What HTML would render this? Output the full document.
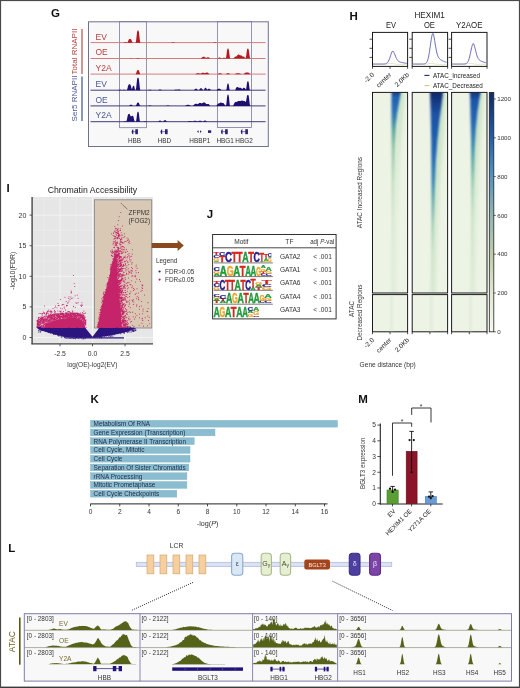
<!DOCTYPE html>
<html><head><meta charset="utf-8"><style>
html,body{margin:0;padding:0;background:#fff;width:520px;height:688px;overflow:hidden}
svg{display:block;will-change:transform}
text{font-family:"Liberation Sans",sans-serif}
</style></head><body>
<svg width="520" height="688" viewBox="0 0 520 688">
<rect width="520" height="688" fill="#fff"/>
<text x="51.00" y="16.80" font-size="11.5" fill="#111" text-anchor="start" font-weight="bold" >G</text>
<rect x="88.50" y="21.80" width="179.80" height="124.70" fill="#f8f8f9" stroke="#70708f" stroke-width="1" />
<rect x="119.60" y="21.50" width="26.80" height="106.20" fill="none" stroke="#7c7c9e" stroke-width="0.8" />
<rect x="217.50" y="21.50" width="34.00" height="106.00" fill="none" stroke="#7c7c9e" stroke-width="0.8" />
<line x1="90.50" y1="42.60" x2="265.60" y2="42.60" stroke="#d47c7c" stroke-width="1" />
<path d="M91.00,42.70 L91.00,42.70 L91.40,42.70 L91.80,42.70 L92.20,42.70 L92.60,42.70 L93.00,42.70 L93.40,42.70 L93.80,42.70 L94.20,42.70 L94.60,42.70 L95.00,42.70 L95.40,42.70 L95.80,42.70 L96.20,42.70 L96.60,42.70 L97.00,42.70 L97.40,42.70 L97.80,42.70 L98.20,42.70 L98.60,42.70 L99.00,42.70 L99.40,42.70 L99.80,42.70 L100.20,42.70 L100.60,42.70 L101.00,42.70 L101.40,42.70 L101.80,42.70 L102.20,42.70 L102.60,42.70 L103.00,42.70 L103.40,42.70 L103.80,42.70 L104.20,42.70 L104.60,42.70 L105.00,42.70 L105.40,42.70 L105.80,42.70 L106.20,42.70 L106.60,42.70 L107.00,42.70 L107.40,42.70 L107.80,42.70 L108.20,42.70 L108.60,42.70 L109.00,42.70 L109.40,42.70 L109.80,42.70 L110.20,42.70 L110.60,42.70 L111.00,42.70 L111.40,42.70 L111.80,42.70 L112.20,42.70 L112.60,42.70 L113.00,42.70 L113.40,42.70 L113.80,42.70 L114.20,42.70 L114.60,42.70 L115.00,42.70 L115.40,42.70 L115.80,42.70 L116.20,42.70 L116.60,42.70 L117.00,42.70 L117.40,42.70 L117.80,42.70 L118.20,42.70 L118.60,42.70 L119.00,42.70 L119.40,42.70 L119.80,42.70 L120.20,42.70 L120.60,42.70 L121.00,42.70 L121.40,42.70 L121.80,42.70 L122.20,42.70 L122.60,42.70 L123.00,42.70 L123.40,42.69 L123.80,42.61 L124.20,42.42 L124.60,42.21 L125.00,42.12 L125.40,42.10 L125.80,42.10 L126.20,42.15 L126.60,42.30 L127.00,42.48 L127.40,42.42 L127.80,41.88 L128.20,40.93 L128.60,39.93 L129.00,39.25 L129.40,38.96 L129.80,38.90 L130.20,38.90 L130.60,38.96 L131.00,39.25 L131.40,39.93 L131.80,40.93 L132.20,41.89 L132.60,42.46 L133.00,42.66 L133.40,42.70 L133.80,42.70 L134.20,42.70 L134.60,42.70 L135.00,42.70 L135.40,42.65 L135.80,42.15 L136.20,40.07 L136.60,36.21 L137.00,32.60 L137.40,30.80 L137.80,30.41 L138.20,30.41 L138.60,30.80 L139.00,32.60 L139.40,36.21 L139.80,40.07 L140.20,42.15 L140.60,42.65 L141.00,42.70 L141.40,42.70 L141.80,42.70 L142.20,42.70 L142.60,42.70 L143.00,42.70 L143.40,42.70 L143.80,42.70 L144.20,42.70 L144.60,42.70 L145.00,42.70 L145.40,42.70 L145.80,42.70 L146.20,42.70 L146.60,42.70 L147.00,42.70 L147.40,42.70 L147.80,42.70 L148.20,42.70 L148.60,42.70 L149.00,42.70 L149.40,42.70 L149.80,42.70 L150.20,42.70 L150.60,42.70 L151.00,42.70 L151.40,42.70 L151.80,42.70 L152.20,42.70 L152.60,42.70 L153.00,42.70 L153.40,42.70 L153.80,42.70 L154.20,42.70 L154.60,42.70 L155.00,42.70 L155.40,42.70 L155.80,42.70 L156.20,42.70 L156.60,42.70 L157.00,42.70 L157.40,42.70 L157.80,42.70 L158.20,42.70 L158.60,42.70 L159.00,42.70 L159.40,42.70 L159.80,42.70 L160.20,42.70 L160.60,42.70 L161.00,42.70 L161.40,42.70 L161.80,42.70 L162.20,42.70 L162.60,42.70 L163.00,42.70 L163.40,42.70 L163.80,42.70 L164.20,42.70 L164.60,42.70 L165.00,42.70 L165.40,42.70 L165.80,42.70 L166.20,42.70 L166.60,42.70 L167.00,42.70 L167.40,42.70 L167.80,42.70 L168.20,42.70 L168.60,42.70 L169.00,42.70 L169.40,42.70 L169.80,42.70 L170.20,42.70 L170.60,42.70 L171.00,42.69 L171.40,42.61 L171.80,42.47 L172.20,42.35 L172.60,42.30 L173.00,42.30 L173.40,42.30 L173.80,42.35 L174.20,42.47 L174.60,42.61 L175.00,42.69 L175.40,42.70 L175.80,42.70 L176.20,42.70 L176.60,42.70 L177.00,42.70 L177.40,42.70 L177.80,42.70 L178.20,42.70 L178.60,42.70 L179.00,42.70 L179.40,42.70 L179.80,42.70 L180.20,42.70 L180.60,42.70 L181.00,42.70 L181.40,42.70 L181.80,42.70 L182.20,42.70 L182.60,42.70 L183.00,42.70 L183.40,42.70 L183.80,42.70 L184.20,42.70 L184.60,42.70 L185.00,42.70 L185.40,42.70 L185.80,42.70 L186.20,42.70 L186.60,42.70 L187.00,42.70 L187.40,42.70 L187.80,42.70 L188.20,42.70 L188.60,42.70 L189.00,42.70 L189.40,42.70 L189.80,42.70 L190.20,42.70 L190.60,42.70 L191.00,42.70 L191.40,42.70 L191.80,42.70 L192.20,42.70 L192.60,42.70 L193.00,42.70 L193.40,42.70 L193.80,42.70 L194.20,42.70 L194.60,42.70 L195.00,42.70 L195.40,42.70 L195.80,42.70 L196.20,42.70 L196.60,42.70 L197.00,42.70 L197.40,42.70 L197.80,42.70 L198.20,42.70 L198.60,42.70 L199.00,42.70 L199.40,42.70 L199.80,42.70 L200.20,42.70 L200.60,42.70 L201.00,42.70 L201.40,42.70 L201.80,42.70 L202.20,42.70 L202.60,42.70 L203.00,42.70 L203.40,42.70 L203.80,42.70 L204.20,42.70 L204.60,42.70 L205.00,42.70 L205.40,42.70 L205.80,42.70 L206.20,42.70 L206.60,42.70 L207.00,42.70 L207.40,42.70 L207.80,42.70 L208.20,42.70 L208.60,42.70 L209.00,42.70 L209.40,42.70 L209.80,42.70 L210.20,42.70 L210.60,42.70 L211.00,42.70 L211.40,42.70 L211.80,42.70 L212.20,42.70 L212.60,42.70 L213.00,42.68 L213.40,42.59 L213.80,42.42 L214.20,42.26 L214.60,42.21 L215.00,42.20 L215.40,42.21 L215.80,42.26 L216.20,42.42 L216.60,42.59 L217.00,42.68 L217.40,42.70 L217.80,42.70 L218.20,42.70 L218.60,42.70 L219.00,42.70 L219.40,42.70 L219.80,42.70 L220.20,42.70 L220.60,42.70 L221.00,42.70 L221.40,42.70 L221.80,42.70 L222.20,42.70 L222.60,42.70 L223.00,42.70 L223.40,42.70 L223.80,42.70 L224.20,42.70 L224.60,42.70 L225.00,42.70 L225.40,42.70 L225.80,42.70 L226.20,42.70 L226.60,42.70 L227.00,42.70 L227.40,42.70 L227.80,42.70 L228.20,42.70 L228.60,42.70 L229.00,42.70 L229.40,42.70 L229.80,42.70 L230.20,42.70 L230.60,42.70 L231.00,42.70 L231.40,42.70 L231.80,42.70 L232.20,42.70 L232.60,42.70 L233.00,42.70 L233.40,42.70 L233.80,42.70 L234.20,42.70 L234.60,42.70 L235.00,42.70 L235.40,42.70 L235.80,42.70 L236.20,42.70 L236.60,42.70 L237.00,42.70 L237.40,42.70 L237.80,42.70 L238.20,42.70 L238.60,42.70 L239.00,42.70 L239.40,42.70 L239.80,42.70 L240.20,42.70 L240.60,42.70 L241.00,42.70 L241.40,42.70 L241.80,42.70 L242.20,42.70 L242.60,42.70 L243.00,42.70 L243.40,42.70 L243.80,42.70 L244.20,42.70 L244.60,42.70 L245.00,42.70 L245.40,42.70 L245.80,42.70 L246.20,42.70 L246.60,42.70 L247.00,42.70 L247.40,42.70 L247.80,42.70 L248.20,42.70 L248.60,42.70 L249.00,42.70 L249.40,42.70 L249.80,42.70 L250.20,42.70 L250.60,42.70 L251.00,42.70 L251.40,42.70 L251.80,42.70 L252.20,42.70 L252.60,42.70 L253.00,42.70 L253.40,42.70 L253.80,42.70 L254.20,42.70 L254.60,42.70 L255.00,42.70 L255.40,42.70 L255.80,42.70 L256.20,42.70 L256.60,42.70 L257.00,42.70 L257.40,42.70 L257.80,42.70 L258.20,42.70 L258.60,42.70 L259.00,42.70 L259.40,42.70 L259.80,42.70 L260.20,42.70 L260.60,42.70 L261.00,42.70 L261.40,42.70 L261.80,42.70 L262.20,42.70 L262.60,42.70 L263.00,42.70 L263.40,42.70 L263.80,42.70 L264.20,42.70 L264.60,42.70 L265.00,42.70 L265.00,42.70Z" fill="#b3191f"/>
<line x1="90.50" y1="58.50" x2="265.60" y2="58.50" stroke="#d47c7c" stroke-width="1" />
<path d="M91.00,58.60 L91.00,58.60 L91.40,58.60 L91.80,58.60 L92.20,58.60 L92.60,58.60 L93.00,58.60 L93.40,58.60 L93.80,58.60 L94.20,58.60 L94.60,58.60 L95.00,58.60 L95.40,58.60 L95.80,58.60 L96.20,58.60 L96.60,58.60 L97.00,58.60 L97.40,58.60 L97.80,58.60 L98.20,58.60 L98.60,58.60 L99.00,58.60 L99.40,58.60 L99.80,58.60 L100.20,58.60 L100.60,58.60 L101.00,58.60 L101.40,58.60 L101.80,58.60 L102.20,58.60 L102.60,58.60 L103.00,58.60 L103.40,58.60 L103.80,58.60 L104.20,58.60 L104.60,58.60 L105.00,58.60 L105.40,58.60 L105.80,58.60 L106.20,58.60 L106.60,58.60 L107.00,58.60 L107.40,58.60 L107.80,58.60 L108.20,58.60 L108.60,58.60 L109.00,58.60 L109.40,58.60 L109.80,58.60 L110.20,58.60 L110.60,58.60 L111.00,58.60 L111.40,58.60 L111.80,58.60 L112.20,58.60 L112.60,58.60 L113.00,58.60 L113.40,58.60 L113.80,58.60 L114.20,58.60 L114.60,58.60 L115.00,58.60 L115.40,58.60 L115.80,58.60 L116.20,58.60 L116.60,58.60 L117.00,58.60 L117.40,58.60 L117.80,58.60 L118.20,58.60 L118.60,58.60 L119.00,58.60 L119.40,58.60 L119.80,58.60 L120.20,58.60 L120.60,58.60 L121.00,58.60 L121.40,58.60 L121.80,58.60 L122.20,58.60 L122.60,58.60 L123.00,58.60 L123.40,58.60 L123.80,58.60 L124.20,58.60 L124.60,58.60 L125.00,58.60 L125.40,58.60 L125.80,58.60 L126.20,58.60 L126.60,58.60 L127.00,58.60 L127.40,58.60 L127.80,58.60 L128.20,58.60 L128.60,58.60 L129.00,58.59 L129.40,58.51 L129.80,58.37 L130.20,58.25 L130.60,58.20 L131.00,58.20 L131.40,58.20 L131.80,58.25 L132.20,58.37 L132.60,58.51 L133.00,58.59 L133.40,58.60 L133.80,58.60 L134.20,58.60 L134.60,58.60 L135.00,58.60 L135.40,58.60 L135.80,58.59 L136.20,58.54 L136.60,58.37 L137.00,58.15 L137.40,58.03 L137.80,58.00 L138.20,58.00 L138.60,58.03 L139.00,58.15 L139.40,58.37 L139.80,58.54 L140.20,58.59 L140.60,58.60 L141.00,58.60 L141.40,58.60 L141.80,58.60 L142.20,58.60 L142.60,58.60 L143.00,58.60 L143.40,58.60 L143.80,58.60 L144.20,58.60 L144.60,58.60 L145.00,58.60 L145.40,58.60 L145.80,58.60 L146.20,58.60 L146.60,58.60 L147.00,58.60 L147.40,58.60 L147.80,58.60 L148.20,58.60 L148.60,58.60 L149.00,58.60 L149.40,58.60 L149.80,58.60 L150.20,58.60 L150.60,58.60 L151.00,58.60 L151.40,58.60 L151.80,58.60 L152.20,58.60 L152.60,58.60 L153.00,58.60 L153.40,58.60 L153.80,58.60 L154.20,58.60 L154.60,58.60 L155.00,58.60 L155.40,58.60 L155.80,58.60 L156.20,58.60 L156.60,58.60 L157.00,58.60 L157.40,58.60 L157.80,58.60 L158.20,58.60 L158.60,58.60 L159.00,58.60 L159.40,58.60 L159.80,58.60 L160.20,58.60 L160.60,58.60 L161.00,58.60 L161.40,58.60 L161.80,58.60 L162.20,58.60 L162.60,58.60 L163.00,58.60 L163.40,58.60 L163.80,58.60 L164.20,58.60 L164.60,58.60 L165.00,58.60 L165.40,58.60 L165.80,58.60 L166.20,58.60 L166.60,58.60 L167.00,58.60 L167.40,58.60 L167.80,58.60 L168.20,58.60 L168.60,58.60 L169.00,58.60 L169.40,58.60 L169.80,58.60 L170.20,58.60 L170.60,58.60 L171.00,58.60 L171.40,58.60 L171.80,58.60 L172.20,58.60 L172.60,58.60 L173.00,58.60 L173.40,58.60 L173.80,58.60 L174.20,58.60 L174.60,58.60 L175.00,58.60 L175.40,58.60 L175.80,58.60 L176.20,58.60 L176.60,58.60 L177.00,58.60 L177.40,58.60 L177.80,58.60 L178.20,58.60 L178.60,58.60 L179.00,58.60 L179.40,58.60 L179.80,58.60 L180.20,58.60 L180.60,58.60 L181.00,58.60 L181.40,58.60 L181.80,58.60 L182.20,58.60 L182.60,58.60 L183.00,58.60 L183.40,58.60 L183.80,58.60 L184.20,58.60 L184.60,58.60 L185.00,58.60 L185.40,58.60 L185.80,58.60 L186.20,58.60 L186.60,58.60 L187.00,58.60 L187.40,58.60 L187.80,58.60 L188.20,58.60 L188.60,58.60 L189.00,58.60 L189.40,58.60 L189.80,58.60 L190.20,58.60 L190.60,58.60 L191.00,58.60 L191.40,58.60 L191.80,58.60 L192.20,58.60 L192.60,58.60 L193.00,58.60 L193.40,58.60 L193.80,58.60 L194.20,58.60 L194.60,58.60 L195.00,58.60 L195.40,58.60 L195.80,58.60 L196.20,58.60 L196.60,58.60 L197.00,58.60 L197.40,58.60 L197.80,58.60 L198.20,58.60 L198.60,58.60 L199.00,58.60 L199.40,58.60 L199.80,58.60 L200.20,58.59 L200.60,58.54 L201.00,58.37 L201.40,58.02 L201.80,57.57 L202.20,57.17 L202.60,56.92 L203.00,56.82 L203.40,56.80 L203.80,56.80 L204.20,56.82 L204.60,56.92 L205.00,57.17 L205.40,57.55 L205.80,57.87 L206.20,57.92 L206.60,57.70 L207.00,57.46 L207.40,57.33 L207.80,57.30 L208.20,57.30 L208.60,57.33 L209.00,57.47 L209.40,57.76 L209.80,58.15 L210.20,58.45 L210.60,58.57 L211.00,58.60 L211.40,58.60 L211.80,58.60 L212.20,58.60 L212.60,58.60 L213.00,58.60 L213.40,58.60 L213.80,58.60 L214.20,58.60 L214.60,58.60 L215.00,58.60 L215.40,58.60 L215.80,58.60 L216.20,58.60 L216.60,58.60 L217.00,58.57 L217.40,58.44 L217.80,58.18 L218.20,57.89 L218.60,57.69 L219.00,57.61 L219.40,57.60 L219.80,57.60 L220.20,57.64 L220.60,57.77 L221.00,58.03 L221.40,58.31 L221.80,58.43 L222.20,58.31 L222.60,58.09 L223.00,57.90 L223.40,57.82 L223.80,57.80 L224.20,57.80 L224.60,57.82 L225.00,57.90 L225.40,58.07 L225.80,58.10 L226.20,56.98 L226.60,54.00 L227.00,50.74 L227.40,48.99 L227.80,48.61 L228.20,48.61 L228.60,48.99 L229.00,50.74 L229.40,54.02 L229.80,57.08 L230.20,58.38 L230.60,58.59 L231.00,58.60 L231.40,58.60 L231.80,58.60 L232.20,58.59 L232.60,58.56 L233.00,58.46 L233.40,58.24 L233.80,57.91 L234.20,57.51 L234.60,57.14 L235.00,56.85 L235.40,56.69 L235.80,56.60 L236.20,56.51 L236.60,56.29 L237.00,55.82 L237.40,55.20 L237.80,54.64 L238.20,54.36 L238.60,54.43 L239.00,54.73 L239.40,55.09 L239.80,55.34 L240.20,55.42 L240.60,55.37 L241.00,55.31 L241.40,55.43 L241.80,55.75 L242.20,56.15 L242.60,56.43 L243.00,56.56 L243.40,56.60 L243.80,56.66 L244.20,56.85 L244.60,57.22 L245.00,57.71 L245.40,58.09 L245.80,57.75 L246.20,55.74 L246.60,52.49 L247.00,49.87 L247.40,48.77 L247.80,48.60 L248.20,48.63 L248.60,49.15 L249.00,51.00 L249.40,54.17 L249.80,57.05 L250.20,58.34 L250.60,58.58 L251.00,58.60 L251.40,58.60 L251.80,58.60 L252.20,58.60 L252.60,58.60 L253.00,58.60 L253.40,58.60 L253.80,58.60 L254.20,58.60 L254.60,58.60 L255.00,58.60 L255.40,58.60 L255.80,58.60 L256.20,58.60 L256.60,58.60 L257.00,58.60 L257.40,58.60 L257.80,58.60 L258.20,58.60 L258.60,58.60 L259.00,58.60 L259.40,58.60 L259.80,58.60 L260.20,58.60 L260.60,58.60 L261.00,58.60 L261.40,58.60 L261.80,58.60 L262.20,58.60 L262.60,58.60 L263.00,58.60 L263.40,58.60 L263.80,58.60 L264.20,58.60 L264.60,58.60 L265.00,58.60 L265.00,58.60Z" fill="#b3191f"/>
<line x1="90.50" y1="74.10" x2="265.60" y2="74.10" stroke="#d47c7c" stroke-width="1" />
<path d="M91.00,74.20 L91.00,74.20 L91.40,74.20 L91.80,74.20 L92.20,74.20 L92.60,74.20 L93.00,74.20 L93.40,74.20 L93.80,74.20 L94.20,74.20 L94.60,74.20 L95.00,74.20 L95.40,74.20 L95.80,74.20 L96.20,74.20 L96.60,74.20 L97.00,74.20 L97.40,74.20 L97.80,74.20 L98.20,74.20 L98.60,74.20 L99.00,74.20 L99.40,74.20 L99.80,74.20 L100.20,74.20 L100.60,74.20 L101.00,74.20 L101.40,74.20 L101.80,74.20 L102.20,74.20 L102.60,74.20 L103.00,74.20 L103.40,74.20 L103.80,74.20 L104.20,74.20 L104.60,74.20 L105.00,74.20 L105.40,74.20 L105.80,74.20 L106.20,74.20 L106.60,74.20 L107.00,74.20 L107.40,74.20 L107.80,74.20 L108.20,74.20 L108.60,74.20 L109.00,74.20 L109.40,74.20 L109.80,74.20 L110.20,74.20 L110.60,74.20 L111.00,74.20 L111.40,74.20 L111.80,74.20 L112.20,74.20 L112.60,74.20 L113.00,74.20 L113.40,74.20 L113.80,74.20 L114.20,74.20 L114.60,74.20 L115.00,74.20 L115.40,74.20 L115.80,74.20 L116.20,74.20 L116.60,74.20 L117.00,74.20 L117.40,74.20 L117.80,74.20 L118.20,74.20 L118.60,74.20 L119.00,74.20 L119.40,74.20 L119.80,74.20 L120.20,74.20 L120.60,74.20 L121.00,74.20 L121.40,74.20 L121.80,74.20 L122.20,74.20 L122.60,74.20 L123.00,74.20 L123.40,74.20 L123.80,74.20 L124.20,74.20 L124.60,74.20 L125.00,74.20 L125.40,74.20 L125.80,74.20 L126.20,74.20 L126.60,74.20 L127.00,74.20 L127.40,74.20 L127.80,74.20 L128.20,74.20 L128.60,74.20 L129.00,74.20 L129.40,74.20 L129.80,74.20 L130.20,74.20 L130.60,74.20 L131.00,74.20 L131.40,74.20 L131.80,74.20 L132.20,74.20 L132.60,74.20 L133.00,74.20 L133.40,74.20 L133.80,74.20 L134.20,74.20 L134.60,74.20 L135.00,74.20 L135.40,74.18 L135.80,74.01 L136.20,73.30 L136.60,71.98 L137.00,70.75 L137.40,70.14 L137.80,70.00 L138.20,70.00 L138.60,70.14 L139.00,70.75 L139.40,71.98 L139.80,73.30 L140.20,74.01 L140.60,74.18 L141.00,74.20 L141.40,74.20 L141.80,74.20 L142.20,74.20 L142.60,74.20 L143.00,74.20 L143.40,74.20 L143.80,74.20 L144.20,74.20 L144.60,74.20 L145.00,74.20 L145.40,74.20 L145.80,74.20 L146.20,74.20 L146.60,74.20 L147.00,74.20 L147.40,74.20 L147.80,74.20 L148.20,74.20 L148.60,74.20 L149.00,74.20 L149.40,74.20 L149.80,74.20 L150.20,74.20 L150.60,74.20 L151.00,74.20 L151.40,74.20 L151.80,74.20 L152.20,74.20 L152.60,74.20 L153.00,74.20 L153.40,74.20 L153.80,74.20 L154.20,74.20 L154.60,74.20 L155.00,74.20 L155.40,74.20 L155.80,74.20 L156.20,74.20 L156.60,74.20 L157.00,74.20 L157.40,74.20 L157.80,74.20 L158.20,74.20 L158.60,74.20 L159.00,74.20 L159.40,74.20 L159.80,74.20 L160.20,74.20 L160.60,74.20 L161.00,74.20 L161.40,74.20 L161.80,74.20 L162.20,74.20 L162.60,74.20 L163.00,74.20 L163.40,74.20 L163.80,74.20 L164.20,74.20 L164.60,74.20 L165.00,74.20 L165.40,74.20 L165.80,74.20 L166.20,74.20 L166.60,74.20 L167.00,74.20 L167.40,74.20 L167.80,74.20 L168.20,74.20 L168.60,74.20 L169.00,74.20 L169.40,74.20 L169.80,74.20 L170.20,74.20 L170.60,74.20 L171.00,74.20 L171.40,74.20 L171.80,74.20 L172.20,74.20 L172.60,74.20 L173.00,74.20 L173.40,74.20 L173.80,74.20 L174.20,74.20 L174.60,74.20 L175.00,74.20 L175.40,74.20 L175.80,74.20 L176.20,74.20 L176.60,74.20 L177.00,74.20 L177.40,74.20 L177.80,74.20 L178.20,74.20 L178.60,74.20 L179.00,74.20 L179.40,74.20 L179.80,74.20 L180.20,74.20 L180.60,74.20 L181.00,74.20 L181.40,74.20 L181.80,74.20 L182.20,74.20 L182.60,74.20 L183.00,74.20 L183.40,74.20 L183.80,74.20 L184.20,74.20 L184.60,74.20 L185.00,74.20 L185.40,74.20 L185.80,74.20 L186.20,74.20 L186.60,74.20 L187.00,74.20 L187.40,74.20 L187.80,74.20 L188.20,74.20 L188.60,74.20 L189.00,74.20 L189.40,74.20 L189.80,74.20 L190.20,74.20 L190.60,74.20 L191.00,74.20 L191.40,74.20 L191.80,74.20 L192.20,74.20 L192.60,74.20 L193.00,74.20 L193.40,74.20 L193.80,74.20 L194.20,74.20 L194.60,74.20 L195.00,74.17 L195.40,74.08 L195.80,73.91 L196.20,73.69 L196.60,73.49 L197.00,73.36 L197.40,73.31 L197.80,73.30 L198.20,73.30 L198.60,73.31 L199.00,73.36 L199.40,73.49 L199.80,73.67 L200.20,73.81 L200.60,73.78 L201.00,73.55 L201.40,73.23 L201.80,72.98 L202.20,72.85 L202.60,72.80 L203.00,72.80 L203.40,72.80 L203.80,72.84 L204.20,72.97 L204.60,73.15 L205.00,73.24 L205.40,73.11 L205.80,72.86 L206.20,72.68 L206.60,72.61 L207.00,72.60 L207.40,72.61 L207.80,72.70 L208.20,72.96 L208.60,73.41 L209.00,73.86 L209.40,74.11 L209.80,74.19 L210.20,74.20 L210.60,74.20 L211.00,74.20 L211.40,74.20 L211.80,74.20 L212.20,74.20 L212.60,74.20 L213.00,74.20 L213.40,74.20 L213.80,74.20 L214.20,74.20 L214.60,74.20 L215.00,74.20 L215.40,74.20 L215.80,74.20 L216.20,74.20 L216.60,74.20 L217.00,74.20 L217.40,74.18 L217.80,74.10 L218.20,73.89 L218.60,73.62 L219.00,73.41 L219.40,73.32 L219.80,73.30 L220.20,73.30 L220.60,73.32 L221.00,73.41 L221.40,73.62 L221.80,73.89 L222.20,74.10 L222.60,74.18 L223.00,74.20 L223.40,74.20 L223.80,74.20 L224.20,74.20 L224.60,74.20 L225.00,74.20 L225.40,74.18 L225.80,74.10 L226.20,73.89 L226.60,73.62 L227.00,73.41 L227.40,73.32 L227.80,73.30 L228.20,73.30 L228.60,73.32 L229.00,73.41 L229.40,73.62 L229.80,73.89 L230.20,74.10 L230.60,74.18 L231.00,74.20 L231.40,74.20 L231.80,74.20 L232.20,74.20 L232.60,74.20 L233.00,74.20 L233.40,74.20 L233.80,74.19 L234.20,74.17 L234.60,74.12 L235.00,74.01 L235.40,73.85 L235.80,73.67 L236.20,73.50 L236.60,73.39 L237.00,73.33 L237.40,73.30 L237.80,73.30 L238.20,73.30 L238.60,73.30 L239.00,73.33 L239.40,73.39 L239.80,73.50 L240.20,73.67 L240.60,73.85 L241.00,74.01 L241.40,74.12 L241.80,74.17 L242.20,74.19 L242.60,74.19 L243.00,74.17 L243.40,74.10 L243.80,73.94 L244.20,73.66 L244.60,73.31 L245.00,72.96 L245.40,72.68 L245.80,72.51 L246.20,72.43 L246.60,72.40 L247.00,72.40 L247.40,72.40 L247.80,72.43 L248.20,72.51 L248.60,72.68 L249.00,72.96 L249.40,73.31 L249.80,73.66 L250.20,73.94 L250.60,74.10 L251.00,74.17 L251.40,74.20 L251.80,74.20 L252.20,74.20 L252.60,74.20 L253.00,74.20 L253.40,74.20 L253.80,74.20 L254.20,74.20 L254.60,74.20 L255.00,74.20 L255.40,74.20 L255.80,74.20 L256.20,74.20 L256.60,74.20 L257.00,74.20 L257.40,74.20 L257.80,74.20 L258.20,74.20 L258.60,74.20 L259.00,74.20 L259.40,74.20 L259.80,74.20 L260.20,74.20 L260.60,74.20 L261.00,74.20 L261.40,74.20 L261.80,74.20 L262.20,74.20 L262.60,74.20 L263.00,74.20 L263.40,74.20 L263.80,74.20 L264.20,74.20 L264.60,74.20 L265.00,74.20 L265.00,74.20Z" fill="#b3191f"/>
<line x1="90.50" y1="90.20" x2="265.60" y2="90.20" stroke="#3d3d7a" stroke-width="1" />
<path d="M91.00,90.30 L91.00,90.30 L91.40,90.30 L91.80,90.30 L92.20,90.30 L92.60,90.30 L93.00,90.30 L93.40,90.30 L93.80,90.30 L94.20,90.30 L94.60,90.30 L95.00,90.30 L95.40,90.30 L95.80,90.30 L96.20,90.30 L96.60,90.30 L97.00,90.30 L97.40,90.30 L97.80,90.30 L98.20,90.30 L98.60,90.30 L99.00,90.30 L99.40,90.30 L99.80,90.30 L100.20,90.30 L100.60,90.30 L101.00,90.30 L101.40,90.30 L101.80,90.30 L102.20,90.30 L102.60,90.30 L103.00,90.30 L103.40,90.30 L103.80,90.30 L104.20,90.30 L104.60,90.30 L105.00,90.30 L105.40,90.30 L105.80,90.30 L106.20,90.30 L106.60,90.30 L107.00,90.30 L107.40,90.30 L107.80,90.30 L108.20,90.30 L108.60,90.30 L109.00,90.30 L109.40,90.30 L109.80,90.30 L110.20,90.30 L110.60,90.30 L111.00,90.30 L111.40,90.30 L111.80,90.30 L112.20,90.30 L112.60,90.30 L113.00,90.30 L113.40,90.30 L113.80,90.30 L114.20,90.30 L114.60,90.30 L115.00,90.30 L115.40,90.30 L115.80,90.30 L116.20,90.30 L116.60,90.30 L117.00,90.30 L117.40,90.30 L117.80,90.29 L118.20,90.24 L118.60,90.07 L119.00,89.85 L119.40,89.73 L119.80,89.70 L120.20,89.70 L120.60,89.73 L121.00,89.85 L121.40,90.07 L121.80,90.24 L122.20,90.25 L122.60,90.11 L123.00,89.93 L123.40,89.82 L123.80,89.80 L124.20,89.80 L124.60,89.82 L125.00,89.93 L125.40,90.11 L125.80,90.25 L126.20,90.29 L126.60,90.20 L127.00,89.76 L127.40,88.68 L127.80,87.09 L128.20,85.60 L128.60,84.69 L129.00,84.35 L129.40,84.30 L129.80,84.31 L130.20,84.47 L130.60,85.06 L131.00,86.29 L131.40,87.91 L131.80,89.09 L132.20,88.67 L132.60,87.02 L133.00,85.98 L133.40,85.80 L133.80,85.83 L134.20,86.37 L134.60,87.98 L135.00,89.67 L135.40,90.20 L135.80,89.74 L136.20,87.60 L136.60,83.65 L137.00,79.95 L137.40,78.11 L137.80,77.71 L138.20,77.71 L138.60,78.11 L139.00,79.95 L139.40,83.65 L139.80,87.60 L140.20,89.74 L140.60,90.25 L141.00,90.30 L141.40,90.30 L141.80,90.30 L142.20,90.30 L142.60,90.30 L143.00,90.30 L143.40,90.30 L143.80,90.30 L144.20,90.30 L144.60,90.30 L145.00,90.30 L145.40,90.30 L145.80,90.30 L146.20,90.30 L146.60,90.30 L147.00,90.30 L147.40,90.30 L147.80,90.29 L148.20,90.24 L148.60,90.07 L149.00,89.85 L149.40,89.73 L149.80,89.70 L150.20,89.70 L150.60,89.73 L151.00,89.85 L151.40,90.07 L151.80,90.24 L152.20,90.29 L152.60,90.30 L153.00,90.30 L153.40,90.30 L153.80,90.30 L154.20,90.30 L154.60,90.30 L155.00,90.30 L155.40,90.30 L155.80,90.30 L156.20,90.30 L156.60,90.30 L157.00,90.30 L157.40,90.30 L157.80,90.29 L158.20,90.22 L158.60,90.00 L159.00,89.71 L159.40,89.54 L159.80,89.50 L160.20,89.50 L160.60,89.54 L161.00,89.71 L161.40,90.00 L161.80,90.22 L162.20,90.29 L162.60,90.30 L163.00,90.30 L163.40,90.30 L163.80,90.30 L164.20,90.30 L164.60,90.30 L165.00,90.30 L165.40,90.30 L165.80,90.30 L166.20,90.30 L166.60,90.30 L167.00,90.30 L167.40,90.30 L167.80,90.30 L168.20,90.30 L168.60,90.30 L169.00,90.30 L169.40,90.30 L169.80,90.30 L170.20,90.30 L170.60,90.30 L171.00,90.30 L171.40,90.30 L171.80,90.30 L172.20,90.30 L172.60,90.30 L173.00,90.30 L173.40,90.30 L173.80,90.29 L174.20,90.23 L174.60,90.03 L175.00,89.78 L175.40,89.63 L175.80,89.60 L176.20,89.60 L176.60,89.63 L177.00,89.75 L177.40,89.84 L177.80,89.72 L178.20,89.51 L178.60,89.41 L179.00,89.40 L179.40,89.41 L179.80,89.51 L180.20,89.79 L180.60,90.11 L181.00,90.27 L181.40,90.30 L181.80,90.30 L182.20,90.30 L182.60,90.30 L183.00,90.30 L183.40,90.30 L183.80,90.30 L184.20,90.30 L184.60,90.30 L185.00,90.30 L185.40,90.30 L185.80,90.30 L186.20,90.30 L186.60,90.30 L187.00,90.30 L187.40,90.30 L187.80,90.30 L188.20,90.30 L188.60,90.30 L189.00,90.30 L189.40,90.30 L189.80,90.30 L190.20,90.30 L190.60,90.30 L191.00,90.30 L191.40,90.30 L191.80,90.30 L192.20,90.30 L192.60,90.30 L193.00,90.30 L193.40,90.29 L193.80,90.23 L194.20,89.98 L194.60,89.51 L195.00,89.07 L195.40,88.85 L195.80,88.80 L196.20,88.80 L196.60,88.85 L197.00,89.07 L197.40,89.51 L197.80,89.98 L198.20,90.23 L198.60,90.26 L199.00,90.08 L199.40,89.58 L199.80,88.92 L200.20,88.47 L200.60,88.32 L201.00,88.30 L201.40,88.32 L201.80,88.47 L202.20,88.92 L202.60,89.58 L203.00,90.08 L203.40,90.27 L203.80,90.18 L204.20,89.54 L204.60,88.50 L205.00,87.90 L205.40,87.80 L205.80,87.82 L206.20,88.12 L206.60,88.99 L207.00,89.79 L207.40,89.73 L207.80,89.27 L208.20,88.93 L208.60,88.81 L209.00,88.80 L209.40,88.81 L209.80,88.93 L210.20,89.27 L210.60,89.76 L211.00,90.14 L211.40,90.28 L211.80,90.30 L212.20,90.30 L212.60,90.30 L213.00,90.30 L213.40,90.30 L213.80,90.30 L214.20,90.30 L214.60,90.30 L215.00,90.30 L215.40,90.30 L215.80,90.28 L216.20,90.19 L216.60,89.98 L217.00,89.64 L217.40,89.27 L217.80,88.99 L218.20,88.85 L218.60,88.80 L219.00,88.80 L219.40,88.80 L219.80,88.85 L220.20,88.99 L220.60,89.27 L221.00,89.64 L221.40,89.98 L221.80,90.19 L222.20,90.28 L222.60,90.30 L223.00,90.30 L223.40,90.30 L223.80,90.30 L224.20,90.30 L224.60,90.30 L225.00,90.30 L225.40,90.30 L225.80,90.30 L226.20,90.13 L226.60,88.84 L227.00,86.07 L227.40,84.02 L227.80,83.51 L228.20,83.51 L228.60,84.02 L229.00,86.07 L229.40,88.84 L229.80,90.13 L230.20,90.30 L230.60,90.30 L231.00,90.30 L231.40,90.30 L231.80,90.30 L232.20,90.30 L232.60,90.30 L233.00,90.30 L233.40,90.30 L233.80,90.30 L234.20,90.30 L234.60,90.29 L235.00,90.20 L235.40,89.66 L235.80,88.59 L236.20,87.68 L236.60,87.32 L237.00,87.21 L237.40,87.01 L237.80,86.88 L238.20,87.17 L238.60,87.68 L239.00,87.87 L239.40,87.82 L239.80,87.80 L240.20,87.80 L240.60,87.83 L241.00,87.97 L241.40,88.31 L241.80,88.76 L242.20,88.96 L242.60,88.66 L243.00,88.16 L243.40,87.87 L243.80,87.80 L244.20,87.80 L244.60,87.88 L245.00,88.25 L245.40,88.98 L245.80,89.60 L246.20,88.85 L246.60,86.02 L247.00,82.97 L247.40,81.53 L247.80,81.30 L248.20,81.34 L248.60,82.04 L249.00,84.36 L249.40,87.67 L249.80,89.76 L250.20,90.26 L250.60,90.30 L251.00,90.30 L251.40,90.30 L251.80,90.30 L252.20,90.30 L252.60,90.30 L253.00,90.30 L253.40,90.30 L253.80,90.30 L254.20,90.30 L254.60,90.30 L255.00,90.30 L255.40,90.30 L255.80,90.30 L256.20,90.30 L256.60,90.30 L257.00,90.30 L257.40,90.30 L257.80,90.30 L258.20,90.30 L258.60,90.30 L259.00,90.30 L259.40,90.30 L259.80,90.30 L260.20,90.30 L260.60,90.30 L261.00,90.30 L261.40,90.30 L261.80,90.30 L262.20,90.30 L262.60,90.30 L263.00,90.30 L263.40,90.30 L263.80,90.30 L264.20,90.30 L264.60,90.30 L265.00,90.30 L265.00,90.30Z" fill="#1c1070"/>
<line x1="90.50" y1="105.90" x2="265.60" y2="105.90" stroke="#3d3d7a" stroke-width="1" />
<path d="M91.00,106.00 L91.00,106.00 L91.40,106.00 L91.80,106.00 L92.20,106.00 L92.60,106.00 L93.00,106.00 L93.40,106.00 L93.80,106.00 L94.20,106.00 L94.60,106.00 L95.00,106.00 L95.40,106.00 L95.80,106.00 L96.20,106.00 L96.60,106.00 L97.00,106.00 L97.40,106.00 L97.80,106.00 L98.20,106.00 L98.60,106.00 L99.00,106.00 L99.40,106.00 L99.80,106.00 L100.20,106.00 L100.60,106.00 L101.00,106.00 L101.40,106.00 L101.80,106.00 L102.20,106.00 L102.60,106.00 L103.00,106.00 L103.40,106.00 L103.80,106.00 L104.20,106.00 L104.60,106.00 L105.00,106.00 L105.40,106.00 L105.80,106.00 L106.20,106.00 L106.60,106.00 L107.00,106.00 L107.40,106.00 L107.80,106.00 L108.20,106.00 L108.60,106.00 L109.00,106.00 L109.40,106.00 L109.80,106.00 L110.20,106.00 L110.60,106.00 L111.00,106.00 L111.40,106.00 L111.80,106.00 L112.20,106.00 L112.60,106.00 L113.00,106.00 L113.40,106.00 L113.80,106.00 L114.20,106.00 L114.60,106.00 L115.00,106.00 L115.40,106.00 L115.80,106.00 L116.20,106.00 L116.60,106.00 L117.00,106.00 L117.40,106.00 L117.80,106.00 L118.20,106.00 L118.60,106.00 L119.00,106.00 L119.40,106.00 L119.80,106.00 L120.20,106.00 L120.60,106.00 L121.00,106.00 L121.40,106.00 L121.80,106.00 L122.20,106.00 L122.60,106.00 L123.00,106.00 L123.40,106.00 L123.80,106.00 L124.20,106.00 L124.60,106.00 L125.00,106.00 L125.40,106.00 L125.80,106.00 L126.20,106.00 L126.60,106.00 L127.00,106.00 L127.40,106.00 L127.80,106.00 L128.20,106.00 L128.60,106.00 L129.00,105.96 L129.40,105.72 L129.80,105.26 L130.20,104.87 L130.60,104.72 L131.00,104.70 L131.40,104.72 L131.80,104.87 L132.20,105.26 L132.60,105.72 L133.00,105.96 L133.40,106.00 L133.80,106.00 L134.20,106.00 L134.60,106.00 L135.00,106.00 L135.40,105.99 L135.80,105.85 L136.20,105.27 L136.60,104.21 L137.00,103.21 L137.40,102.71 L137.80,102.60 L138.20,102.60 L138.60,102.71 L139.00,103.21 L139.40,104.21 L139.80,105.27 L140.20,105.85 L140.60,105.99 L141.00,106.00 L141.40,106.00 L141.80,106.00 L142.20,106.00 L142.60,106.00 L143.00,106.00 L143.40,106.00 L143.80,106.00 L144.20,106.00 L144.60,106.00 L145.00,106.00 L145.40,106.00 L145.80,106.00 L146.20,106.00 L146.60,106.00 L147.00,106.00 L147.40,106.00 L147.80,106.00 L148.20,105.95 L148.60,105.81 L149.00,105.63 L149.40,105.52 L149.80,105.50 L150.20,105.50 L150.60,105.52 L151.00,105.63 L151.40,105.81 L151.80,105.95 L152.20,106.00 L152.60,106.00 L153.00,106.00 L153.40,106.00 L153.80,106.00 L154.20,106.00 L154.60,106.00 L155.00,106.00 L155.40,106.00 L155.80,106.00 L156.20,106.00 L156.60,106.00 L157.00,106.00 L157.40,106.00 L157.80,106.00 L158.20,106.00 L158.60,106.00 L159.00,106.00 L159.40,106.00 L159.80,106.00 L160.20,106.00 L160.60,106.00 L161.00,106.00 L161.40,106.00 L161.80,106.00 L162.20,106.00 L162.60,106.00 L163.00,106.00 L163.40,106.00 L163.80,106.00 L164.20,106.00 L164.60,106.00 L165.00,106.00 L165.40,106.00 L165.80,106.00 L166.20,105.95 L166.60,105.81 L167.00,105.63 L167.40,105.52 L167.80,105.50 L168.20,105.50 L168.60,105.52 L169.00,105.63 L169.40,105.81 L169.80,105.95 L170.20,106.00 L170.60,106.00 L171.00,106.00 L171.40,106.00 L171.80,106.00 L172.20,106.00 L172.60,106.00 L173.00,106.00 L173.40,106.00 L173.80,106.00 L174.20,106.00 L174.60,106.00 L175.00,106.00 L175.40,106.00 L175.80,106.00 L176.20,106.00 L176.60,106.00 L177.00,106.00 L177.40,106.00 L177.80,106.00 L178.20,106.00 L178.60,106.00 L179.00,106.00 L179.40,106.00 L179.80,106.00 L180.20,106.00 L180.60,106.00 L181.00,106.00 L181.40,106.00 L181.80,106.00 L182.20,106.00 L182.60,106.00 L183.00,106.00 L183.40,106.00 L183.80,106.00 L184.20,106.00 L184.60,105.99 L185.00,105.96 L185.40,105.84 L185.80,105.61 L186.20,105.32 L186.60,105.05 L187.00,104.88 L187.40,104.81 L187.80,104.80 L188.20,104.80 L188.60,104.81 L189.00,104.88 L189.40,105.05 L189.80,105.32 L190.20,105.61 L190.60,105.84 L191.00,105.96 L191.40,105.99 L191.80,106.00 L192.20,105.99 L192.60,105.96 L193.00,105.83 L193.40,105.53 L193.80,105.07 L194.20,104.56 L194.60,104.16 L195.00,103.92 L195.40,103.82 L195.80,103.80 L196.20,103.80 L196.60,103.82 L197.00,103.91 L197.40,104.09 L197.80,104.21 L198.20,104.03 L198.60,103.60 L199.00,103.21 L199.40,103.02 L199.80,102.99 L200.20,102.99 L200.60,103.00 L201.00,103.11 L201.40,103.32 L201.80,103.48 L202.20,103.36 L202.60,103.00 L203.00,102.68 L203.40,102.53 L203.80,102.50 L204.20,102.50 L204.60,102.53 L205.00,102.69 L205.40,103.06 L205.80,103.62 L206.20,104.09 L206.60,104.20 L207.00,104.08 L207.40,104.00 L207.80,103.99 L208.20,104.00 L208.60,104.06 L209.00,104.36 L209.40,104.94 L209.80,105.57 L210.20,105.91 L210.60,105.99 L211.00,106.00 L211.40,106.00 L211.80,106.00 L212.20,106.00 L212.60,106.00 L213.00,106.00 L213.40,106.00 L213.80,106.00 L214.20,106.00 L214.60,106.00 L215.00,106.00 L215.40,106.00 L215.80,105.96 L216.20,105.82 L216.60,105.46 L217.00,104.89 L217.40,104.28 L217.80,103.82 L218.20,103.58 L218.60,103.50 L219.00,103.46 L219.40,103.33 L219.80,103.06 L220.20,102.72 L220.60,102.48 L221.00,102.50 L221.40,102.68 L221.80,102.87 L222.20,102.97 L222.60,103.00 L223.00,103.01 L223.40,103.11 L223.80,103.38 L224.20,103.88 L224.60,104.55 L225.00,105.22 L225.40,105.68 L225.80,105.81 L226.20,104.87 L226.60,101.66 L227.00,97.53 L227.40,95.15 L227.80,94.61 L228.20,94.61 L228.60,95.15 L229.00,97.53 L229.40,101.66 L229.80,104.89 L230.20,105.90 L230.60,106.00 L231.00,106.00 L231.40,106.00 L231.80,106.00 L232.20,105.99 L232.60,105.92 L233.00,105.69 L233.40,105.14 L233.80,104.31 L234.20,103.39 L234.60,102.65 L235.00,102.21 L235.40,102.04 L235.80,102.00 L236.20,101.99 L236.60,101.94 L237.00,101.82 L237.40,101.58 L237.80,101.27 L238.20,101.04 L238.60,100.95 L239.00,100.95 L239.40,100.97 L239.80,100.99 L240.20,100.99 L240.60,100.95 L241.00,100.87 L241.40,100.74 L241.80,100.61 L242.20,100.61 L242.60,100.74 L243.00,100.87 L243.40,100.95 L243.80,100.99 L244.20,101.00 L244.60,101.05 L245.00,101.26 L245.40,101.72 L245.80,101.95 L246.20,100.77 L246.60,98.21 L247.00,96.01 L247.40,95.09 L247.80,94.99 L248.20,95.03 L248.60,95.60 L249.00,97.64 L249.40,101.13 L249.80,104.29 L250.20,105.71 L250.60,105.98 L251.00,106.00 L251.40,106.00 L251.80,106.00 L252.20,106.00 L252.60,106.00 L253.00,106.00 L253.40,106.00 L253.80,106.00 L254.20,106.00 L254.60,106.00 L255.00,106.00 L255.40,106.00 L255.80,106.00 L256.20,106.00 L256.60,106.00 L257.00,106.00 L257.40,106.00 L257.80,106.00 L258.20,106.00 L258.60,106.00 L259.00,106.00 L259.40,106.00 L259.80,106.00 L260.20,106.00 L260.60,106.00 L261.00,106.00 L261.40,106.00 L261.80,106.00 L262.20,106.00 L262.60,106.00 L263.00,106.00 L263.40,106.00 L263.80,106.00 L264.20,106.00 L264.60,106.00 L265.00,106.00 L265.00,106.00Z" fill="#1c1070"/>
<line x1="90.50" y1="121.70" x2="265.60" y2="121.70" stroke="#3d3d7a" stroke-width="1" />
<path d="M91.00,121.80 L91.00,121.80 L91.40,121.80 L91.80,121.80 L92.20,121.80 L92.60,121.80 L93.00,121.80 L93.40,121.80 L93.80,121.80 L94.20,121.80 L94.60,121.80 L95.00,121.80 L95.40,121.80 L95.80,121.80 L96.20,121.80 L96.60,121.80 L97.00,121.80 L97.40,121.80 L97.80,121.80 L98.20,121.80 L98.60,121.80 L99.00,121.80 L99.40,121.80 L99.80,121.80 L100.20,121.80 L100.60,121.80 L101.00,121.80 L101.40,121.80 L101.80,121.80 L102.20,121.80 L102.60,121.80 L103.00,121.80 L103.40,121.80 L103.80,121.80 L104.20,121.80 L104.60,121.80 L105.00,121.80 L105.40,121.80 L105.80,121.80 L106.20,121.80 L106.60,121.80 L107.00,121.80 L107.40,121.80 L107.80,121.80 L108.20,121.80 L108.60,121.80 L109.00,121.80 L109.40,121.80 L109.80,121.80 L110.20,121.80 L110.60,121.80 L111.00,121.80 L111.40,121.80 L111.80,121.80 L112.20,121.80 L112.60,121.80 L113.00,121.80 L113.40,121.80 L113.80,121.80 L114.20,121.80 L114.60,121.80 L115.00,121.80 L115.40,121.80 L115.80,121.80 L116.20,121.80 L116.60,121.80 L117.00,121.80 L117.40,121.80 L117.80,121.80 L118.20,121.80 L118.60,121.80 L119.00,121.80 L119.40,121.80 L119.80,121.80 L120.20,121.80 L120.60,121.80 L121.00,121.80 L121.40,121.80 L121.80,121.80 L122.20,121.80 L122.60,121.80 L123.00,121.78 L123.40,121.67 L123.80,121.46 L124.20,121.28 L124.60,121.21 L125.00,121.20 L125.40,121.21 L125.80,121.25 L126.20,121.24 L126.60,120.71 L127.00,119.19 L127.40,117.09 L127.80,115.32 L128.20,114.34 L128.60,114.03 L129.00,114.00 L129.40,114.03 L129.80,114.33 L130.20,115.16 L130.60,116.16 L131.00,116.56 L131.40,116.28 L131.80,115.91 L132.20,115.79 L132.60,115.80 L133.00,115.90 L133.40,116.56 L133.80,118.14 L134.20,120.10 L134.60,121.37 L135.00,121.75 L135.40,121.80 L135.80,121.71 L136.20,120.82 L136.60,117.99 L137.00,114.37 L137.40,112.29 L137.80,111.81 L138.20,111.81 L138.60,112.29 L139.00,114.37 L139.40,117.99 L139.80,120.82 L140.20,121.71 L140.60,121.80 L141.00,121.80 L141.40,121.80 L141.80,121.80 L142.20,121.80 L142.60,121.80 L143.00,121.78 L143.40,121.69 L143.80,121.52 L144.20,121.36 L144.60,121.31 L145.00,121.30 L145.40,121.31 L145.80,121.36 L146.20,121.52 L146.60,121.69 L147.00,121.78 L147.40,121.80 L147.80,121.80 L148.20,121.80 L148.60,121.80 L149.00,121.80 L149.40,121.80 L149.80,121.80 L150.20,121.80 L150.60,121.80 L151.00,121.80 L151.40,121.80 L151.80,121.80 L152.20,121.80 L152.60,121.80 L153.00,121.80 L153.40,121.80 L153.80,121.80 L154.20,121.80 L154.60,121.80 L155.00,121.80 L155.40,121.80 L155.80,121.80 L156.20,121.80 L156.60,121.80 L157.00,121.80 L157.40,121.80 L157.80,121.75 L158.20,121.54 L158.60,121.17 L159.00,120.81 L159.40,120.64 L159.80,120.60 L160.20,120.60 L160.60,120.64 L161.00,120.81 L161.40,121.17 L161.80,121.54 L162.20,121.75 L162.60,121.77 L163.00,121.63 L163.40,121.22 L163.80,120.70 L164.20,120.34 L164.60,120.21 L165.00,120.20 L165.40,120.21 L165.80,120.34 L166.20,120.70 L166.60,121.22 L167.00,121.63 L167.40,121.78 L167.80,121.80 L168.20,121.80 L168.60,121.80 L169.00,121.80 L169.40,121.80 L169.80,121.80 L170.20,121.80 L170.60,121.80 L171.00,121.80 L171.40,121.80 L171.80,121.80 L172.20,121.80 L172.60,121.80 L173.00,121.80 L173.40,121.80 L173.80,121.80 L174.20,121.80 L174.60,121.80 L175.00,121.80 L175.40,121.80 L175.80,121.80 L176.20,121.80 L176.60,121.80 L177.00,121.80 L177.40,121.80 L177.80,121.80 L178.20,121.80 L178.60,121.80 L179.00,121.80 L179.40,121.80 L179.80,121.80 L180.20,121.80 L180.60,121.80 L181.00,121.80 L181.40,121.80 L181.80,121.80 L182.20,121.80 L182.60,121.80 L183.00,121.80 L183.40,121.80 L183.80,121.80 L184.20,121.80 L184.60,121.80 L185.00,121.80 L185.40,121.80 L185.80,121.80 L186.20,121.80 L186.60,121.80 L187.00,121.77 L187.40,121.70 L187.80,121.54 L188.20,121.34 L188.60,121.17 L189.00,121.06 L189.40,121.01 L189.80,121.00 L190.20,121.00 L190.60,121.01 L191.00,121.06 L191.40,121.16 L191.80,121.33 L192.20,121.47 L192.60,121.48 L193.00,121.33 L193.40,121.11 L193.80,120.93 L194.20,120.83 L194.60,120.80 L195.00,120.80 L195.40,120.80 L195.80,120.83 L196.20,120.93 L196.60,121.11 L197.00,121.32 L197.40,121.46 L197.80,121.41 L198.20,121.22 L198.60,121.01 L199.00,120.87 L199.40,120.81 L199.80,120.80 L200.20,120.80 L200.60,120.81 L201.00,120.87 L201.40,121.01 L201.80,121.23 L202.20,121.48 L202.60,121.65 L203.00,121.64 L203.40,121.36 L203.80,120.97 L204.20,120.70 L204.60,120.61 L205.00,120.60 L205.40,120.61 L205.80,120.70 L206.20,120.97 L206.60,121.37 L207.00,121.67 L207.40,121.78 L207.80,121.80 L208.20,121.80 L208.60,121.80 L209.00,121.80 L209.40,121.80 L209.80,121.80 L210.20,121.80 L210.60,121.80 L211.00,121.80 L211.40,121.80 L211.80,121.80 L212.20,121.80 L212.60,121.80 L213.00,121.80 L213.40,121.80 L213.80,121.80 L214.20,121.80 L214.60,121.80 L215.00,121.80 L215.40,121.80 L215.80,121.80 L216.20,121.80 L216.60,121.80 L217.00,121.80 L217.40,121.80 L217.80,121.80 L218.20,121.80 L218.60,121.80 L219.00,121.80 L219.40,121.80 L219.80,121.80 L220.20,121.80 L220.60,121.80 L221.00,121.80 L221.40,121.80 L221.80,121.80 L222.20,121.80 L222.60,121.80 L223.00,121.80 L223.40,121.80 L223.80,121.80 L224.20,121.80 L224.60,121.80 L225.00,121.80 L225.40,121.80 L225.80,121.80 L226.20,121.80 L226.60,121.80 L227.00,121.80 L227.40,121.80 L227.80,121.80 L228.20,121.80 L228.60,121.80 L229.00,121.80 L229.40,121.80 L229.80,121.80 L230.20,121.80 L230.60,121.80 L231.00,121.80 L231.40,121.80 L231.80,121.80 L232.20,121.80 L232.60,121.80 L233.00,121.80 L233.40,121.80 L233.80,121.80 L234.20,121.80 L234.60,121.80 L235.00,121.80 L235.40,121.80 L235.80,121.80 L236.20,121.80 L236.60,121.80 L237.00,121.80 L237.40,121.80 L237.80,121.80 L238.20,121.80 L238.60,121.80 L239.00,121.80 L239.40,121.80 L239.80,121.80 L240.20,121.80 L240.60,121.80 L241.00,121.80 L241.40,121.80 L241.80,121.80 L242.20,121.80 L242.60,121.80 L243.00,121.80 L243.40,121.80 L243.80,121.80 L244.20,121.80 L244.60,121.80 L245.00,121.80 L245.40,121.80 L245.80,121.80 L246.20,121.80 L246.60,121.80 L247.00,121.80 L247.40,121.80 L247.80,121.80 L248.20,121.80 L248.60,121.80 L249.00,121.80 L249.40,121.80 L249.80,121.80 L250.20,121.80 L250.60,121.80 L251.00,121.80 L251.40,121.80 L251.80,121.80 L252.20,121.80 L252.60,121.80 L253.00,121.80 L253.40,121.80 L253.80,121.80 L254.20,121.80 L254.60,121.80 L255.00,121.80 L255.40,121.80 L255.80,121.80 L256.20,121.80 L256.60,121.80 L257.00,121.80 L257.40,121.80 L257.80,121.80 L258.20,121.80 L258.60,121.80 L259.00,121.80 L259.40,121.80 L259.80,121.80 L260.20,121.80 L260.60,121.80 L261.00,121.80 L261.40,121.80 L261.80,121.80 L262.20,121.80 L262.60,121.80 L263.00,121.80 L263.40,121.80 L263.80,121.80 L264.20,121.80 L264.60,121.80 L265.00,121.80 L265.00,121.80Z" fill="#1c1070"/>
<text x="95.50" y="39.50" font-size="8.5" fill="#b5403c" text-anchor="start" font-weight="normal" >EV</text>
<text x="95.50" y="55.20" font-size="8.5" fill="#b5403c" text-anchor="start" font-weight="normal" >OE</text>
<text x="95.50" y="70.80" font-size="8.5" fill="#b5403c" text-anchor="start" font-weight="normal" >Y2A</text>
<text x="95.50" y="87.20" font-size="8.5" fill="#4a5794" text-anchor="start" font-weight="normal" >EV</text>
<text x="95.50" y="102.60" font-size="8.5" fill="#4a5794" text-anchor="start" font-weight="normal" >OE</text>
<text x="95.50" y="118.20" font-size="8.5" fill="#4a5794" text-anchor="start" font-weight="normal" >Y2A</text>
<rect x="81.3" y="29" width="1.4" height="45" fill="#c06a6a"/>
<rect x="81.3" y="76.5" width="1.4" height="44.5" fill="#5a6aa4"/>
<text x="0.00" y="0.00" font-size="8" fill="#b5403c" text-anchor="middle" font-weight="normal" transform="translate(77,51.5) rotate(-90)">Total RNAPII</text>
<text x="0.00" y="0.00" font-size="8" fill="#4a5794" text-anchor="middle" font-weight="normal" transform="translate(77,98.5) rotate(-90)">Ser5 RNAPII</text>
<line x1="131.70" y1="131.70" x2="137.90" y2="131.70" stroke="#2a2270" stroke-width="0.6" />
<path d="M133.30,129.20 a1.6,2.5 0 0 0 0,5z" fill="#2a2270"/>
<rect x="135.30" y="129.20" width="2.60" height="5.00" fill="#2a2270" stroke="none" stroke-width="1" />
<line x1="160.60" y1="131.70" x2="167.60" y2="131.70" stroke="#2a2270" stroke-width="0.6" />
<path d="M162.20,129.20 a1.6,2.5 0 0 0 0,5z" fill="#2a2270"/>
<rect x="165.00" y="129.20" width="2.60" height="5.00" fill="#2a2270" stroke="none" stroke-width="1" />
<line x1="221.00" y1="131.70" x2="227.70" y2="131.70" stroke="#2a2270" stroke-width="0.6" />
<path d="M222.60,129.20 a1.6,2.5 0 0 0 0,5z" fill="#2a2270"/>
<rect x="225.10" y="129.20" width="2.60" height="5.00" fill="#2a2270" stroke="none" stroke-width="1" />
<line x1="240.80" y1="131.70" x2="247.90" y2="131.70" stroke="#2a2270" stroke-width="0.6" />
<path d="M242.40,129.20 a1.6,2.5 0 0 0 0,5z" fill="#2a2270"/>
<rect x="245.30" y="129.20" width="2.60" height="5.00" fill="#2a2270" stroke="none" stroke-width="1" />
<path d="M197,131.6 l1.6,-1.4 v2.8z M201.6,131.6 l-1.6,-1.4 v2.8z" fill="#2a2270"/>
<rect x="208.00" y="130.30" width="3.20" height="2.60" fill="#2a2270" stroke="none" stroke-width="1" />
<text x="134.50" y="142.90" font-size="6.4" fill="#333" text-anchor="middle" font-weight="normal" >HBB</text>
<text x="164.40" y="142.90" font-size="6.4" fill="#333" text-anchor="middle" font-weight="normal" >HBD</text>
<text x="199.80" y="142.90" font-size="6.4" fill="#333" text-anchor="middle" font-weight="normal" >HBBP1</text>
<text x="225.20" y="142.90" font-size="6.4" fill="#333" text-anchor="middle" font-weight="normal" >HBG1</text>
<text x="244.00" y="142.90" font-size="6.4" fill="#333" text-anchor="middle" font-weight="normal" >HBG2</text>
<text x="349.50" y="20.30" font-size="11.5" fill="#111" text-anchor="start" font-weight="bold" >H</text>
<text x="429.60" y="18.20" font-size="9.2" fill="#222" text-anchor="middle" font-weight="normal"  textLength="30.4" lengthAdjust="spacingAndGlyphs">HEXIM1</text>
<text x="390.90" y="28.40" font-size="9.2" fill="#222" text-anchor="middle" font-weight="normal"  textLength="10.0" lengthAdjust="spacingAndGlyphs">EV</text>
<text x="429.40" y="28.40" font-size="9.2" fill="#222" text-anchor="middle" font-weight="normal"  textLength="11.0" lengthAdjust="spacingAndGlyphs">OE</text>
<text x="469.30" y="28.40" font-size="9.2" fill="#222" text-anchor="middle" font-weight="normal"  textLength="26.4" lengthAdjust="spacingAndGlyphs">Y2AOE</text>
<rect x="372.50" y="32.40" width="35.10" height="34.00" fill="#fff" stroke="#1a1a1a" stroke-width="1" />
<line x1="369.50" y1="39.20" x2="372.50" y2="39.20" stroke="#222" stroke-width="0.8" />
<line x1="369.50" y1="48.30" x2="372.50" y2="48.30" stroke="#222" stroke-width="0.8" />
<line x1="369.50" y1="57.40" x2="372.50" y2="57.40" stroke="#222" stroke-width="0.8" />
<line x1="372.50" y1="66.40" x2="372.50" y2="68.80" stroke="#222" stroke-width="0.8" />
<line x1="390.05" y1="66.40" x2="390.05" y2="68.80" stroke="#222" stroke-width="0.8" />
<line x1="407.60" y1="66.40" x2="407.60" y2="68.80" stroke="#222" stroke-width="0.8" />
<polyline points="373.00,64.40 373.50,64.40 374.00,64.40 374.50,64.40 375.00,64.40 375.50,64.40 376.00,64.40 376.50,64.40 377.00,64.40 377.50,64.40 378.00,64.40 378.50,64.40 379.00,64.40 379.50,64.40 380.00,64.40 380.50,64.40 381.00,64.40 381.50,64.39 382.00,64.39 382.50,64.38 383.00,64.37 383.50,64.36 384.00,64.34 384.50,64.31 385.00,64.27 385.50,64.22 386.00,64.16 386.50,64.08 387.00,64.00 387.50,63.90 388.00,63.80 388.50,63.70 389.00,63.61 389.50,63.52 390.00,63.46 390.50,63.42 391.00,63.40 391.50,63.41 392.00,63.45 392.50,63.51 393.00,63.59 393.50,63.68 394.00,63.78 394.50,63.88 395.00,63.98 395.50,64.07 396.00,64.14 396.50,64.21 397.00,64.26 397.50,64.30 398.00,64.33 398.50,64.35 399.00,64.37 399.50,64.38 400.00,64.39 400.50,64.39 401.00,64.40 401.50,64.40 402.00,64.40 402.50,64.40 403.00,64.40 403.50,64.40 404.00,64.40 404.50,64.40 405.00,64.40 405.50,64.40 406.00,64.40 406.50,64.40 407.00,64.40" fill="none" stroke="#dedcaa" stroke-width="0.8"/>
<polyline points="373.00,64.00 373.50,64.00 374.00,64.00 374.50,64.00 375.00,64.00 375.50,64.00 376.00,64.00 376.50,64.00 377.00,64.00 377.50,64.00 378.00,64.00 378.50,64.00 379.00,64.00 379.50,64.00 380.00,64.00 380.50,64.00 381.00,64.00 381.50,64.00 382.00,64.00 382.50,64.00 383.00,63.99 383.50,63.98 384.00,63.97 384.50,63.94 385.00,63.89 385.50,63.80 386.00,63.65 386.50,63.43 387.00,63.09 387.50,62.61 388.00,61.95 388.50,61.09 389.00,60.02 389.50,58.75 390.00,57.32 390.50,55.81 391.00,54.33 391.50,52.99 392.00,51.93 392.50,51.24 393.00,51.00 393.50,51.62 394.00,52.54 394.50,53.69 395.00,54.97 395.50,56.27 396.00,57.49 396.50,58.57 397.00,59.47 397.50,60.19 398.00,60.75 398.50,61.18 399.00,61.50 399.50,61.76 400.00,61.96 400.50,62.13 401.00,62.28 401.50,62.41 402.00,62.53 402.50,62.64 403.00,62.74 403.50,62.84 404.00,62.92 404.50,63.00 405.00,63.08 405.50,63.14 406.00,63.21 406.50,63.27 407.00,63.32" fill="none" stroke="#5a5fae" stroke-width="0.9"/>
<rect x="412.20" y="32.40" width="35.40" height="34.00" fill="#fff" stroke="#1a1a1a" stroke-width="1" />
<line x1="409.20" y1="39.20" x2="412.20" y2="39.20" stroke="#222" stroke-width="0.8" />
<line x1="409.20" y1="48.30" x2="412.20" y2="48.30" stroke="#222" stroke-width="0.8" />
<line x1="409.20" y1="57.40" x2="412.20" y2="57.40" stroke="#222" stroke-width="0.8" />
<line x1="412.20" y1="66.40" x2="412.20" y2="68.80" stroke="#222" stroke-width="0.8" />
<line x1="429.90" y1="66.40" x2="429.90" y2="68.80" stroke="#222" stroke-width="0.8" />
<line x1="447.60" y1="66.40" x2="447.60" y2="68.80" stroke="#222" stroke-width="0.8" />
<polyline points="412.70,64.40 413.20,64.40 413.70,64.40 414.20,64.40 414.70,64.40 415.20,64.40 415.70,64.40 416.20,64.40 416.70,64.40 417.20,64.40 417.70,64.40 418.20,64.40 418.70,64.40 419.20,64.40 419.70,64.40 420.20,64.40 420.70,64.40 421.20,64.39 421.70,64.39 422.20,64.39 422.70,64.38 423.20,64.36 423.70,64.34 424.20,64.32 424.70,64.28 425.20,64.24 425.70,64.18 426.20,64.11 426.70,64.02 427.20,63.93 427.70,63.83 428.20,63.73 428.70,63.64 429.20,63.55 429.70,63.48 430.20,63.43 430.70,63.40 431.20,63.40 431.70,63.43 432.20,63.49 432.70,63.56 433.20,63.65 433.70,63.75 434.20,63.85 434.70,63.95 435.20,64.04 435.70,64.12 436.20,64.19 436.70,64.25 437.20,64.29 437.70,64.32 438.20,64.35 438.70,64.37 439.20,64.38 439.70,64.39 440.20,64.39 440.70,64.40 441.20,64.40 441.70,64.40 442.20,64.40 442.70,64.40 443.20,64.40 443.70,64.40 444.20,64.40 444.70,64.40 445.20,64.40 445.70,64.40 446.20,64.40 446.70,64.40" fill="none" stroke="#dedcaa" stroke-width="0.8"/>
<polyline points="412.70,64.00 413.20,64.00 413.70,64.00 414.20,64.00 414.70,64.00 415.20,64.00 415.70,64.00 416.20,64.00 416.70,64.00 417.20,64.00 417.70,64.00 418.20,64.00 418.70,64.00 419.20,64.00 419.70,64.00 420.20,64.00 420.70,64.00 421.20,64.00 421.70,64.00 422.20,63.99 422.70,63.99 423.20,63.97 423.70,63.95 424.20,63.90 424.70,63.81 425.20,63.66 425.70,63.40 426.20,62.99 426.70,62.36 427.20,61.44 427.70,60.14 428.20,58.40 428.70,56.15 429.20,53.41 429.70,50.24 430.20,46.75 430.70,43.17 431.20,39.76 431.70,36.82 432.20,34.62 432.70,33.40 433.20,33.69 433.70,35.45 434.20,37.88 434.70,40.76 435.20,43.85 435.70,46.87 436.20,49.65 436.70,52.04 437.20,54.00 437.70,55.55 438.20,56.74 438.70,57.64 439.20,58.34 439.70,58.89 440.20,59.34 440.70,59.72 441.20,60.06 441.70,60.36 442.20,60.63 442.70,60.88 443.20,61.11 443.70,61.33 444.20,61.53 444.70,61.71 445.20,61.88 445.70,62.04 446.20,62.18 446.70,62.32" fill="none" stroke="#5a5fae" stroke-width="0.9"/>
<rect x="451.60" y="32.40" width="35.40" height="34.00" fill="#fff" stroke="#1a1a1a" stroke-width="1" />
<line x1="448.60" y1="39.20" x2="451.60" y2="39.20" stroke="#222" stroke-width="0.8" />
<line x1="448.60" y1="48.30" x2="451.60" y2="48.30" stroke="#222" stroke-width="0.8" />
<line x1="448.60" y1="57.40" x2="451.60" y2="57.40" stroke="#222" stroke-width="0.8" />
<line x1="451.60" y1="66.40" x2="451.60" y2="68.80" stroke="#222" stroke-width="0.8" />
<line x1="469.30" y1="66.40" x2="469.30" y2="68.80" stroke="#222" stroke-width="0.8" />
<line x1="487.00" y1="66.40" x2="487.00" y2="68.80" stroke="#222" stroke-width="0.8" />
<polyline points="452.10,64.40 452.60,64.40 453.10,64.40 453.60,64.40 454.10,64.40 454.60,64.40 455.10,64.40 455.60,64.40 456.10,64.40 456.60,64.40 457.10,64.40 457.60,64.40 458.10,64.40 458.60,64.40 459.10,64.40 459.60,64.40 460.10,64.40 460.60,64.39 461.10,64.39 461.60,64.39 462.10,64.38 462.60,64.36 463.10,64.34 463.60,64.32 464.10,64.28 464.60,64.24 465.10,64.18 465.60,64.11 466.10,64.02 466.60,63.93 467.10,63.83 467.60,63.73 468.10,63.64 468.60,63.55 469.10,63.48 469.60,63.43 470.10,63.40 470.60,63.40 471.10,63.43 471.60,63.49 472.10,63.56 472.60,63.65 473.10,63.75 473.60,63.85 474.10,63.95 474.60,64.04 475.10,64.12 475.60,64.19 476.10,64.25 476.60,64.29 477.10,64.32 477.60,64.35 478.10,64.37 478.60,64.38 479.10,64.39 479.60,64.39 480.10,64.40 480.60,64.40 481.10,64.40 481.60,64.40 482.10,64.40 482.60,64.40 483.10,64.40 483.60,64.40 484.10,64.40 484.60,64.40 485.10,64.40 485.60,64.40 486.10,64.40" fill="none" stroke="#dedcaa" stroke-width="0.8"/>
<polyline points="452.10,64.00 452.60,64.00 453.10,64.00 453.60,64.00 454.10,64.00 454.60,64.00 455.10,64.00 455.60,64.00 456.10,64.00 456.60,64.00 457.10,64.00 457.60,64.00 458.10,64.00 458.60,64.00 459.10,64.00 459.60,64.00 460.10,64.00 460.60,64.00 461.10,64.00 461.60,64.00 462.10,64.00 462.60,64.00 463.10,63.99 463.60,63.98 464.10,63.97 464.60,63.93 465.10,63.87 465.60,63.77 466.10,63.60 466.60,63.33 467.10,62.91 467.60,62.29 468.10,61.42 468.60,60.25 469.10,58.75 469.60,56.92 470.10,54.79 470.60,52.46 471.10,50.07 471.60,47.79 472.10,45.82 472.60,44.35 473.10,43.54 473.60,43.73 474.10,44.91 474.60,46.53 475.10,48.46 475.60,50.52 476.10,52.55 476.60,54.40 477.10,56.00 477.60,57.31 478.10,58.35 478.60,59.14 479.10,59.75 479.60,60.22 480.10,60.58 480.60,60.88 481.10,61.14 481.60,61.36 482.10,61.56 482.60,61.75 483.10,61.91 483.60,62.07 484.10,62.21 484.60,62.35 485.10,62.47 485.60,62.58 486.10,62.69" fill="none" stroke="#5a5fae" stroke-width="0.9"/>
<text x="0.00" y="0.00" font-size="6.6" fill="#222" text-anchor="end" font-weight="normal" transform="translate(374.50,75.10) rotate(-45)">-2.0</text>
<text x="0.00" y="0.00" font-size="6.6" fill="#222" text-anchor="end" font-weight="normal" transform="translate(391.70,75.10) rotate(-45)">center</text>
<text x="0.00" y="0.00" font-size="6.6" fill="#222" text-anchor="end" font-weight="normal" transform="translate(409.50,75.10) rotate(-45)">2.0Kb</text>
<line x1="424.40" y1="75.40" x2="429.40" y2="75.40" stroke="#1e2a6a" stroke-width="1.1" />
<text x="433.00" y="77.80" font-size="6.3" fill="#222" text-anchor="start" font-weight="normal" >ATAC_Increased</text>
<line x1="424.40" y1="85.60" x2="429.40" y2="85.60" stroke="#c8cc88" stroke-width="1.1" />
<text x="433.00" y="88.00" font-size="6.3" fill="#222" text-anchor="start" font-weight="normal" >ATAC_Decreased</text>
<defs><filter id="hblur" x="-50%" y="-5%" width="200%" height="110%"><feGaussianBlur stdDeviation="0.9 0.6"/></filter><filter id="hblur2" x="-50%" y="-5%" width="200%" height="110%"><feGaussianBlur stdDeviation="2.2 1"/></filter><linearGradient id="gEV" x1="0" y1="92" x2="0" y2="293" gradientUnits="userSpaceOnUse"><stop offset="0" stop-color="#183c88"/><stop offset="0.025" stop-color="#2060b0"/><stop offset="0.09" stop-color="#2a6fb8"/><stop offset="0.14" stop-color="#3a88ac"/><stop offset="0.19" stop-color="#5ea69e"/><stop offset="0.28" stop-color="#92c6a8"/><stop offset="0.45" stop-color="#bcdcbc"/><stop offset="0.7" stop-color="#d6e9d0"/><stop offset="1" stop-color="#e0edda"/></linearGradient><linearGradient id="gOE" x1="0" y1="92" x2="0" y2="293" gradientUnits="userSpaceOnUse"><stop offset="0" stop-color="#0d296c"/><stop offset="0.05" stop-color="#143a84"/><stop offset="0.11" stop-color="#1b52a4"/><stop offset="0.3" stop-color="#2366b4"/><stop offset="0.43" stop-color="#3384b2"/><stop offset="0.53" stop-color="#5aa4aa"/><stop offset="0.66" stop-color="#98cab2"/><stop offset="0.8" stop-color="#c4dfc2"/><stop offset="1" stop-color="#d8e9d3"/></linearGradient><linearGradient id="gY2" x1="0" y1="92" x2="0" y2="293" gradientUnits="userSpaceOnUse"><stop offset="0" stop-color="#143884"/><stop offset="0.04" stop-color="#1c54a8"/><stop offset="0.15" stop-color="#2468b4"/><stop offset="0.25" stop-color="#3a8ab0"/><stop offset="0.33" stop-color="#5aa6a6"/><stop offset="0.45" stop-color="#92c8b0"/><stop offset="0.62" stop-color="#c2dfc2"/><stop offset="1" stop-color="#dbeAd5"/></linearGradient><linearGradient id="gCB" x1="0" y1="92.4" x2="0" y2="331.8" gradientUnits="userSpaceOnUse"><stop offset="0" stop-color="#0c2a6a"/><stop offset="0.17" stop-color="#1d5aa6"/><stop offset="0.33" stop-color="#4a8fc2"/><stop offset="0.5" stop-color="#8db2b4"/><stop offset="0.67" stop-color="#bccbaa"/><stop offset="0.83" stop-color="#dfe7cf"/><stop offset="1" stop-color="#f6f8ee"/></linearGradient></defs>
<svg x="372.5" y="92.4" width="35.10000000000002" height="200.6" viewBox="372.5 92.4 35.10000000000002 200.6" overflow="hidden">
<rect x="372.50" y="92.40" width="35.10" height="200.60" fill="#edf3e5" stroke="none" stroke-width="1" />
<polygon points="398.00,92.40 404.50,92.40 402.00,120.00 398.50,160.00 396.00,220.00 394.50,293.00 393.00,293.00" fill="#c7e2c2" filter="url(#hblur2)"/>
<polygon points="391.60,92.40 400.80,92.40 399.50,100.00 397.50,112.00 396.00,125.00 395.00,145.00 394.20,180.00 393.60,230.00 393.20,293.00 392.00,293.00 391.80,200.00 391.60,140.00 391.40,100.00" fill="url(#gEV)" filter="url(#hblur)"/>
</svg>
<rect x="372.50" y="92.40" width="35.10" height="200.60" fill="none" stroke="#1a1a1a" stroke-width="1" />
<rect x="372.50" y="294.60" width="35.10" height="37.20" fill="#edf3e5" stroke="#1a1a1a" stroke-width="1" />
<rect x="390.25" y="295.10" width="2.20" height="36.20" fill="#e0ebd9" stroke="none" stroke-width="1" filter="url(#hblur)"/>
<line x1="372.50" y1="331.80" x2="372.50" y2="334.20" stroke="#222" stroke-width="0.8" />
<line x1="390.05" y1="331.80" x2="390.05" y2="334.20" stroke="#222" stroke-width="0.8" />
<line x1="407.60" y1="331.80" x2="407.60" y2="334.20" stroke="#222" stroke-width="0.8" />
<svg x="412.2" y="92.4" width="35.400000000000034" height="200.6" viewBox="412.2 92.4 35.400000000000034 200.6" overflow="hidden">
<rect x="412.20" y="92.40" width="35.40" height="200.60" fill="#edf3e5" stroke="none" stroke-width="1" />
<polygon points="438.00,92.40 445.50,92.40 443.50,130.00 439.50,180.00 436.50,230.00 434.50,293.00 432.00,293.00" fill="#c7e2c2" filter="url(#hblur2)"/>
<polygon points="430.00,92.40 443.00,92.40 441.50,105.00 439.50,120.00 437.50,140.00 436.00,160.00 434.80,190.00 433.80,230.00 433.20,293.00 431.60,293.00 431.60,200.00 431.20,140.00 430.60,110.00" fill="url(#gOE)" filter="url(#hblur)"/>
</svg>
<rect x="412.20" y="92.40" width="35.40" height="200.60" fill="none" stroke="#1a1a1a" stroke-width="1" />
<rect x="412.20" y="294.60" width="35.40" height="37.20" fill="#edf3e5" stroke="#1a1a1a" stroke-width="1" />
<rect x="430.10" y="295.10" width="2.20" height="36.20" fill="#e0ebd9" stroke="none" stroke-width="1" filter="url(#hblur)"/>
<line x1="412.20" y1="331.80" x2="412.20" y2="334.20" stroke="#222" stroke-width="0.8" />
<line x1="429.90" y1="331.80" x2="429.90" y2="334.20" stroke="#222" stroke-width="0.8" />
<line x1="447.60" y1="331.80" x2="447.60" y2="334.20" stroke="#222" stroke-width="0.8" />
<svg x="451.6" y="92.4" width="35.39999999999998" height="200.6" viewBox="451.6 92.4 35.39999999999998 200.6" overflow="hidden">
<rect x="451.60" y="92.40" width="35.40" height="200.60" fill="#edf3e5" stroke="none" stroke-width="1" />
<polygon points="476.00,92.40 483.50,92.40 481.00,125.00 477.50,170.00 475.00,230.00 473.80,293.00 472.00,293.00" fill="#c7e2c2" filter="url(#hblur2)"/>
<polygon points="469.80,92.40 480.60,92.40 479.20,100.00 477.50,112.00 476.00,128.00 474.80,150.00 473.80,190.00 473.20,240.00 472.80,293.00 471.60,293.00 471.40,200.00 471.00,140.00 470.20,100.00" fill="url(#gY2)" filter="url(#hblur)"/>
</svg>
<rect x="451.60" y="92.40" width="35.40" height="200.60" fill="none" stroke="#1a1a1a" stroke-width="1" />
<rect x="451.60" y="294.60" width="35.40" height="37.20" fill="#edf3e5" stroke="#1a1a1a" stroke-width="1" />
<rect x="469.50" y="295.10" width="2.20" height="36.20" fill="#e0ebd9" stroke="none" stroke-width="1" filter="url(#hblur)"/>
<line x1="451.60" y1="331.80" x2="451.60" y2="334.20" stroke="#222" stroke-width="0.8" />
<line x1="469.30" y1="331.80" x2="469.30" y2="334.20" stroke="#222" stroke-width="0.8" />
<line x1="487.00" y1="331.80" x2="487.00" y2="334.20" stroke="#222" stroke-width="0.8" />
<rect x="489.30" y="92.40" width="4.50" height="239.40" fill="url(#gCB)" stroke="#222" stroke-width="0.8" />
<line x1="493.80" y1="331.80" x2="495.80" y2="331.80" stroke="#222" stroke-width="0.7" />
<text x="497.20" y="334.00" font-size="6.2" fill="#333" text-anchor="start" font-weight="normal" >0</text>
<line x1="493.80" y1="293.00" x2="495.80" y2="293.00" stroke="#222" stroke-width="0.7" />
<text x="497.20" y="295.20" font-size="6.2" fill="#333" text-anchor="start" font-weight="normal" >200</text>
<line x1="493.80" y1="254.20" x2="495.80" y2="254.20" stroke="#222" stroke-width="0.7" />
<text x="497.20" y="256.40" font-size="6.2" fill="#333" text-anchor="start" font-weight="normal" >400</text>
<line x1="493.80" y1="215.40" x2="495.80" y2="215.40" stroke="#222" stroke-width="0.7" />
<text x="497.20" y="217.60" font-size="6.2" fill="#333" text-anchor="start" font-weight="normal" >600</text>
<line x1="493.80" y1="176.60" x2="495.80" y2="176.60" stroke="#222" stroke-width="0.7" />
<text x="497.20" y="178.80" font-size="6.2" fill="#333" text-anchor="start" font-weight="normal" >800</text>
<line x1="493.80" y1="137.80" x2="495.80" y2="137.80" stroke="#222" stroke-width="0.7" />
<text x="497.20" y="140.00" font-size="6.2" fill="#333" text-anchor="start" font-weight="normal" >1000</text>
<line x1="493.80" y1="99.00" x2="495.80" y2="99.00" stroke="#222" stroke-width="0.7" />
<text x="497.20" y="101.20" font-size="6.2" fill="#333" text-anchor="start" font-weight="normal" >1200</text>
<text x="0.00" y="0.00" font-size="6.6" fill="#222" text-anchor="end" font-weight="normal" transform="translate(374.60,340.40) rotate(-45)">-2.0</text>
<text x="0.00" y="0.00" font-size="6.6" fill="#222" text-anchor="end" font-weight="normal" transform="translate(391.80,340.40) rotate(-45)">center</text>
<text x="0.00" y="0.00" font-size="6.6" fill="#222" text-anchor="end" font-weight="normal" transform="translate(409.60,340.40) rotate(-45)">2.0Kb</text>
<text x="387.70" y="366.60" font-size="7.8" fill="#333" text-anchor="middle" font-weight="normal"  textLength="56.2" lengthAdjust="spacingAndGlyphs">Gene distance (bp)</text>
<text x="0.00" y="0.00" font-size="6.4" fill="#333" text-anchor="middle" font-weight="normal" transform="translate(362,192.6) rotate(-90)">ATAC Increased Regions</text>
<text x="0.00" y="0.00" font-size="6.4" fill="#333" text-anchor="middle" font-weight="normal" transform="translate(354,309) rotate(-90)">ATAC</text>
<text x="0.00" y="0.00" font-size="6.4" fill="#333" text-anchor="middle" font-weight="normal" transform="translate(362,312.5) rotate(-90)">Decreased Regions</text>
<text x="6.50" y="192.20" font-size="11.5" fill="#111" text-anchor="start" font-weight="bold" >I</text>
<text x="92.40" y="192.80" font-size="9.2" fill="#222" text-anchor="middle" font-weight="normal"  textLength="89.4" lengthAdjust="spacingAndGlyphs">Chromatin Accessibility</text>
<rect x="32.50" y="197.00" width="120.50" height="146.50" fill="#e6e6e6" stroke="none" stroke-width="1" />
<line x1="43.75" y1="197.00" x2="43.75" y2="343.50" stroke="#efefef" stroke-width="0.5" />
<line x1="76.25" y1="197.00" x2="76.25" y2="343.50" stroke="#efefef" stroke-width="0.5" />
<line x1="108.75" y1="197.00" x2="108.75" y2="343.50" stroke="#efefef" stroke-width="0.5" />
<line x1="141.25" y1="197.00" x2="141.25" y2="343.50" stroke="#efefef" stroke-width="0.5" />
<line x1="32.00" y1="322.20" x2="153.00" y2="322.20" stroke="#efefef" stroke-width="0.5" />
<line x1="32.00" y1="291.60" x2="153.00" y2="291.60" stroke="#efefef" stroke-width="0.5" />
<line x1="32.00" y1="261.00" x2="153.00" y2="261.00" stroke="#efefef" stroke-width="0.5" />
<line x1="32.00" y1="230.40" x2="153.00" y2="230.40" stroke="#efefef" stroke-width="0.5" />
<line x1="32.00" y1="199.80" x2="153.00" y2="199.80" stroke="#efefef" stroke-width="0.5" />
<line x1="60.00" y1="197.00" x2="60.00" y2="343.50" stroke="#f6f6f6" stroke-width="0.8" />
<line x1="92.50" y1="197.00" x2="92.50" y2="343.50" stroke="#f6f6f6" stroke-width="0.8" />
<line x1="125.00" y1="197.00" x2="125.00" y2="343.50" stroke="#f6f6f6" stroke-width="0.8" />
<line x1="32.00" y1="337.50" x2="153.00" y2="337.50" stroke="#f6f6f6" stroke-width="0.8" />
<line x1="32.00" y1="306.90" x2="153.00" y2="306.90" stroke="#f6f6f6" stroke-width="0.8" />
<line x1="32.00" y1="276.30" x2="153.00" y2="276.30" stroke="#f6f6f6" stroke-width="0.8" />
<line x1="32.00" y1="245.70" x2="153.00" y2="245.70" stroke="#f6f6f6" stroke-width="0.8" />
<line x1="32.00" y1="215.10" x2="153.00" y2="215.10" stroke="#f6f6f6" stroke-width="0.8" />
<rect x="94.40" y="199.80" width="57.30" height="128.20" fill="#d9c8b4" stroke="#8a8a8a" stroke-width="0.9" />
<polygon points="37.0,326.0 42.0,327.6 85.0,327.6 92.5,336.8 99.6,327.6 131.0,327.6 136.0,328.4 128.0,331.5 118.0,334.0 106.0,336.3 95.0,337.8 80.0,337.8 65.0,337.0 55.0,334.5 46.0,332.0 40.0,330.0 36.5,327.5" fill="#2d1580" />
<line x1="65.00" y1="337.90" x2="124.00" y2="337.90" stroke="#2d1580" stroke-width="1.2" />
<polygon points="97.4,328.0 98.0,324.0 100.2,314.0 102.5,303.0 105.5,292.0 108.8,280.0 111.3,266.5 113.2,259.0 115.0,255.0 116.6,257.0 117.2,266.0 117.4,280.0 118.6,292.0 119.8,303.0 120.8,314.0 121.6,324.0 122.2,328.0" fill="#c5246a" />
<polygon points="45.5,328.0 44.2,326.0 47.0,323.2 52.0,321.2 58.0,319.6 65.0,318.3 72.0,317.8 78.0,318.3 82.0,320.2 84.6,324.0 85.3,328.0" fill="#c5246a" />
<path d="M50.5 333.0h0M58.6 330.6h0M55.1 334.5h0M49.0 330.1h0M59.6 330.0h0M135.5 330.3h0M110.2 331.0h0M133.8 331.5h0M100.3 330.2h0M42.8 330.3h0M85.7 337.6h0M135.8 330.6h0M61.7 337.2h0M41.7 328.8h0M131.9 331.1h0M110.6 333.6h0M40.3 332.0h0M67.2 335.9h0M85.8 333.8h0M128.0 331.9h0M76.7 337.3h0M55.2 330.6h0M69.4 328.3h0M77.3 327.8h0M132.9 331.1h0M85.0 328.5h0M63.8 335.6h0M66.8 328.8h0M79.9 334.4h0M50.4 330.0h0M111.0 331.4h0M135.1 328.7h0M111.5 328.5h0M127.7 330.5h0M55.0 334.2h0M124.6 328.5h0M124.5 333.3h0M72.9 336.4h0M108.6 333.0h0M76.0 331.3h0M118.0 333.6h0M130.6 328.1h0M107.2 329.9h0M40.1 331.8h0M114.5 333.6h0M70.6 332.5h0M117.6 328.5h0M108.8 334.3h0M83.4 338.7h0M99.9 337.2h0M57.0 331.2h0M66.6 333.0h0M111.9 336.3h0M127.2 332.1h0M133.6 330.6h0M110.2 328.6h0M77.9 333.3h0M48.3 332.3h0M74.5 330.5h0M46.0 330.4h0M71.0 338.0h0M100.2 332.4h0M53.4 328.2h0M105.4 333.8h0M78.2 338.0h0M43.4 328.9h0M115.8 330.3h0M70.5 332.5h0M67.0 335.8h0M47.4 330.5h0M108.0 331.0h0M109.5 331.0h0M99.0 328.9h0M69.1 333.8h0M83.5 328.2h0M122.8 329.5h0M58.4 333.2h0M60.7 328.8h0M45.3 330.8h0M124.4 332.3h0M123.7 332.9h0M64.3 331.7h0M133.4 331.5h0M100.8 334.4h0M71.6 328.8h0M70.3 330.3h0M99.9 334.8h0M99.7 337.5h0M38.1 328.7h0M47.8 329.6h0M127.5 330.1h0M116.3 329.2h0M72.7 336.5h0M66.7 335.5h0M102.2 328.1h0M73.3 338.6h0M74.8 330.9h0M135.9 329.8h0M106.2 332.5h0M99.1 332.0h0M64.9 330.8h0M60.3 334.2h0M46.6 328.4h0M135.0 330.6h0M103.5 335.3h0M58.2 332.2h0M39.7 330.1h0M41.2 328.3h0M49.8 329.8h0M84.6 330.3h0M45.6 328.4h0M131.1 332.1h0M127.5 328.5h0M57.8 335.4h0M39.5 328.5h0M101.6 337.8h0M128.7 331.8h0M69.1 335.6h0M129.8 331.9h0M133.1 330.8h0M115.1 333.4h0M79.4 334.3h0M129.1 330.5h0M40.5 329.8h0M123.4 332.1h0M85.3 338.4h0M112.1 329.7h0M106.7 336.1h0M38.7 332.0h0M80.3 337.5h0M39.2 329.2h0M67.8 330.1h0M102.5 336.0h0M101.7 337.2h0M49.2 329.3h0M77.3 336.7h0M110.3 336.6h0M123.5 331.0h0M110.5 335.0h0M104.6 336.3h0M119.5 328.9h0M40.9 331.0h0M117.9 329.2h0M121.4 332.8h0M54.1 329.0h0M102.5 334.2h0M53.7 334.5h0M59.1 335.2h0M130.7 328.3h0M106.7 333.1h0M127.7 330.0h0M78.4 330.4h0M121.0 329.9h0M127.3 328.0h0M125.1 327.9h0M108.9 336.5h0M69.5 334.1h0M78.6 328.5h0M120.2 331.2h0M116.6 328.1h0M54.0 329.5h0M118.0 328.0h0M40.2 329.5h0M75.9 337.2h0M122.2 329.3h0M110.7 330.9h0M113.1 333.3h0M44.9 330.0h0M79.5 333.0h0M105.7 331.7h0M119.1 332.7h0M56.9 329.0h0M64.6 337.6h0M75.9 337.6h0M132.5 330.6h0M74.2 336.0h0M131.3 329.9h0M100.4 335.0h0M99.7 329.7h0M80.0 335.6h0M113.9 329.5h0M74.2 330.6h0M132.2 329.8h0M82.1 338.8h0M114.7 334.7h0M50.4 330.0h0M46.2 329.7h0M82.2 333.3h0M133.9 329.8h0M54.3 329.2h0M104.6 332.9h0M78.1 333.4h0M78.2 335.4h0M42.8 330.1h0M62.5 333.5h0M83.4 336.5h0M132.5 330.8h0M49.1 331.7h0M57.3 331.0h0M63.9 336.6h0M133.3 327.9h0M83.5 331.5h0M101.5 333.9h0M130.1 329.8h0M74.3 336.1h0M64.3 337.2h0M60.1 328.5h0M127.2 332.2h0M118.0 332.3h0M66.5 329.5h0M81.4 337.3h0M134.2 330.8h0M78.9 338.1h0M119.6 329.0h0M126.4 331.4h0M73.3 336.0h0M79.3 335.7h0M99.8 337.6h0M125.3 330.5h0M75.9 335.8h0M103.4 328.8h0M65.4 334.6h0M54.4 330.1h0M62.7 330.6h0M122.6 331.8h0M101.4 335.7h0M76.3 332.6h0M101.8 329.9h0M111.8 335.7h0M124.3 328.2h0M127.7 328.9h0M50.8 331.6h0M72.0 329.7h0M114.2 333.7h0M107.2 335.6h0M84.1 335.1h0M49.1 328.2h0M82.4 335.6h0M61.0 336.8h0M66.4 333.0h0M83.9 338.9h0M53.1 329.6h0M100.1 331.6h0M71.6 329.2h0M127.9 330.0h0M62.0 336.8h0M48.4 331.3h0M44.4 330.3h0M69.9 338.0h0M81.0 337.4h0M40.9 328.9h0M134.7 329.1h0M41.8 329.0h0M73.5 333.6h0M75.4 331.2h0M84.5 333.1h0M55.9 332.0h0M110.5 331.8h0M58.9 336.2h0M49.5 329.5h0M78.9 332.5h0M58.7 335.4h0M67.7 333.6h0M50.8 330.4h0M51.0 331.2h0M109.6 335.5h0M130.1 328.3h0M83.0 335.4h0M74.7 338.2h0M123.2 328.2h0M76.1 335.6h0M120.1 331.2h0M122.1 332.6h0M78.5 335.8h0M49.0 332.6h0M120.7 333.8h0M61.0 335.1h0M41.8 330.1h0M67.6 333.1h0M75.5 333.9h0M80.5 336.5h0M102.5 330.6h0M57.4 329.8h0M70.0 332.4h0M113.0 336.0h0M63.6 330.8h0M38.7 330.6h0M41.7 330.5h0M75.5 338.8h0M68.6 328.0h0M48.5 329.0h0M110.3 334.4h0M72.7 337.4h0M54.0 329.5h0M115.5 330.2h0M126.4 331.2h0M105.6 333.4h0M58.7 332.8h0M130.4 327.9h0M70.4 331.1h0M63.0 335.4h0M101.5 329.2h0" stroke="#2d1580" stroke-width="1.0" stroke-linecap="round" fill="none"/>
<path d="M125.3 285.2h0M120.0 286.2h0M119.1 289.5h0M118.3 289.8h0M118.4 299.0h0M117.6 273.6h0M117.5 257.1h0M122.5 253.3h0M119.3 300.9h0M118.1 297.9h0M117.6 291.1h0M117.6 254.6h0M116.4 252.3h0M125.4 315.5h0M117.5 288.9h0M121.4 301.5h0M121.4 327.6h0M124.0 327.5h0M121.4 274.5h0M116.1 267.9h0M120.5 309.6h0M118.4 281.2h0M123.6 324.5h0M122.3 315.9h0M119.9 320.8h0M120.8 286.6h0M112.7 255.7h0M121.1 271.0h0M121.6 256.8h0M121.2 309.0h0M117.3 257.9h0M114.2 254.7h0M119.8 293.5h0M119.5 306.9h0M116.6 260.2h0M117.8 282.7h0M117.1 266.6h0M130.3 312.5h0M118.0 273.7h0M117.9 280.7h0M120.7 316.5h0M121.9 327.0h0M116.1 266.6h0M123.1 275.6h0M117.4 273.1h0M118.3 295.3h0M119.0 268.9h0M118.8 285.3h0M125.6 324.6h0M120.1 317.4h0M120.8 264.2h0M126.8 313.6h0M118.3 269.4h0M126.4 323.2h0M123.9 265.3h0M120.3 297.0h0M117.1 282.8h0M120.9 324.9h0M116.6 268.5h0M122.4 314.1h0M118.3 296.4h0M121.1 306.0h0M119.1 255.4h0M122.1 316.3h0M122.1 321.4h0M119.0 265.9h0M116.7 284.7h0M118.0 254.7h0M120.1 294.5h0M122.7 319.3h0M123.9 326.3h0M122.8 295.5h0M116.1 260.9h0M120.0 320.8h0M119.3 304.5h0M118.1 299.5h0M117.1 287.5h0M124.2 327.8h0M114.6 255.9h0M120.3 320.0h0M125.6 311.7h0M123.7 321.2h0M124.9 320.1h0M126.0 317.8h0M123.2 317.2h0M120.3 294.6h0M120.4 295.3h0M122.9 297.4h0M123.4 327.3h0M120.2 318.4h0M122.8 307.2h0M124.9 295.2h0M115.8 256.5h0M118.7 296.8h0M117.4 287.4h0M123.2 288.7h0M120.6 297.8h0M114.6 250.9h0M121.7 265.8h0M120.6 263.2h0M119.8 284.4h0M122.6 319.4h0M121.2 265.4h0M119.5 283.5h0M128.4 318.5h0M119.1 279.9h0M117.2 260.6h0M121.0 288.6h0M125.5 305.3h0M120.5 323.9h0M118.9 285.1h0M116.7 271.4h0M122.1 298.7h0M119.9 288.4h0M127.7 326.4h0M117.4 285.2h0M120.1 317.9h0M112.5 253.2h0M116.0 274.0h0M116.1 260.6h0M124.2 285.4h0M117.0 268.5h0M121.0 261.0h0M118.1 284.7h0M122.1 299.0h0M126.5 324.6h0M119.8 303.3h0M120.1 263.9h0M116.5 250.8h0M116.1 263.9h0M122.2 304.3h0M122.3 290.5h0M120.6 280.6h0M120.6 311.6h0M121.0 322.6h0M121.8 306.2h0M121.2 298.7h0M123.7 320.8h0M123.5 318.4h0M123.5 312.0h0M119.7 300.7h0M117.1 265.9h0M125.6 299.9h0M120.6 305.8h0M129.1 326.3h0M127.6 326.0h0M117.5 274.9h0M122.2 320.8h0M112.7 256.4h0M120.8 309.8h0M124.2 287.9h0M116.3 255.0h0M118.3 276.1h0M120.6 311.3h0M118.8 290.2h0M122.0 306.3h0M125.5 323.6h0M118.4 288.3h0M116.3 267.2h0M118.7 291.0h0M124.5 299.7h0M120.0 290.7h0M120.3 274.3h0M121.0 279.7h0M123.2 266.2h0M124.5 316.2h0M118.4 294.6h0M120.5 265.6h0M118.8 297.1h0M115.2 252.2h0M117.7 281.2h0M121.8 288.2h0M123.2 303.8h0M118.2 282.2h0M123.1 324.4h0M118.1 286.8h0M122.4 259.9h0M122.9 320.1h0M117.7 287.1h0M120.3 298.1h0M125.0 322.0h0M116.4 251.8h0M121.2 303.5h0M119.4 275.1h0M119.8 258.2h0M122.3 306.9h0M119.2 269.5h0M120.1 265.4h0M116.7 279.2h0M118.6 282.2h0M116.1 265.9h0M121.2 299.1h0M123.4 316.2h0M119.6 297.6h0M121.1 307.6h0M122.2 313.1h0M117.9 274.5h0M122.9 321.8h0M134.4 319.1h0M115.8 260.4h0M122.5 270.2h0M117.3 257.5h0M122.9 311.5h0M120.5 259.8h0M117.0 251.4h0M125.9 320.9h0M124.0 325.3h0M122.2 309.0h0M117.9 289.1h0M116.4 255.5h0M117.9 292.9h0M119.1 290.1h0M116.6 264.4h0M122.6 265.9h0M130.7 322.1h0M124.7 257.4h0M120.4 285.9h0M121.1 309.5h0M121.1 290.1h0M116.8 283.5h0M118.8 304.5h0M121.4 315.7h0M122.9 307.5h0M116.9 281.5h0M119.3 289.9h0M112.9 251.2h0M122.3 304.8h0M120.6 281.5h0M129.6 296.6h0M119.5 312.6h0M121.6 270.1h0M122.7 310.5h0M126.7 313.4h0M124.7 318.5h0M119.2 304.1h0M123.2 281.6h0M122.1 306.2h0M118.2 286.5h0M118.7 250.8h0M118.9 298.5h0M128.2 301.8h0M118.8 276.3h0M121.6 291.5h0M122.0 280.3h0M118.4 304.6h0M119.8 309.3h0M117.9 297.9h0M118.9 307.5h0M116.6 253.9h0M119.0 257.7h0M120.2 269.5h0M119.8 289.5h0M132.7 325.2h0M123.6 299.6h0M124.2 313.0h0M121.5 309.1h0M115.1 253.5h0M119.0 286.7h0M122.0 297.5h0M114.9 254.6h0M120.3 291.0h0M118.1 272.2h0M121.3 301.0h0M119.8 305.8h0M118.9 273.0h0M118.2 253.3h0M121.8 280.3h0M119.8 319.8h0M121.8 326.9h0M128.2 323.5h0M120.3 283.4h0M119.7 287.2h0M117.5 290.7h0M120.8 322.9h0M125.0 326.2h0M120.9 313.5h0M119.1 298.6h0M116.8 285.5h0M118.3 291.1h0M121.1 259.7h0M118.6 285.4h0M119.6 270.4h0M121.1 310.5h0M127.4 291.3h0M118.8 307.1h0M122.4 268.5h0M124.9 311.0h0M119.9 298.6h0M120.9 303.3h0M122.3 293.9h0M122.0 308.6h0M115.7 264.8h0M131.6 321.2h0M121.1 318.4h0M116.1 271.1h0M117.6 283.1h0M118.5 292.1h0M117.8 255.6h0M119.9 292.8h0M119.6 287.2h0M119.6 266.4h0M125.2 315.2h0M119.0 255.8h0M118.2 298.5h0M119.1 283.0h0M117.2 270.1h0M121.8 300.9h0M122.8 327.0h0M123.5 308.0h0M123.5 321.6h0M116.9 257.5h0M121.2 318.1h0M118.1 293.9h0M118.1 287.7h0M122.2 310.3h0M119.5 255.9h0M119.7 256.4h0M118.9 304.0h0M118.2 277.8h0M120.0 306.5h0M120.1 305.2h0M126.0 294.3h0M124.7 321.1h0M117.5 284.1h0M119.2 274.7h0M124.2 281.1h0M119.3 269.3h0M118.5 278.1h0M119.0 280.8h0M117.7 280.2h0M124.2 312.0h0M119.9 292.1h0M120.2 263.7h0M121.4 309.0h0M112.6 251.7h0M117.9 294.1h0M124.6 325.2h0M111.4 255.0h0M119.5 256.5h0M123.1 319.9h0M114.7 256.6h0M120.6 308.0h0M118.3 267.2h0M126.0 309.5h0M116.9 280.7h0M122.0 276.3h0M118.0 288.4h0M118.3 291.8h0M126.4 321.2h0M119.0 281.9h0M125.0 316.4h0M123.6 312.7h0M127.8 324.5h0M124.5 299.8h0M120.1 312.4h0M118.3 282.8h0M119.9 307.7h0M122.2 327.1h0M117.5 265.9h0M119.1 283.1h0M115.3 254.6h0M120.0 300.4h0M119.6 310.4h0M117.8 285.7h0M118.4 295.4h0M115.8 258.5h0M116.2 264.4h0M121.6 305.8h0M118.0 296.3h0M118.4 271.9h0M115.7 263.4h0M120.8 292.7h0M122.5 313.6h0M120.1 319.0h0M122.8 321.1h0M124.6 324.5h0M116.9 287.5h0M121.4 323.7h0M123.0 312.4h0M120.3 290.1h0M121.9 271.4h0M116.1 268.5h0M116.2 250.8h0M120.4 312.0h0M121.0 262.2h0M116.9 262.2h0M122.5 317.6h0M125.6 290.2h0M125.8 270.7h0M121.3 291.6h0M118.0 250.1h0M126.6 314.0h0M119.9 256.4h0M119.8 257.6h0M120.7 324.3h0M119.7 295.6h0M121.9 311.4h0M117.7 282.4h0M120.2 314.3h0M120.6 266.2h0M116.8 262.3h0M120.7 314.7h0M114.8 255.9h0M123.0 305.6h0M116.6 278.0h0M117.8 280.7h0M124.2 285.9h0M119.7 300.9h0M118.7 251.0h0M120.0 268.5h0M120.5 250.8h0M116.1 266.1h0M118.8 297.9h0M121.0 292.0h0M118.0 273.2h0M121.8 301.9h0M117.9 270.0h0M122.3 275.6h0M126.3 323.5h0M118.4 275.8h0M121.3 314.3h0M116.4 257.3h0M119.0 302.7h0M118.6 281.3h0M120.9 315.1h0M116.7 267.6h0M118.5 262.2h0M118.2 255.7h0M119.0 289.8h0M118.8 300.4h0M123.7 280.0h0M116.5 275.8h0M116.4 281.2h0M125.8 304.5h0M119.0 301.4h0M121.4 297.3h0M116.3 276.6h0M121.3 300.6h0M119.4 289.6h0M121.7 311.3h0M120.6 262.3h0M123.2 309.6h0M118.9 277.4h0M121.0 288.9h0M125.6 326.8h0M118.6 290.1h0M123.4 265.3h0M122.0 323.5h0M115.9 256.5h0M123.9 304.2h0M119.4 275.6h0M118.2 286.0h0M117.5 259.6h0M120.2 320.3h0M122.1 292.3h0M117.8 270.6h0M127.6 320.7h0M118.0 296.8h0M116.8 259.5h0M122.9 319.8h0M122.8 268.7h0M119.1 264.4h0M118.1 292.6h0M116.1 264.0h0M126.1 326.8h0M118.1 273.9h0M118.5 302.2h0M121.6 296.0h0M122.0 312.5h0M116.8 286.4h0M119.5 261.1h0M119.1 263.5h0M117.4 290.4h0M121.3 275.8h0M124.1 299.9h0M116.9 261.3h0M124.0 324.6h0M118.9 282.0h0M120.4 298.5h0M125.4 308.5h0M124.7 287.8h0M119.8 316.5h0M121.0 281.8h0M122.0 320.4h0M121.4 290.9h0M120.5 320.4h0M122.2 274.9h0M122.1 320.0h0M124.4 307.0h0M119.8 273.7h0M119.5 296.2h0M117.3 284.8h0M117.9 289.1h0M119.2 304.1h0M117.2 290.9h0M119.6 280.8h0M124.1 268.4h0M124.1 325.2h0M121.1 301.8h0M122.4 312.6h0M115.8 267.3h0M125.2 320.3h0M115.7 257.7h0M119.2 291.8h0M123.2 324.0h0M115.8 273.3h0M124.1 275.3h0M122.7 313.4h0M119.4 280.9h0M121.3 253.6h0M117.6 274.0h0M127.4 288.8h0M121.2 286.8h0M118.4 266.1h0M128.9 319.8h0M117.7 265.2h0M119.9 286.8h0M125.6 263.4h0M125.1 265.7h0M121.0 299.2h0M119.1 253.9h0M120.0 274.4h0M124.3 320.0h0M120.2 260.5h0M122.6 304.1h0M116.2 256.1h0M122.1 305.3h0M116.9 265.3h0M121.0 301.7h0M123.4 311.5h0M124.1 318.8h0M118.0 295.9h0M123.5 322.1h0M119.2 301.9h0M121.0 257.0h0M125.2 326.5h0M118.9 291.3h0M114.6 253.5h0M116.3 269.5h0M117.5 272.2h0M118.9 308.8h0M120.6 292.6h0M125.5 264.5h0M111.6 252.6h0M117.6 279.9h0M122.6 322.3h0M117.2 293.3h0M121.9 300.2h0M123.8 310.9h0M125.0 290.2h0M118.6 303.2h0M119.4 290.5h0M119.8 310.7h0M117.9 262.9h0M118.3 284.3h0M120.6 310.1h0M123.0 268.4h0M117.7 288.1h0M122.2 288.8h0M113.4 252.7h0M119.2 294.6h0M117.3 261.8h0M115.9 251.4h0M116.9 284.4h0M118.6 255.6h0M120.1 292.3h0M119.3 311.6h0M118.2 274.2h0M119.1 253.3h0M117.5 290.9h0M116.5 256.9h0M118.1 269.8h0M118.3 262.4h0M126.4 311.2h0M117.1 254.8h0M116.9 266.8h0M116.9 288.1h0M121.2 309.2h0M116.6 285.4h0M121.8 308.0h0M120.5 319.2h0M118.1 261.0h0M118.4 283.0h0M117.7 256.0h0M119.2 309.4h0M118.8 269.7h0M117.4 292.9h0M124.7 322.5h0M122.0 278.3h0M127.8 297.5h0M118.0 253.1h0M119.1 254.6h0M126.9 317.3h0M121.2 286.0h0M118.2 280.6h0M122.4 310.8h0M117.2 266.8h0M119.4 292.8h0M116.3 262.7h0M119.3 286.4h0M128.4 274.0h0M122.6 302.8h0M120.7 317.1h0M114.9 255.7h0M119.5 271.4h0M117.6 251.4h0M121.9 280.6h0M118.8 270.9h0M121.5 278.1h0M124.0 278.0h0M120.4 309.6h0M114.7 251.6h0M117.5 256.5h0M121.4 310.0h0M120.9 290.4h0M117.2 268.5h0M118.6 253.2h0M118.3 252.5h0M121.5 292.3h0M120.7 270.3h0M119.8 306.4h0M117.7 265.9h0M116.8 271.8h0M120.1 280.1h0M120.1 317.4h0M119.3 276.8h0M116.6 266.8h0M118.1 299.0h0M121.5 294.0h0M126.5 273.2h0M120.8 302.2h0M119.8 303.6h0M126.3 301.9h0M118.1 268.3h0M121.6 299.2h0M118.3 280.5h0M117.4 254.7h0M117.2 288.7h0M118.5 281.3h0M119.7 287.0h0M121.1 268.7h0M117.5 257.2h0M119.1 261.7h0M119.1 295.3h0M123.5 304.5h0M117.4 251.8h0M116.3 254.9h0M120.8 288.6h0M118.3 275.3h0M119.6 269.7h0M120.3 319.4h0M117.8 294.0h0M121.8 264.5h0M124.4 286.5h0M122.8 278.2h0M124.2 294.8h0M120.4 298.8h0M121.5 298.3h0M118.1 271.5h0M122.3 314.5h0M122.7 320.8h0M118.1 253.0h0M123.2 274.0h0M124.3 261.7h0M116.5 265.0h0M122.0 268.2h0M115.1 250.1h0M121.8 268.6h0M117.4 292.6h0M125.2 298.6h0M123.2 325.4h0M120.8 275.9h0M123.0 274.4h0M120.7 305.7h0M126.2 325.0h0M122.5 314.1h0M121.7 288.2h0M119.7 293.9h0M121.3 308.3h0M117.3 291.5h0M119.0 275.3h0M117.7 263.8h0M116.9 254.9h0M119.3 304.8h0M122.1 258.8h0M118.8 287.4h0M121.1 262.6h0M115.7 254.2h0M124.1 312.0h0M116.6 280.5h0M121.7 305.7h0M119.4 275.4h0M125.6 315.6h0M123.3 314.5h0M120.3 305.0h0M121.5 298.5h0M121.9 259.7h0M117.4 279.3h0M118.3 264.4h0M112.6 251.1h0M124.5 325.5h0M120.9 282.6h0M125.7 299.1h0M126.3 326.9h0M114.5 253.8h0M119.9 253.3h0M123.2 327.3h0M112.9 252.1h0M117.2 279.1h0M118.3 274.1h0M123.4 272.1h0M121.2 280.5h0M125.2 326.3h0M117.7 280.3h0M124.1 312.3h0M116.3 261.4h0M121.8 322.6h0M117.9 269.6h0M116.0 275.2h0M115.2 251.5h0M118.3 298.6h0M119.6 287.5h0M116.0 278.5h0M117.5 255.0h0M117.0 256.1h0M124.9 327.6h0M118.9 265.7h0M119.7 282.3h0M120.3 312.8h0M118.1 292.8h0M120.5 301.1h0M122.4 323.0h0M124.1 317.3h0M119.5 314.9h0M119.0 306.4h0M116.4 263.1h0M118.8 259.2h0M120.6 308.6h0M116.4 274.1h0M115.8 266.3h0M125.3 324.6h0M119.6 313.0h0M119.5 311.6h0M123.4 312.5h0M120.7 314.4h0M127.3 257.8h0M125.5 323.9h0M119.5 269.5h0M125.3 320.8h0M116.5 267.7h0M120.1 280.2h0M123.7 313.1h0M118.4 278.4h0M118.8 271.7h0M120.6 320.4h0M117.5 276.0h0M120.4 307.7h0M123.9 292.5h0M119.2 302.9h0M117.2 261.1h0M116.4 277.3h0M117.1 289.1h0M118.3 281.4h0M124.8 324.1h0M118.4 265.9h0M121.3 308.7h0M119.6 258.4h0M120.5 324.9h0M121.2 267.1h0M119.1 263.8h0M120.3 271.3h0M125.0 275.1h0M123.5 264.3h0M125.3 261.5h0M122.3 299.4h0M119.9 266.5h0M124.0 297.9h0M123.2 298.9h0M118.7 289.3h0M120.2 315.2h0M124.3 303.7h0M118.0 282.6h0M116.6 279.9h0M123.0 294.6h0M122.7 290.1h0M117.6 284.8h0M125.6 296.2h0M120.9 261.8h0M123.4 286.5h0M116.1 274.3h0M122.9 307.3h0M119.9 317.5h0M120.2 259.9h0M116.0 268.2h0M125.3 315.4h0M127.3 314.5h0M132.5 312.1h0M118.6 255.0h0M120.6 269.5h0M124.2 312.8h0M121.0 317.3h0M116.8 265.2h0M111.5 255.7h0M119.2 288.2h0M118.3 268.8h0M126.8 310.0h0M123.4 292.7h0M119.6 261.8h0M116.8 278.5h0M116.5 276.9h0M120.6 317.3h0M117.4 264.1h0M119.3 280.2h0M124.5 320.2h0M115.7 255.6h0M122.7 299.0h0M120.4 265.3h0M118.9 302.0h0M116.2 276.4h0M118.1 274.5h0M120.1 296.9h0M119.3 304.1h0M120.4 304.0h0M118.0 286.3h0M121.5 323.2h0M119.4 297.5h0M122.6 327.4h0M118.7 303.8h0M119.8 274.1h0M119.7 281.8h0M120.9 283.0h0M123.2 313.8h0M119.4 289.4h0M123.8 323.3h0M121.1 268.3h0M119.3 295.1h0M124.1 272.3h0M121.6 316.5h0M124.1 322.6h0M116.2 280.2h0M122.1 284.9h0M116.8 255.0h0M119.7 284.3h0M119.4 304.1h0M118.4 302.3h0M119.6 260.3h0M119.8 319.7h0M120.2 276.6h0M122.6 313.8h0M121.7 292.5h0M116.6 257.7h0M117.0 278.3h0M116.9 279.1h0M122.0 276.8h0M120.6 319.9h0M118.2 299.2h0M119.6 286.5h0M119.4 274.6h0M127.0 302.2h0M127.2 326.0h0M126.7 327.2h0M122.9 300.6h0M120.0 304.5h0M116.5 286.0h0M117.7 281.2h0M122.9 327.0h0M117.3 266.3h0M117.7 280.7h0M120.9 307.7h0M119.3 300.5h0M118.0 298.5h0M122.4 313.1h0M119.0 306.9h0M118.6 286.5h0M111.0 251.2h0M123.6 319.7h0M117.7 291.7h0M122.7 291.5h0M120.6 273.5h0M120.7 289.5h0M119.1 260.1h0M115.6 256.9h0M119.1 310.5h0M116.4 254.2h0M121.8 293.4h0M117.6 285.7h0M121.1 316.1h0M120.5 262.0h0M117.0 281.6h0M124.8 297.6h0M124.3 282.2h0M119.8 250.8h0M119.2 307.1h0M119.4 291.3h0M117.2 252.2h0M125.3 325.2h0M114.9 253.6h0M116.6 270.3h0M118.5 258.7h0M118.5 288.0h0M103.6 303.7h0M102.9 297.6h0M105.8 293.0h0M108.6 278.9h0M101.1 309.6h0M107.3 288.0h0M105.2 291.3h0M106.8 289.5h0M113.0 261.5h0M104.5 294.8h0M103.9 296.2h0M112.1 264.9h0M107.4 284.0h0M110.6 274.1h0M100.9 310.3h0M107.1 286.4h0M98.8 325.4h0M97.9 325.1h0M107.3 283.5h0M108.6 279.0h0M102.7 300.5h0M105.0 292.7h0M105.0 294.0h0M111.7 264.5h0M109.5 275.6h0M107.9 287.7h0M98.8 318.0h0M102.3 305.5h0M113.4 264.0h0M108.4 280.9h0M109.3 280.2h0M101.4 302.8h0M112.8 262.0h0M102.7 301.6h0M105.2 296.5h0M113.1 259.6h0M98.2 323.2h0M113.0 258.4h0M100.2 309.4h0M98.2 326.7h0M99.5 322.0h0M106.9 288.7h0M100.4 310.5h0M107.0 288.5h0M110.9 266.2h0M113.5 263.0h0M112.0 266.1h0M103.4 296.3h0M111.9 265.9h0M98.3 324.6h0M104.5 297.1h0M106.7 287.0h0M104.8 295.4h0M98.8 319.0h0M106.5 291.0h0M107.7 284.4h0M102.8 305.1h0M101.5 306.1h0M107.5 285.1h0M100.8 309.8h0M110.3 269.6h0M108.0 282.2h0M110.2 269.4h0M105.6 294.3h0M106.2 285.1h0M107.4 283.0h0M101.7 298.8h0M108.8 280.9h0M101.8 306.7h0M101.8 309.0h0M103.8 298.1h0M100.1 315.6h0M107.4 284.4h0M102.3 301.1h0M105.6 297.1h0M105.9 289.8h0M105.6 292.0h0M112.9 265.1h0M109.0 279.4h0M101.6 306.8h0M103.4 297.7h0M110.7 268.6h0M98.1 324.4h0M110.6 264.8h0M100.6 312.7h0M105.0 295.3h0M104.0 300.6h0M104.5 298.7h0M99.7 320.8h0M107.4 283.4h0M97.8 324.4h0M98.8 317.9h0M101.3 308.7h0M114.1 259.4h0M104.5 295.5h0M110.2 275.7h0M110.6 267.2h0M109.2 277.9h0M107.9 277.4h0M110.7 269.2h0M99.9 318.0h0M103.7 296.0h0M100.2 309.2h0M98.2 322.2h0M100.6 312.1h0M98.4 323.4h0M108.0 283.3h0M105.7 289.6h0M107.5 283.9h0M103.5 293.3h0M103.7 297.5h0M98.4 324.3h0M112.5 265.7h0M112.0 263.0h0M99.4 320.9h0M111.9 266.4h0M97.1 327.0h0M114.0 262.3h0M102.3 304.5h0M104.0 297.9h0M97.2 326.6h0M99.2 312.8h0M105.6 294.4h0M110.9 270.9h0M104.2 294.8h0M111.0 271.8h0M100.9 307.2h0M112.7 263.5h0M103.7 292.0h0M103.4 297.2h0M110.9 267.4h0M102.3 307.0h0M99.8 323.5h0M98.1 322.6h0M99.5 317.9h0M105.4 292.2h0M103.1 299.2h0M102.2 300.8h0M98.9 323.1h0M98.3 325.0h0M114.4 260.2h0M98.8 324.8h0M114.8 259.7h0M102.1 306.1h0M103.8 294.3h0M99.5 314.4h0M115.2 258.0h0M98.3 326.1h0M99.2 316.2h0M108.5 282.2h0M118.2 228.4h0M115.1 245.6h0M115.2 243.8h0M120.7 241.6h0M118.8 235.0h0M116.7 232.5h0M113.1 235.6h0M118.1 238.0h0M116.5 235.1h0M115.6 243.7h0M118.8 235.6h0M116.5 235.0h0M115.5 237.0h0M120.7 248.2h0M115.8 251.7h0M116.6 250.9h0M118.2 235.3h0M119.2 257.7h0M113.9 239.1h0M121.0 257.7h0M120.4 239.6h0M120.3 251.5h0M118.1 238.1h0M115.1 236.6h0M117.0 245.8h0M113.8 252.6h0M115.4 228.4h0M117.9 230.0h0M117.7 255.4h0M118.1 254.3h0M118.7 256.8h0M115.6 255.9h0M116.4 232.3h0M111.6 233.8h0M115.5 232.1h0M112.1 249.8h0M114.2 256.5h0M118.5 231.6h0M118.5 236.2h0M117.3 233.5h0M119.6 238.4h0M118.4 233.5h0M114.6 231.7h0M116.6 245.0h0M110.6 250.9h0M116.8 230.4h0M119.6 234.7h0M117.9 250.8h0M115.1 255.7h0M117.5 237.9h0M115.9 245.1h0M121.0 257.2h0M113.3 241.8h0M114.3 242.0h0M124.5 233.7h0M115.5 228.7h0M116.2 250.9h0M118.3 232.9h0M117.6 233.2h0M116.2 228.6h0M118.6 234.6h0M114.1 247.6h0M117.5 242.0h0M118.0 237.1h0M117.7 229.2h0M121.0 239.1h0M115.7 242.2h0M115.9 238.7h0M114.3 254.5h0M115.9 244.2h0M114.5 241.8h0M122.7 235.0h0M119.8 256.1h0M113.5 232.9h0M119.4 243.3h0M117.5 233.1h0M117.2 249.7h0M121.2 232.7h0M116.3 256.4h0M118.1 248.6h0M114.6 238.4h0M115.5 255.7h0M117.1 243.4h0M117.4 242.9h0M114.3 236.1h0M115.7 241.9h0M114.9 230.7h0M117.1 247.2h0M116.0 257.1h0M120.6 230.5h0M117.3 252.0h0M121.7 251.9h0M120.1 235.6h0M115.6 240.8h0M120.0 244.7h0M116.3 242.5h0M119.2 236.7h0M114.9 238.3h0M118.8 233.9h0M121.6 252.1h0M120.0 257.4h0M114.8 251.9h0M118.6 249.3h0M113.4 233.3h0M116.1 252.4h0M118.5 255.6h0M115.6 228.7h0M116.6 251.8h0M122.2 246.3h0M113.8 247.3h0M117.3 229.9h0M115.4 257.5h0M116.1 254.1h0M118.5 248.8h0M120.5 250.7h0M117.5 231.8h0M121.8 249.8h0M118.7 251.1h0M119.2 251.6h0M114.2 256.3h0M114.5 247.2h0M117.6 238.6h0M120.4 228.7h0M121.6 234.9h0M117.7 247.6h0M113.3 243.5h0M117.3 237.5h0M118.7 247.4h0M119.1 248.6h0M115.8 255.8h0M115.0 255.3h0M123.3 246.6h0M116.9 256.9h0M115.3 236.4h0M116.5 243.7h0M116.8 253.9h0M113.0 244.1h0M118.3 235.5h0M116.0 234.0h0M116.6 237.8h0M120.8 242.4h0M128.3 268.7h0M142.0 323.3h0M126.8 274.1h0M125.8 257.7h0M127.5 324.2h0M132.5 275.8h0M136.6 306.1h0M144.6 295.0h0M130.0 319.0h0M142.8 285.8h0M124.2 284.6h0M124.8 306.5h0M126.3 249.8h0M130.2 261.1h0M129.6 302.9h0M139.5 306.6h0M132.7 300.9h0M122.3 275.8h0M139.5 279.7h0M125.8 317.7h0M122.6 242.5h0M132.0 299.9h0M124.5 247.8h0M137.0 288.7h0M131.3 273.1h0M136.4 298.7h0M127.5 240.3h0M120.9 247.8h0M121.5 279.6h0M123.9 242.7h0M122.4 279.1h0M149.6 323.7h0M131.3 280.8h0M136.2 265.0h0M123.1 247.0h0M131.7 256.3h0M128.0 282.8h0M136.2 272.7h0M131.1 259.7h0M132.5 301.1h0M126.9 269.7h0M125.5 277.7h0M130.0 293.4h0M131.8 263.9h0M128.5 277.9h0M135.4 316.9h0M135.9 270.6h0M147.6 325.8h0M131.7 272.9h0M129.3 304.2h0M147.9 302.6h0M137.2 296.3h0M131.9 276.0h0M130.2 256.8h0M142.2 285.6h0M131.5 267.4h0M123.9 237.5h0M128.8 306.5h0M125.8 292.4h0M138.5 272.6h0M132.2 254.1h0M126.0 241.5h0M146.9 311.6h0M130.0 272.0h0M141.5 301.5h0M136.9 304.7h0M129.5 259.1h0M131.9 287.6h0M128.2 326.8h0M130.6 307.8h0M148.0 302.8h0M127.7 261.2h0M130.1 284.6h0M127.4 251.4h0M142.1 318.2h0M132.1 262.6h0M122.8 274.6h0M130.8 291.7h0M142.2 284.7h0M142.5 288.4h0M132.6 268.4h0M122.9 242.9h0M138.8 299.7h0M132.7 312.2h0M124.6 261.2h0M122.1 285.4h0M131.0 270.5h0M123.3 249.7h0M122.2 259.0h0M121.1 246.8h0M143.1 309.1h0M126.4 260.3h0M123.7 300.0h0M147.7 311.3h0M129.0 255.4h0M129.6 300.3h0M129.0 316.8h0M125.7 279.6h0M135.4 276.7h0M133.6 288.4h0M130.2 326.8h0M127.8 256.5h0M132.3 249.8h0M126.7 267.4h0M135.6 275.7h0M142.8 320.2h0M123.9 251.8h0M127.0 301.0h0M149.2 317.2h0M124.2 256.8h0M129.4 257.0h0M127.3 240.3h0M129.4 241.8h0M132.4 286.0h0M120.8 244.8h0M137.2 268.5h0M141.0 291.2h0M121.2 241.8h0M127.1 237.9h0M122.9 252.2h0M138.3 297.4h0M126.9 265.7h0M127.9 262.6h0M125.6 268.7h0M123.5 258.9h0M120.9 260.0h0M128.8 264.6h0M121.7 260.7h0M135.4 313.8h0M126.1 283.1h0M145.1 317.6h0M136.1 293.3h0M133.6 299.7h0M126.5 274.0h0M129.1 282.4h0M130.9 284.7h0M148.1 308.5h0M120.7 256.6h0M121.2 263.7h0M139.3 309.3h0M122.7 262.3h0M147.7 315.9h0M138.6 298.9h0M133.4 304.5h0M129.3 272.6h0M148.4 320.4h0M122.4 242.8h0M139.2 325.3h0M126.1 283.4h0M137.0 315.3h0M127.0 327.1h0M126.1 327.4h0M124.2 249.6h0M124.2 294.8h0M141.9 287.7h0M134.2 276.1h0M133.4 290.5h0M125.3 251.9h0M142.5 318.8h0M125.3 255.9h0M127.1 286.0h0M134.3 289.2h0M122.0 237.6h0M126.3 296.4h0M128.4 242.7h0M136.1 266.7h0M123.2 287.4h0M127.0 294.6h0M143.0 310.9h0M124.7 305.8h0M128.4 239.1h0M122.1 248.9h0M121.6 238.8h0M139.6 279.6h0M123.8 265.6h0M127.8 312.2h0M135.3 294.4h0M125.9 322.0h0M128.3 287.8h0M129.3 311.8h0M126.5 301.8h0M140.5 281.5h0M123.3 258.1h0M142.8 320.4h0M121.8 242.1h0M123.4 257.8h0M142.7 313.7h0M143.5 326.1h0M129.4 293.8h0M133.9 302.0h0M124.9 241.4h0M128.8 271.3h0M120.7 240.5h0M134.1 326.4h0M122.5 266.4h0M142.2 290.5h0M125.8 252.6h0M135.6 282.0h0M125.5 288.0h0M129.1 253.4h0M129.9 243.2h0M121.8 239.1h0M136.7 279.0h0M138.4 293.0h0M141.6 306.0h0M129.0 240.7h0M121.8 249.6h0M120.7 239.5h0M133.2 316.7h0M120.8 244.0h0M139.5 313.9h0M125.7 320.3h0M122.9 246.4h0M121.4 253.6h0M127.9 254.5h0M121.8 251.5h0M127.7 285.3h0M126.5 249.8h0M127.5 282.7h0M121.7 279.6h0M125.4 292.6h0M121.2 266.9h0M139.5 317.7h0M129.1 272.1h0M127.6 322.5h0M132.1 271.3h0M131.9 270.2h0M119.2 216.8h0M118.4 220.6h0M121.3 203.4h0M117.8 224.7h0M120.8 212.5h0M122.5 226.0h0M119.9 230.2h0M113.6 233.0h0M124.8 236.5h0M114.8 226.5h0M81.5 319.7h0M50.9 319.2h0M73.8 313.8h0M71.3 312.9h0M46.1 321.2h0M78.8 314.5h0M42.5 317.2h0M73.3 313.3h0M54.7 316.2h0M84.0 317.5h0M65.3 313.3h0M86.0 321.1h0M69.1 312.7h0M44.0 322.8h0M64.6 317.5h0M75.3 317.6h0M67.8 316.4h0M52.8 316.6h0M46.4 320.3h0M79.0 313.6h0M49.9 319.0h0M71.0 316.7h0M78.6 317.4h0M64.3 316.3h0M37.1 327.1h0M37.1 324.6h0M50.5 314.5h0M68.2 317.6h0M72.1 316.4h0M60.6 314.5h0M79.0 313.8h0M57.6 317.4h0M56.5 317.7h0M73.3 315.3h0M70.6 316.9h0M75.4 313.0h0M46.9 318.2h0M44.9 327.4h0M57.3 318.4h0M72.8 314.7h0M70.1 312.7h0M39.9 326.3h0M38.8 323.1h0M77.4 314.5h0M63.8 313.6h0M55.2 319.4h0M68.4 317.9h0M48.2 322.4h0M44.9 327.0h0M63.0 317.7h0M66.6 313.6h0M53.9 319.7h0M69.9 313.9h0M80.3 316.3h0M65.5 313.4h0M70.2 312.6h0M51.1 315.8h0M68.0 315.3h0M37.5 323.4h0M49.9 317.3h0M62.0 315.6h0M39.9 325.9h0M66.7 314.3h0M85.5 320.7h0M51.2 318.0h0M61.8 314.0h0M56.3 314.0h0M60.7 316.4h0M60.5 316.7h0M86.0 327.4h0M56.6 319.3h0M70.2 316.9h0M44.3 322.6h0M66.5 313.9h0M58.8 317.4h0M55.0 314.4h0M47.4 322.9h0M80.4 316.7h0M43.5 326.0h0M80.6 315.5h0M40.2 320.8h0M47.5 319.3h0M66.6 317.8h0M82.8 319.2h0M44.1 318.7h0M42.3 327.2h0M68.9 315.2h0M81.1 315.6h0M47.1 322.7h0M66.6 315.4h0M51.8 314.8h0M47.2 317.9h0M40.6 318.4h0M83.5 318.4h0M52.7 315.8h0M81.3 315.6h0M39.0 322.7h0M43.9 321.2h0M83.6 317.1h0M49.2 317.9h0M52.6 319.7h0M73.4 313.9h0M53.5 317.7h0M71.1 313.9h0M59.7 318.4h0M41.7 325.5h0M77.5 315.4h0M68.6 315.8h0M55.1 319.0h0M84.8 320.4h0M43.3 319.7h0M66.3 314.7h0M74.7 314.7h0M79.9 314.1h0M56.9 315.5h0M55.3 317.3h0M54.9 315.9h0M54.3 318.0h0M78.5 314.2h0M70.1 313.3h0M55.9 315.8h0M49.3 319.6h0M41.9 319.1h0M82.1 318.6h0M55.5 319.3h0M44.0 320.2h0M80.7 319.0h0M49.5 316.3h0M48.1 315.9h0M54.3 317.2h0M46.9 320.8h0M57.8 317.7h0M72.7 317.6h0M68.3 313.6h0M53.0 319.4h0M42.9 326.7h0M75.8 314.8h0M37.7 323.5h0M66.3 316.2h0M38.7 323.5h0M54.3 314.0h0M54.6 314.3h0M79.5 315.8h0M43.2 318.7h0M41.4 321.6h0M41.8 326.4h0M57.1 318.6h0M85.6 322.3h0M81.0 314.7h0M74.1 314.5h0M60.2 314.2h0M69.8 316.9h0M63.0 316.0h0M62.3 314.4h0M70.8 314.7h0M75.7 313.7h0M41.5 325.8h0M39.3 325.7h0M84.0 321.0h0M58.5 316.3h0M64.7 316.6h0M75.2 316.1h0M78.4 314.2h0M37.1 323.1h0M41.6 318.5h0M40.4 324.5h0M74.7 314.8h0M69.7 315.5h0M62.5 317.4h0M59.7 317.5h0M70.1 317.2h0M43.7 325.2h0M63.1 315.1h0M37.1 320.2h0M77.9 316.1h0M44.8 318.0h0M84.9 323.4h0M74.0 313.6h0M82.9 320.1h0M42.9 325.6h0M48.3 315.7h0M81.6 317.3h0M43.2 323.5h0M48.8 317.3h0M72.3 313.7h0M58.4 316.4h0M59.9 316.7h0M59.3 314.9h0M71.9 315.9h0M64.8 317.4h0M39.2 323.6h0M54.6 320.2h0M40.9 323.0h0M83.2 316.7h0M38.5 324.4h0M55.1 318.1h0M43.7 320.8h0M78.1 316.1h0M45.6 325.1h0M37.7 321.3h0M48.3 316.9h0M75.7 317.6h0M46.3 321.7h0M74.7 314.0h0M51.8 317.8h0M54.4 317.1h0M75.9 316.6h0M76.7 313.3h0M66.4 312.9h0M83.0 320.4h0M85.6 325.1h0M76.4 317.4h0M51.8 317.9h0M78.1 314.6h0M47.0 316.1h0M79.4 316.1h0M39.5 324.5h0M51.3 318.2h0M83.2 318.1h0M77.2 317.7h0M49.0 316.7h0M53.7 319.0h0M40.1 326.8h0M57.2 316.1h0M56.6 316.1h0M51.3 321.3h0M70.0 315.9h0M61.1 316.5h0M50.2 321.4h0M51.5 319.0h0M42.6 327.3h0M60.6 318.9h0M80.1 317.2h0M58.7 315.9h0M38.2 326.2h0M75.5 315.0h0M61.2 316.7h0M73.8 315.1h0M75.8 313.6h0M80.8 315.7h0M70.0 315.2h0M63.1 315.1h0M62.7 313.8h0M79.0 318.4h0M73.8 314.6h0M66.3 313.1h0M39.4 322.8h0M55.4 314.0h0M45.1 320.8h0M44.1 319.0h0M61.0 314.4h0M52.0 314.9h0M37.3 325.3h0M72.9 313.3h0M75.1 316.4h0M41.0 320.3h0M72.8 317.5h0M82.8 318.0h0M38.6 323.0h0M53.6 319.9h0M80.4 314.5h0M43.1 322.5h0M50.4 316.7h0M42.4 323.7h0M57.1 316.6h0M58.3 315.6h0M83.1 316.0h0M81.5 315.5h0M48.2 320.6h0M59.5 315.1h0M66.7 316.0h0M85.6 324.2h0M38.0 326.3h0M47.3 317.2h0M78.2 318.1h0M48.6 320.4h0M75.5 313.3h0M49.9 321.1h0M84.4 317.7h0M72.1 315.2h0M73.6 313.8h0M62.0 317.0h0M62.7 314.7h0M52.9 316.4h0M44.2 316.6h0M47.4 321.0h0M84.1 317.4h0M82.3 316.0h0M78.6 314.1h0M64.8 317.8h0M72.9 313.5h0M78.1 318.0h0M40.0 320.3h0M60.9 313.5h0M85.5 323.1h0M70.1 314.2h0M71.0 315.7h0M68.3 317.6h0M81.1 315.9h0M76.3 315.5h0M47.1 319.4h0M70.3 314.8h0M42.3 327.6h0M56.5 318.2h0M48.1 320.8h0M57.4 315.2h0M81.7 316.4h0M38.0 320.4h0M66.8 314.0h0M67.1 316.0h0M53.6 320.1h0M69.5 317.6h0M70.4 313.0h0M69.7 314.5h0M76.6 313.1h0M76.8 313.0h0M59.5 319.2h0M67.1 314.5h0M79.3 315.5h0M54.8 320.4h0M77.7 314.8h0M85.3 321.6h0M78.8 314.5h0M85.6 323.0h0M81.0 317.4h0M37.6 324.5h0M54.2 313.9h0M56.3 318.0h0M70.8 317.2h0M52.0 318.2h0M43.1 320.8h0M57.7 314.5h0M53.6 314.1h0M46.6 319.3h0M48.1 322.6h0M51.8 314.9h0M51.3 317.7h0M62.7 317.0h0M63.2 318.1h0M54.1 318.5h0M77.0 314.0h0M71.3 314.5h0M79.5 315.0h0M39.7 325.9h0M73.6 313.5h0M85.5 320.7h0M44.7 320.8h0M67.6 314.6h0M43.6 316.9h0M62.0 317.0h0M85.1 322.5h0M40.4 320.8h0M49.7 320.2h0M51.8 316.8h0M52.7 316.2h0M81.4 314.7h0M80.6 314.7h0M49.4 315.9h0M41.4 321.4h0M40.7 326.3h0M83.5 321.4h0M72.1 314.9h0M37.1 321.5h0M40.0 319.0h0M77.1 315.4h0M58.9 319.2h0M71.3 317.6h0M62.8 313.3h0M70.2 317.1h0M72.3 314.1h0M53.1 315.5h0M65.4 315.8h0M62.8 316.9h0M51.1 315.1h0M54.1 315.3h0M55.0 318.9h0M37.1 320.4h0M73.8 312.8h0M65.9 317.8h0M45.0 327.2h0M67.0 314.6h0M83.8 320.8h0M48.4 320.7h0M44.2 327.4h0M61.2 316.2h0M55.0 314.0h0M52.4 315.2h0M63.1 317.9h0M38.5 322.1h0M79.8 318.8h0M71.4 316.4h0M70.7 313.4h0M72.6 316.4h0M44.6 316.5h0M81.9 315.3h0M63.5 318.2h0M55.1 314.3h0M40.3 324.3h0M39.1 319.6h0M54.3 319.9h0M54.5 318.9h0M58.2 315.5h0M69.2 317.3h0M63.2 318.2h0M58.6 314.3h0M49.9 315.8h0M49.0 319.1h0M75.8 318.1h0M64.1 315.2h0M72.0 312.9h0M71.0 316.5h0M46.8 319.5h0M50.8 317.4h0M41.4 320.3h0M57.4 319.3h0M42.9 317.5h0M78.6 313.9h0M56.1 313.7h0M45.3 318.7h0M83.2 320.4h0M37.2 326.0h0M41.1 319.3h0M66.7 315.3h0M42.6 320.5h0M43.7 326.0h0M66.1 314.5h0M76.2 313.7h0M43.7 324.0h0M44.1 321.8h0M38.4 320.2h0M70.4 313.5h0M60.9 313.4h0M77.9 313.8h0M76.5 316.8h0M53.9 320.2h0M74.5 315.3h0M85.3 323.8h0M58.1 314.0h0M84.5 319.1h0M80.2 314.5h0M50.3 317.1h0M40.1 320.8h0M83.7 319.3h0M44.1 320.9h0M40.2 322.7h0M40.9 323.0h0M77.1 314.2h0M78.8 316.1h0M58.6 319.0h0M75.7 314.9h0M57.0 318.7h0M59.5 318.8h0M42.9 326.6h0M57.8 318.6h0M77.5 314.9h0M79.5 315.9h0M44.8 324.2h0M78.1 315.1h0M68.7 314.4h0M39.4 325.3h0M58.1 314.2h0M83.2 318.2h0M49.7 321.6h0M64.4 315.9h0M82.6 319.7h0M47.0 323.0h0M38.4 320.6h0M79.7 318.1h0M37.8 322.6h0M49.1 317.5h0M81.7 316.0h0M50.7 317.0h0M51.2 315.9h0M49.6 315.5h0M70.2 313.0h0M53.9 314.2h0M65.5 316.6h0M68.7 316.1h0M42.6 327.1h0M66.9 316.6h0M41.9 319.4h0M44.0 319.0h0M50.4 318.9h0M82.7 316.3h0M77.9 313.1h0M66.6 313.0h0M67.5 314.7h0M52.9 318.1h0M64.9 316.7h0M68.5 313.3h0M72.3 316.5h0M38.4 324.0h0M58.3 314.1h0M63.8 315.4h0M66.7 314.9h0M70.2 314.7h0M64.1 316.9h0M43.1 322.5h0M80.4 314.5h0M51.4 317.1h0M62.4 315.9h0M45.7 317.8h0M41.2 324.9h0M50.7 320.0h0M46.5 323.5h0M62.7 317.5h0M68.5 314.6h0M67.6 315.3h0M67.0 316.3h0M59.7 314.8h0M47.6 317.1h0M65.7 312.8h0M67.2 314.9h0M74.6 316.3h0M55.3 317.2h0M73.0 314.0h0M46.1 316.1h0M85.1 321.9h0M85.8 322.4h0M55.8 319.4h0M37.9 322.5h0M72.2 314.5h0M75.4 315.6h0M73.4 314.6h0M68.1 314.9h0M69.7 314.7h0M41.4 320.5h0M71.5 315.4h0M84.5 320.7h0M45.2 321.2h0M54.5 319.2h0M80.5 318.4h0M71.9 316.8h0M62.3 312.9h0M41.3 318.8h0M37.3 320.2h0M81.5 317.4h0M68.2 315.3h0M45.0 323.2h0M58.6 313.9h0M42.6 321.6h0M60.1 315.6h0M75.8 314.8h0M52.8 314.4h0M66.3 316.5h0M63.8 313.5h0M39.3 321.4h0M60.9 317.1h0M44.8 324.8h0M58.4 316.6h0M66.5 316.5h0M67.4 315.3h0M76.0 313.8h0M48.6 315.1h0M63.8 316.4h0M49.5 316.6h0M58.4 315.1h0M49.5 315.6h0M50.0 315.4h0M58.5 316.7h0M65.3 315.2h0M63.8 315.1h0M83.5 317.8h0M41.5 317.5h0M37.8 326.7h0M77.1 316.6h0M38.4 325.6h0M61.3 313.8h0M38.0 325.7h0M37.6 326.6h0M52.4 317.4h0M84.5 319.7h0M78.9 315.4h0M81.6 316.4h0M48.8 319.4h0M60.5 318.3h0M82.3 317.8h0M46.8 319.3h0M76.5 316.5h0M65.8 317.6h0M48.8 320.8h0M61.8 314.6h0M48.1 317.2h0M65.7 314.0h0M85.8 324.5h0M85.8 323.7h0M62.0 317.6h0M41.2 320.8h0M42.0 327.2h0M41.1 321.8h0M46.6 321.6h0M74.6 315.5h0M44.2 319.7h0M85.7 322.3h0M58.8 315.9h0M71.4 313.4h0M75.5 316.6h0M75.2 317.4h0M43.3 321.8h0M46.0 319.7h0M50.9 314.7h0M58.2 314.3h0M83.3 319.1h0M74.7 315.3h0M56.6 319.0h0M69.3 312.9h0M70.7 316.0h0M62.7 316.4h0M56.2 314.9h0M37.3 323.4h0M62.1 317.8h0M72.9 316.4h0M56.8 318.1h0M66.3 315.6h0M70.5 315.4h0M75.4 315.0h0M42.1 322.1h0M49.4 319.7h0M83.5 319.2h0M73.2 316.9h0M67.8 317.3h0M47.9 321.6h0M38.2 320.0h0M84.3 321.0h0M37.6 321.6h0M69.5 317.6h0M74.6 317.6h0M48.4 316.5h0M74.6 316.6h0M61.9 314.0h0M66.6 315.1h0M46.1 324.6h0M46.2 319.8h0M66.2 315.5h0M68.2 314.8h0M68.6 315.6h0M78.3 315.4h0M80.1 314.1h0M77.6 314.1h0M70.8 314.8h0M49.1 321.4h0M69.4 316.4h0M67.0 314.9h0M66.8 315.6h0M48.7 319.9h0M71.1 313.1h0M52.6 318.6h0M58.9 316.5h0M68.0 313.8h0M74.6 313.7h0M72.5 312.8h0M59.0 316.4h0M68.9 316.1h0M77.6 315.9h0M64.3 315.3h0M54.8 320.3h0M50.6 318.0h0M83.6 321.5h0M81.2 314.7h0M75.8 316.4h0M37.9 320.4h0M40.4 324.2h0M83.0 317.3h0M77.4 313.8h0M45.7 320.6h0M41.6 323.3h0M61.3 313.9h0M51.2 316.5h0M43.9 324.5h0M39.9 321.7h0M65.7 314.2h0M57.6 313.7h0M72.4 314.7h0M79.8 318.0h0M51.3 317.3h0M66.4 312.9h0M70.3 317.6h0M83.3 319.0h0M47.1 317.1h0M67.8 313.3h0M64.0 316.8h0M60.1 316.1h0M54.2 316.5h0M44.3 324.5h0M42.8 327.3h0M62.7 314.3h0M56.7 314.1h0M66.8 314.4h0M51.0 315.0h0M54.0 314.8h0M49.0 315.1h0M70.5 316.8h0M72.8 316.9h0M55.9 317.4h0M53.4 318.1h0M44.9 322.8h0M41.6 319.3h0M54.3 315.6h0M58.0 313.4h0M80.1 315.5h0M78.2 313.5h0M82.6 318.5h0M66.1 317.7h0M54.9 318.0h0M67.5 318.1h0M74.0 317.5h0M57.7 316.4h0M78.3 314.9h0M44.2 319.9h0M48.5 317.6h0M57.3 313.7h0M59.0 317.5h0M52.2 314.4h0M54.1 318.8h0M63.2 314.6h0M83.1 321.2h0M53.1 315.8h0M61.3 314.6h0M70.0 317.3h0M39.5 325.5h0M51.9 319.7h0M51.1 320.5h0M38.3 322.8h0M74.1 317.0h0M41.6 319.9h0M40.9 325.9h0M61.0 317.0h0M75.5 315.2h0M62.6 316.3h0M38.4 320.5h0M56.1 314.6h0M42.2 322.7h0M63.4 317.5h0M40.6 318.3h0M83.0 315.5h0M63.7 314.2h0M66.5 315.4h0M45.4 319.5h0M58.7 315.0h0M39.1 324.5h0M42.5 319.3h0M60.5 317.1h0M75.3 315.2h0M51.2 318.4h0M37.1 326.6h0M38.8 319.2h0M80.0 316.2h0M83.1 318.3h0M70.4 317.2h0M58.4 315.5h0M57.0 315.5h0M53.8 316.1h0M47.2 319.0h0M58.0 316.1h0M39.7 324.8h0M72.1 316.8h0M60.3 313.0h0M66.9 314.0h0M74.8 312.9h0M56.0 317.3h0M74.0 317.8h0M60.0 317.3h0M64.3 314.2h0M79.2 316.0h0M70.9 317.3h0M69.3 312.9h0M67.2 315.2h0M62.0 316.2h0M45.8 323.7h0M75.9 315.2h0M38.9 321.8h0M77.7 314.7h0M45.8 316.2h0M45.9 320.3h0M59.5 318.1h0M50.1 320.3h0M45.2 326.8h0M68.6 314.2h0M49.3 315.0h0M57.7 316.5h0M82.4 317.0h0M59.8 314.5h0M73.3 316.1h0M40.4 320.2h0M73.6 314.6h0M42.7 319.4h0M45.6 317.8h0M67.5 314.5h0M40.7 323.6h0M72.9 317.2h0M38.9 323.5h0M78.8 315.2h0M48.3 321.9h0M78.0 313.8h0M71.4 316.6h0M73.8 317.9h0M45.4 323.0h0M83.9 322.7h0M44.9 318.9h0M74.4 316.4h0M40.7 319.0h0M84.5 318.3h0M64.7 317.7h0M73.3 314.4h0M77.7 314.1h0M61.6 313.0h0M59.6 316.3h0M68.2 313.6h0M65.8 313.0h0M50.3 315.1h0M80.0 317.2h0M38.4 322.2h0M67.4 312.8h0M64.4 314.2h0M74.2 316.9h0M69.7 315.4h0M47.6 320.5h0M54.8 315.4h0M64.1 316.4h0M39.7 320.0h0M73.9 313.5h0M75.5 317.7h0M50.8 318.0h0M51.6 315.4h0M47.0 323.0h0M59.1 319.0h0M38.4 322.1h0M66.6 315.0h0M40.4 321.7h0M62.6 316.7h0M47.9 321.4h0M60.7 316.6h0M65.7 314.4h0M50.5 317.1h0M49.7 316.4h0M47.0 318.3h0M73.1 313.6h0M63.0 313.3h0M85.3 320.3h0M54.6 318.5h0M67.7 317.2h0M45.7 325.1h0M68.9 315.7h0M82.2 316.0h0M63.0 316.5h0M52.7 320.5h0M42.4 318.3h0M51.6 321.3h0M85.0 322.4h0M75.0 315.5h0M84.5 323.2h0M60.2 315.0h0M38.2 319.9h0M53.6 316.0h0M40.9 326.5h0M41.2 319.4h0M83.2 316.2h0M63.0 318.0h0M75.1 315.2h0M75.3 314.6h0M64.7 317.2h0M44.0 326.7h0M58.2 317.5h0M83.8 322.4h0M74.2 317.2h0M42.1 317.9h0M47.8 318.1h0M65.7 315.8h0M54.1 319.5h0M71.1 315.7h0M66.4 313.6h0M40.7 323.0h0M54.3 314.3h0M67.4 316.9h0M59.5 319.2h0M62.2 318.3h0M43.8 321.7h0M63.4 317.2h0M65.6 316.3h0M71.4 317.5h0M78.2 315.8h0M45.5 323.2h0M67.8 317.4h0M81.7 318.7h0M57.1 319.2h0M59.4 313.3h0M46.2 323.2h0M63.8 314.7h0M44.0 325.0h0M66.6 316.7h0M38.4 321.5h0M79.6 314.7h0M78.9 317.4h0M52.2 316.7h0M67.2 314.5h0M64.1 316.9h0M48.7 321.7h0M39.8 321.7h0M41.2 318.6h0M84.0 322.0h0M84.4 313.2h0M38.3 318.0h0M55.3 311.5h0M41.2 316.7h0M38.8 317.2h0M61.1 311.1h0M82.4 305.1h0M62.0 305.0h0M55.0 307.4h0M75.3 307.3h0M73.5 306.6h0M46.3 313.0h0M43.5 312.0h0M50.1 311.2h0M76.8 303.3h0M81.6 306.5h0M71.2 298.4h0M71.1 292.9h0M66.5 305.3h0M64.4 308.1h0M83.2 313.6h0M47.1 312.1h0M53.0 308.4h0M68.5 311.6h0M48.0 310.9h0M57.0 307.7h0M60.5 311.7h0M71.1 291.1h0M42.4 313.6h0M67.4 305.5h0M62.3 308.7h0M85.5 313.1h0M58.9 305.6h0M70.0 299.3h0M85.9 319.7h0M48.2 313.4h0M77.3 295.0h0M48.9 311.7h0M80.7 305.3h0M66.2 301.5h0M82.3 314.0h0M84.4 315.9h0M67.5 302.9h0M52.1 312.1h0M81.5 305.1h0M84.9 317.8h0M68.1 302.7h0M83.9 311.0h0M51.4 313.1h0M46.3 313.9h0M65.4 310.1h0M45.1 314.9h0M70.9 296.9h0M43.9 313.4h0M85.1 316.9h0M63.7 304.5h0M39.1 313.5h0M75.2 295.7h0M54.5 310.3h0M83.1 314.7h0M41.9 313.7h0M83.7 315.5h0M47.0 312.5h0M75.9 302.7h0M69.7 311.4h0M47.6 311.3h0M72.8 311.2h0M42.3 315.7h0M57.9 310.9h0M46.2 314.6h0M69.0 296.7h0M68.4 298.2h0M44.1 312.5h0M55.5 306.0h0M66.7 306.0h0M81.9 302.7h0M44.6 313.5h0M42.1 314.3h0M48.8 309.9h0M55.1 312.7h0M80.6 312.9h0M50.9 310.8h0M40.7 313.4h0M72.4 311.0h0M67.8 311.2h0M63.5 311.6h0M51.5 311.2h0M64.1 306.7h0M82.5 312.5h0M54.8 312.2h0M73.4 306.3h0M48.2 313.6h0M58.2 305.5h0M59.0 305.6h0M60.6 308.1h0M50.3 311.8h0M72.8 311.3h0M59.8 311.1h0M52.0 311.9h0M47.5 311.4h0M39.9 317.5h0M50.7 313.0h0M78.1 302.6h0M80.6 312.9h0M47.0 313.4h0M62.4 304.5h0M78.1 298.2h0M38.8 318.9h0M54.2 310.9h0M38.3 318.2h0M73.5 275.5h0M74.2 283.5h0M74.8 286.5h0M71.6 292.3h0M72.9 298.0h0M60.3 299.5h0M65.0 297.3h0M69.0 301.0h0M44.5 306.0h0M58.0 303.5h0" stroke="#c5246a" stroke-width="1.05" stroke-linecap="round" fill="none"/>
<line x1="32.10" y1="197.00" x2="32.10" y2="344.20" stroke="#444" stroke-width="1.4" />
<line x1="31.50" y1="343.80" x2="153.00" y2="343.80" stroke="#444" stroke-width="1.3" />
<line x1="29.50" y1="337.50" x2="32.00" y2="337.50" stroke="#333" stroke-width="0.8" />
<text x="26.40" y="340.00" font-size="7.0" fill="#333" text-anchor="end" font-weight="normal" >0</text>
<line x1="29.50" y1="306.90" x2="32.00" y2="306.90" stroke="#333" stroke-width="0.8" />
<text x="26.40" y="309.40" font-size="7.0" fill="#333" text-anchor="end" font-weight="normal" >5</text>
<line x1="29.50" y1="276.30" x2="32.00" y2="276.30" stroke="#333" stroke-width="0.8" />
<text x="26.40" y="278.80" font-size="7.0" fill="#333" text-anchor="end" font-weight="normal" >10</text>
<line x1="29.50" y1="245.70" x2="32.00" y2="245.70" stroke="#333" stroke-width="0.8" />
<text x="26.40" y="248.20" font-size="7.0" fill="#333" text-anchor="end" font-weight="normal" >15</text>
<line x1="29.50" y1="215.10" x2="32.00" y2="215.10" stroke="#333" stroke-width="0.8" />
<text x="26.40" y="217.60" font-size="7.0" fill="#333" text-anchor="end" font-weight="normal" >20</text>
<line x1="60.00" y1="343.80" x2="60.00" y2="346.30" stroke="#333" stroke-width="0.8" />
<text x="60.00" y="356.30" font-size="6.8" fill="#333" text-anchor="middle" font-weight="normal" >-2.5</text>
<line x1="92.50" y1="343.80" x2="92.50" y2="346.30" stroke="#333" stroke-width="0.8" />
<text x="92.50" y="356.30" font-size="6.8" fill="#333" text-anchor="middle" font-weight="normal" >0.0</text>
<line x1="125.00" y1="343.80" x2="125.00" y2="346.30" stroke="#333" stroke-width="0.8" />
<text x="125.00" y="356.30" font-size="6.8" fill="#333" text-anchor="middle" font-weight="normal" >2.5</text>
<text x="92.30" y="367.40" font-size="7.8" fill="#333" text-anchor="middle" font-weight="normal"  textLength="50.2" lengthAdjust="spacingAndGlyphs">log(OE)-log2(EV)</text>
<text x="0.00" y="0.00" font-size="7.8" fill="#333" text-anchor="middle" font-weight="normal" transform="translate(14.6,270.8) rotate(-90)" textLength="38" lengthAdjust="spacingAndGlyphs">-log10(FDR)</text>
<line x1="122.40" y1="204.60" x2="127.40" y2="209.20" stroke="#555" stroke-width="0.7" />
<text x="128.60" y="215.00" font-size="6.4" fill="#333" text-anchor="start" font-weight="normal" >ZFPM2</text>
<text x="128.40" y="223.10" font-size="6.4" fill="#333" text-anchor="start" font-weight="normal" >(FOG2)</text>
<path d="M151.7,242.9 H177.6 V240 L183.8,245.4 L177.6,250.9 V247.9 H151.7Z" fill="#8b4a1e"/>
<text x="156.00" y="263.40" font-size="6.4" fill="#333" text-anchor="start" font-weight="normal" >Legend</text>
<circle cx="159.6" cy="271.5" r="1.1" fill="#2d1580"/>
<circle cx="159.6" cy="279.6" r="1.1" fill="#c5246a"/>
<text x="165.00" y="273.80" font-size="6.4" fill="#333" text-anchor="start" font-weight="normal" >FDR&gt;0.05</text>
<text x="165.00" y="281.90" font-size="6.4" fill="#333" text-anchor="start" font-weight="normal" >FDR≤0.05</text>
<text x="206.80" y="218.20" font-size="11.5" fill="#111" text-anchor="start" font-weight="bold" >J</text>
<rect x="212.60" y="234.50" width="123.50" height="84.40" fill="#fff" stroke="#333" stroke-width="1" />
<line x1="212.60" y1="247.80" x2="336.10" y2="247.80" stroke="#333" stroke-width="0.9" />
<text x="241.30" y="244.00" font-size="6.6" fill="#333" text-anchor="middle" font-weight="normal" >Motif</text>
<text x="289.40" y="244.00" font-size="6.6" fill="#333" text-anchor="middle" font-weight="normal" >TF</text>
<text x="310.2" y="244" font-size="6.4" fill="#333" textLength="24" lengthAdjust="spacingAndGlyphs">adj <tspan font-style="italic">P</tspan>-val</text>
<text x="279.90" y="258.90" font-size="6.6" fill="#333" text-anchor="start" font-weight="normal" >GATA2</text>
<text x="313.30" y="258.90" font-size="6.6" fill="#333" text-anchor="start" font-weight="normal" >&lt; .001</text>
<text x="279.90" y="272.10" font-size="6.6" fill="#333" text-anchor="start" font-weight="normal" >GATA1</text>
<text x="313.30" y="272.10" font-size="6.6" fill="#333" text-anchor="start" font-weight="normal" >&lt; .001</text>
<text x="279.90" y="285.40" font-size="6.6" fill="#333" text-anchor="start" font-weight="normal" >GATA6</text>
<text x="313.30" y="285.40" font-size="6.6" fill="#333" text-anchor="start" font-weight="normal" >&lt; .001</text>
<text x="279.90" y="298.80" font-size="6.6" fill="#333" text-anchor="start" font-weight="normal" >GATA4</text>
<text x="313.30" y="298.80" font-size="6.6" fill="#333" text-anchor="start" font-weight="normal" >&lt; .001</text>
<text x="279.90" y="312.20" font-size="6.6" fill="#333" text-anchor="start" font-weight="normal" >GATA3</text>
<text x="313.30" y="312.20" font-size="6.6" fill="#333" text-anchor="start" font-weight="normal" >&lt; .001</text>
<text transform="translate(216.47,262.10) scale(1,0.208)" font-size="10" font-weight="bold" fill="#1f9a3a" text-anchor="middle" textLength="5.76" lengthAdjust="spacingAndGlyphs" stroke="#1f9a3a" stroke-width="0.35">A</text>
<text transform="translate(216.47,260.51) scale(1,0.278)" font-size="10" font-weight="bold" fill="#f0a42c" text-anchor="middle" textLength="5.76" lengthAdjust="spacingAndGlyphs" stroke="#f0a42c" stroke-width="0.35">G</text>
<text transform="translate(216.47,258.39) scale(1,0.417)" font-size="10" font-weight="bold" fill="#2a2190" text-anchor="middle" textLength="5.76" lengthAdjust="spacingAndGlyphs" stroke="#2a2190" stroke-width="0.35">C</text>
<text transform="translate(216.47,255.21) scale(1,0.347)" font-size="10" font-weight="bold" fill="#d4281f" text-anchor="middle" textLength="5.76" lengthAdjust="spacingAndGlyphs" stroke="#d4281f" stroke-width="0.35">T</text>
<text transform="translate(222.13,262.10) scale(1,0.833)" font-size="10" font-weight="bold" fill="#d4281f" text-anchor="middle" textLength="6.36" lengthAdjust="spacingAndGlyphs" stroke="#d4281f" stroke-width="0.35">T</text>
<text transform="translate(222.13,255.74) scale(1,0.486)" font-size="10" font-weight="bold" fill="#2a2190" text-anchor="middle" textLength="6.36" lengthAdjust="spacingAndGlyphs" stroke="#2a2190" stroke-width="0.35">C</text>
<text transform="translate(228.39,262.10) scale(1,1.389)" font-size="10" font-weight="bold" fill="#2a2190" text-anchor="middle" textLength="6.96" lengthAdjust="spacingAndGlyphs" stroke="#2a2190" stroke-width="0.35">C</text>
<text transform="translate(234.35,262.10) scale(1,1.389)" font-size="10" font-weight="bold" fill="#d4281f" text-anchor="middle" textLength="5.76" lengthAdjust="spacingAndGlyphs" stroke="#d4281f" stroke-width="0.35">T</text>
<text transform="translate(239.71,262.10) scale(1,1.389)" font-size="10" font-weight="bold" fill="#d4281f" text-anchor="middle" textLength="5.76" lengthAdjust="spacingAndGlyphs" stroke="#d4281f" stroke-width="0.35">T</text>
<text transform="translate(245.37,262.10) scale(1,1.389)" font-size="10" font-weight="bold" fill="#1f9a3a" text-anchor="middle" textLength="6.36" lengthAdjust="spacingAndGlyphs" stroke="#1f9a3a" stroke-width="0.35">A</text>
<text transform="translate(251.03,262.10) scale(1,1.389)" font-size="10" font-weight="bold" fill="#d4281f" text-anchor="middle" textLength="5.76" lengthAdjust="spacingAndGlyphs" stroke="#d4281f" stroke-width="0.35">T</text>
<text transform="translate(256.70,262.10) scale(1,1.389)" font-size="10" font-weight="bold" fill="#2a2190" text-anchor="middle" textLength="6.36" lengthAdjust="spacingAndGlyphs" stroke="#2a2190" stroke-width="0.35">C</text>
<text transform="translate(261.76,262.10) scale(1,0.208)" font-size="10" font-weight="bold" fill="#1f9a3a" text-anchor="middle" textLength="4.57" lengthAdjust="spacingAndGlyphs" stroke="#1f9a3a" stroke-width="0.35">A</text>
<text transform="translate(261.76,260.51) scale(1,1.111)" font-size="10" font-weight="bold" fill="#d4281f" text-anchor="middle" textLength="4.57" lengthAdjust="spacingAndGlyphs" stroke="#d4281f" stroke-width="0.35">T</text>
<text transform="translate(265.93,262.10) scale(1,0.208)" font-size="10" font-weight="bold" fill="#f0a42c" text-anchor="middle" textLength="4.57" lengthAdjust="spacingAndGlyphs" stroke="#f0a42c" stroke-width="0.35">G</text>
<text transform="translate(265.93,260.51) scale(1,0.347)" font-size="10" font-weight="bold" fill="#1f9a3a" text-anchor="middle" textLength="4.57" lengthAdjust="spacingAndGlyphs" stroke="#1f9a3a" stroke-width="0.35">A</text>
<text transform="translate(265.93,257.86) scale(1,0.625)" font-size="10" font-weight="bold" fill="#d4281f" text-anchor="middle" textLength="4.57" lengthAdjust="spacingAndGlyphs" stroke="#d4281f" stroke-width="0.35">T</text>
<text transform="translate(269.81,262.10) scale(1,0.486)" font-size="10" font-weight="bold" fill="#f0a42c" text-anchor="middle" textLength="3.98" lengthAdjust="spacingAndGlyphs" stroke="#f0a42c" stroke-width="0.35">G</text>
<text transform="translate(269.81,258.39) scale(1,0.208)" font-size="10" font-weight="bold" fill="#1f9a3a" text-anchor="middle" textLength="3.98" lengthAdjust="spacingAndGlyphs" stroke="#1f9a3a" stroke-width="0.35">A</text>
<text transform="translate(269.81,256.80) scale(1,0.486)" font-size="10" font-weight="bold" fill="#2a2190" text-anchor="middle" textLength="3.98" lengthAdjust="spacingAndGlyphs" stroke="#2a2190" stroke-width="0.35">C</text>
<line x1="213.80" y1="262.90" x2="272.80" y2="262.90" stroke="#555" stroke-width="0.8" />
<text transform="translate(216.77,275.80) scale(1,0.278)" font-size="10" font-weight="bold" fill="#1f9a3a" text-anchor="middle" textLength="6.36" lengthAdjust="spacingAndGlyphs" stroke="#1f9a3a" stroke-width="0.35">A</text>
<text transform="translate(216.77,273.68) scale(1,0.347)" font-size="10" font-weight="bold" fill="#f0a42c" text-anchor="middle" textLength="6.36" lengthAdjust="spacingAndGlyphs" stroke="#f0a42c" stroke-width="0.35">G</text>
<text transform="translate(216.77,271.03) scale(1,0.556)" font-size="10" font-weight="bold" fill="#2a2190" text-anchor="middle" textLength="6.36" lengthAdjust="spacingAndGlyphs" stroke="#2a2190" stroke-width="0.35">C</text>
<text transform="translate(223.32,275.80) scale(1,1.389)" font-size="10" font-weight="bold" fill="#1f9a3a" text-anchor="middle" textLength="7.55" lengthAdjust="spacingAndGlyphs" stroke="#1f9a3a" stroke-width="0.35">A</text>
<text transform="translate(230.18,275.80) scale(1,1.389)" font-size="10" font-weight="bold" fill="#f0a42c" text-anchor="middle" textLength="6.96" lengthAdjust="spacingAndGlyphs" stroke="#f0a42c" stroke-width="0.35">G</text>
<text transform="translate(236.73,275.80) scale(1,1.389)" font-size="10" font-weight="bold" fill="#1f9a3a" text-anchor="middle" textLength="6.96" lengthAdjust="spacingAndGlyphs" stroke="#1f9a3a" stroke-width="0.35">A</text>
<text transform="translate(242.69,275.80) scale(1,1.389)" font-size="10" font-weight="bold" fill="#d4281f" text-anchor="middle" textLength="5.76" lengthAdjust="spacingAndGlyphs" stroke="#d4281f" stroke-width="0.35">T</text>
<text transform="translate(248.05,275.80) scale(1,1.389)" font-size="10" font-weight="bold" fill="#1f9a3a" text-anchor="middle" textLength="5.76" lengthAdjust="spacingAndGlyphs" stroke="#1f9a3a" stroke-width="0.35">A</text>
<text transform="translate(253.42,275.80) scale(1,1.389)" font-size="10" font-weight="bold" fill="#1f9a3a" text-anchor="middle" textLength="5.76" lengthAdjust="spacingAndGlyphs" stroke="#1f9a3a" stroke-width="0.35">A</text>
<text transform="translate(258.48,275.80) scale(1,1.250)" font-size="10" font-weight="bold" fill="#f0a42c" text-anchor="middle" textLength="5.17" lengthAdjust="spacingAndGlyphs" stroke="#f0a42c" stroke-width="0.35">G</text>
<text transform="translate(263.25,275.80) scale(1,0.278)" font-size="10" font-weight="bold" fill="#2a2190" text-anchor="middle" textLength="5.17" lengthAdjust="spacingAndGlyphs" stroke="#2a2190" stroke-width="0.35">C</text>
<text transform="translate(263.25,273.68) scale(1,0.278)" font-size="10" font-weight="bold" fill="#d4281f" text-anchor="middle" textLength="5.17" lengthAdjust="spacingAndGlyphs" stroke="#d4281f" stroke-width="0.35">T</text>
<text transform="translate(263.25,271.56) scale(1,0.417)" font-size="10" font-weight="bold" fill="#f0a42c" text-anchor="middle" textLength="5.17" lengthAdjust="spacingAndGlyphs" stroke="#f0a42c" stroke-width="0.35">G</text>
<text transform="translate(263.25,268.38) scale(1,0.278)" font-size="10" font-weight="bold" fill="#1f9a3a" text-anchor="middle" textLength="5.17" lengthAdjust="spacingAndGlyphs" stroke="#1f9a3a" stroke-width="0.35">A</text>
<text transform="translate(268.62,275.80) scale(1,0.278)" font-size="10" font-weight="bold" fill="#2a2190" text-anchor="middle" textLength="6.36" lengthAdjust="spacingAndGlyphs" stroke="#2a2190" stroke-width="0.35">C</text>
<text transform="translate(268.62,273.68) scale(1,0.347)" font-size="10" font-weight="bold" fill="#f0a42c" text-anchor="middle" textLength="6.36" lengthAdjust="spacingAndGlyphs" stroke="#f0a42c" stroke-width="0.35">G</text>
<text transform="translate(268.62,271.03) scale(1,0.486)" font-size="10" font-weight="bold" fill="#1f9a3a" text-anchor="middle" textLength="6.36" lengthAdjust="spacingAndGlyphs" stroke="#1f9a3a" stroke-width="0.35">A</text>
<line x1="213.80" y1="276.60" x2="272.80" y2="276.60" stroke="#555" stroke-width="0.8" />
<text transform="translate(216.77,289.50) scale(1,0.278)" font-size="10" font-weight="bold" fill="#f0a42c" text-anchor="middle" textLength="6.36" lengthAdjust="spacingAndGlyphs" stroke="#f0a42c" stroke-width="0.35">G</text>
<text transform="translate(216.77,287.38) scale(1,0.486)" font-size="10" font-weight="bold" fill="#2a2190" text-anchor="middle" textLength="6.36" lengthAdjust="spacingAndGlyphs" stroke="#2a2190" stroke-width="0.35">C</text>
<text transform="translate(216.77,283.67) scale(1,0.417)" font-size="10" font-weight="bold" fill="#d4281f" text-anchor="middle" textLength="6.36" lengthAdjust="spacingAndGlyphs" stroke="#d4281f" stroke-width="0.35">T</text>
<text transform="translate(222.43,289.50) scale(1,1.389)" font-size="10" font-weight="bold" fill="#2a2190" text-anchor="middle" textLength="5.76" lengthAdjust="spacingAndGlyphs" stroke="#2a2190" stroke-width="0.35">C</text>
<text transform="translate(227.49,289.50) scale(1,1.389)" font-size="10" font-weight="bold" fill="#d4281f" text-anchor="middle" textLength="5.17" lengthAdjust="spacingAndGlyphs" stroke="#d4281f" stroke-width="0.35">T</text>
<text transform="translate(232.26,289.50) scale(1,1.389)" font-size="10" font-weight="bold" fill="#d4281f" text-anchor="middle" textLength="5.17" lengthAdjust="spacingAndGlyphs" stroke="#d4281f" stroke-width="0.35">T</text>
<text transform="translate(237.63,289.50) scale(1,1.389)" font-size="10" font-weight="bold" fill="#1f9a3a" text-anchor="middle" textLength="6.36" lengthAdjust="spacingAndGlyphs" stroke="#1f9a3a" stroke-width="0.35">A</text>
<text transform="translate(242.99,289.50) scale(1,1.389)" font-size="10" font-weight="bold" fill="#d4281f" text-anchor="middle" textLength="5.17" lengthAdjust="spacingAndGlyphs" stroke="#d4281f" stroke-width="0.35">T</text>
<text transform="translate(248.05,289.50) scale(1,1.389)" font-size="10" font-weight="bold" fill="#2a2190" text-anchor="middle" textLength="5.76" lengthAdjust="spacingAndGlyphs" stroke="#2a2190" stroke-width="0.35">C</text>
<text transform="translate(253.12,289.50) scale(1,0.278)" font-size="10" font-weight="bold" fill="#1f9a3a" text-anchor="middle" textLength="5.17" lengthAdjust="spacingAndGlyphs" stroke="#1f9a3a" stroke-width="0.35">A</text>
<text transform="translate(253.12,287.38) scale(1,1.042)" font-size="10" font-weight="bold" fill="#d4281f" text-anchor="middle" textLength="5.17" lengthAdjust="spacingAndGlyphs" stroke="#d4281f" stroke-width="0.35">T</text>
<text transform="translate(258.78,289.50) scale(1,0.278)" font-size="10" font-weight="bold" fill="#d4281f" text-anchor="middle" textLength="6.96" lengthAdjust="spacingAndGlyphs" stroke="#d4281f" stroke-width="0.35">T</text>
<text transform="translate(258.78,287.38) scale(1,0.347)" font-size="10" font-weight="bold" fill="#1f9a3a" text-anchor="middle" textLength="6.96" lengthAdjust="spacingAndGlyphs" stroke="#1f9a3a" stroke-width="0.35">A</text>
<text transform="translate(258.78,284.73) scale(1,0.417)" font-size="10" font-weight="bold" fill="#f0a42c" text-anchor="middle" textLength="6.96" lengthAdjust="spacingAndGlyphs" stroke="#f0a42c" stroke-width="0.35">G</text>
<text transform="translate(266.83,289.50) scale(1,0.278)" font-size="10" font-weight="bold" fill="#f0a42c" text-anchor="middle" textLength="9.94" lengthAdjust="spacingAndGlyphs" stroke="#f0a42c" stroke-width="0.35">G</text>
<text transform="translate(266.83,287.38) scale(1,0.417)" font-size="10" font-weight="bold" fill="#2a2190" text-anchor="middle" textLength="9.94" lengthAdjust="spacingAndGlyphs" stroke="#2a2190" stroke-width="0.35">C</text>
<text transform="translate(266.83,284.20) scale(1,0.486)" font-size="10" font-weight="bold" fill="#d4281f" text-anchor="middle" textLength="9.94" lengthAdjust="spacingAndGlyphs" stroke="#d4281f" stroke-width="0.35">T</text>
<line x1="213.80" y1="290.30" x2="272.80" y2="290.30" stroke="#555" stroke-width="0.8" />
<text transform="translate(216.77,303.40) scale(1,0.278)" font-size="10" font-weight="bold" fill="#d4281f" text-anchor="middle" textLength="6.36" lengthAdjust="spacingAndGlyphs" stroke="#d4281f" stroke-width="0.35">T</text>
<text transform="translate(216.77,301.28) scale(1,0.278)" font-size="10" font-weight="bold" fill="#1f9a3a" text-anchor="middle" textLength="6.36" lengthAdjust="spacingAndGlyphs" stroke="#1f9a3a" stroke-width="0.35">A</text>
<text transform="translate(216.77,299.16) scale(1,0.278)" font-size="10" font-weight="bold" fill="#f0a42c" text-anchor="middle" textLength="6.36" lengthAdjust="spacingAndGlyphs" stroke="#f0a42c" stroke-width="0.35">G</text>
<text transform="translate(216.77,297.04) scale(1,0.417)" font-size="10" font-weight="bold" fill="#2a2190" text-anchor="middle" textLength="6.36" lengthAdjust="spacingAndGlyphs" stroke="#2a2190" stroke-width="0.35">C</text>
<text transform="translate(223.03,303.40) scale(1,0.347)" font-size="10" font-weight="bold" fill="#1f9a3a" text-anchor="middle" textLength="6.96" lengthAdjust="spacingAndGlyphs" stroke="#1f9a3a" stroke-width="0.35">A</text>
<text transform="translate(223.03,300.75) scale(1,0.278)" font-size="10" font-weight="bold" fill="#d4281f" text-anchor="middle" textLength="6.96" lengthAdjust="spacingAndGlyphs" stroke="#d4281f" stroke-width="0.35">T</text>
<text transform="translate(223.03,298.63) scale(1,0.486)" font-size="10" font-weight="bold" fill="#2a2190" text-anchor="middle" textLength="6.96" lengthAdjust="spacingAndGlyphs" stroke="#2a2190" stroke-width="0.35">C</text>
<text transform="translate(229.28,303.40) scale(1,1.389)" font-size="10" font-weight="bold" fill="#1f9a3a" text-anchor="middle" textLength="6.36" lengthAdjust="spacingAndGlyphs" stroke="#1f9a3a" stroke-width="0.35">A</text>
<text transform="translate(234.94,303.40) scale(1,1.389)" font-size="10" font-weight="bold" fill="#f0a42c" text-anchor="middle" textLength="5.76" lengthAdjust="spacingAndGlyphs" stroke="#f0a42c" stroke-width="0.35">G</text>
<text transform="translate(240.61,303.40) scale(1,1.389)" font-size="10" font-weight="bold" fill="#1f9a3a" text-anchor="middle" textLength="6.36" lengthAdjust="spacingAndGlyphs" stroke="#1f9a3a" stroke-width="0.35">A</text>
<text transform="translate(245.97,303.40) scale(1,1.389)" font-size="10" font-weight="bold" fill="#d4281f" text-anchor="middle" textLength="5.17" lengthAdjust="spacingAndGlyphs" stroke="#d4281f" stroke-width="0.35">T</text>
<text transform="translate(251.03,303.40) scale(1,1.389)" font-size="10" font-weight="bold" fill="#1f9a3a" text-anchor="middle" textLength="5.76" lengthAdjust="spacingAndGlyphs" stroke="#1f9a3a" stroke-width="0.35">A</text>
<text transform="translate(256.70,303.40) scale(1,1.389)" font-size="10" font-weight="bold" fill="#1f9a3a" text-anchor="middle" textLength="6.36" lengthAdjust="spacingAndGlyphs" stroke="#1f9a3a" stroke-width="0.35">A</text>
<text transform="translate(262.06,303.40) scale(1,0.347)" font-size="10" font-weight="bold" fill="#2a2190" text-anchor="middle" textLength="5.17" lengthAdjust="spacingAndGlyphs" stroke="#2a2190" stroke-width="0.35">C</text>
<text transform="translate(262.06,300.75) scale(1,0.833)" font-size="10" font-weight="bold" fill="#f0a42c" text-anchor="middle" textLength="5.17" lengthAdjust="spacingAndGlyphs" stroke="#f0a42c" stroke-width="0.35">G</text>
<text transform="translate(268.02,303.40) scale(1,0.278)" font-size="10" font-weight="bold" fill="#2a2190" text-anchor="middle" textLength="7.55" lengthAdjust="spacingAndGlyphs" stroke="#2a2190" stroke-width="0.35">C</text>
<text transform="translate(268.02,301.28) scale(1,0.417)" font-size="10" font-weight="bold" fill="#f0a42c" text-anchor="middle" textLength="7.55" lengthAdjust="spacingAndGlyphs" stroke="#f0a42c" stroke-width="0.35">G</text>
<text transform="translate(268.02,298.10) scale(1,0.556)" font-size="10" font-weight="bold" fill="#1f9a3a" text-anchor="middle" textLength="7.55" lengthAdjust="spacingAndGlyphs" stroke="#1f9a3a" stroke-width="0.35">A</text>
<line x1="213.80" y1="304.20" x2="272.80" y2="304.20" stroke="#555" stroke-width="0.8" />
<text transform="translate(216.77,316.60) scale(1,1.389)" font-size="10" font-weight="bold" fill="#1f9a3a" text-anchor="middle" textLength="6.36" lengthAdjust="spacingAndGlyphs" stroke="#1f9a3a" stroke-width="0.35">A</text>
<text transform="translate(222.43,316.60) scale(1,1.389)" font-size="10" font-weight="bold" fill="#f0a42c" text-anchor="middle" textLength="5.76" lengthAdjust="spacingAndGlyphs" stroke="#f0a42c" stroke-width="0.35">G</text>
<text transform="translate(228.09,316.60) scale(1,1.389)" font-size="10" font-weight="bold" fill="#1f9a3a" text-anchor="middle" textLength="6.36" lengthAdjust="spacingAndGlyphs" stroke="#1f9a3a" stroke-width="0.35">A</text>
<text transform="translate(233.75,316.60) scale(1,1.389)" font-size="10" font-weight="bold" fill="#d4281f" text-anchor="middle" textLength="5.76" lengthAdjust="spacingAndGlyphs" stroke="#d4281f" stroke-width="0.35">T</text>
<text transform="translate(239.41,316.60) scale(1,1.389)" font-size="10" font-weight="bold" fill="#1f9a3a" text-anchor="middle" textLength="6.36" lengthAdjust="spacingAndGlyphs" stroke="#1f9a3a" stroke-width="0.35">A</text>
<text transform="translate(245.08,316.60) scale(1,1.389)" font-size="10" font-weight="bold" fill="#1f9a3a" text-anchor="middle" textLength="5.76" lengthAdjust="spacingAndGlyphs" stroke="#1f9a3a" stroke-width="0.35">A</text>
<text transform="translate(250.44,316.60) scale(1,0.417)" font-size="10" font-weight="bold" fill="#f0a42c" text-anchor="middle" textLength="5.76" lengthAdjust="spacingAndGlyphs" stroke="#f0a42c" stroke-width="0.35">G</text>
<text transform="translate(250.44,313.42) scale(1,0.278)" font-size="10" font-weight="bold" fill="#1f9a3a" text-anchor="middle" textLength="5.76" lengthAdjust="spacingAndGlyphs" stroke="#1f9a3a" stroke-width="0.35">A</text>
<text transform="translate(250.44,311.30) scale(1,0.556)" font-size="10" font-weight="bold" fill="#2a2190" text-anchor="middle" textLength="5.76" lengthAdjust="spacingAndGlyphs" stroke="#2a2190" stroke-width="0.35">C</text>
<text transform="translate(256.10,316.60) scale(1,0.208)" font-size="10" font-weight="bold" fill="#2a2190" text-anchor="middle" textLength="6.36" lengthAdjust="spacingAndGlyphs" stroke="#2a2190" stroke-width="0.35">C</text>
<text transform="translate(256.10,315.01) scale(1,0.486)" font-size="10" font-weight="bold" fill="#f0a42c" text-anchor="middle" textLength="6.36" lengthAdjust="spacingAndGlyphs" stroke="#f0a42c" stroke-width="0.35">G</text>
<text transform="translate(256.10,311.30) scale(1,0.486)" font-size="10" font-weight="bold" fill="#1f9a3a" text-anchor="middle" textLength="6.36" lengthAdjust="spacingAndGlyphs" stroke="#1f9a3a" stroke-width="0.35">A</text>
<text x="90.60" y="403.20" font-size="11.5" fill="#111" text-anchor="start" font-weight="bold" >K</text>
<rect x="90.50" y="420.30" width="247.00" height="6.80" fill="#8abdd0" stroke="#80b0c4" stroke-width="0.4" />
<text x="93.60" y="426.00" font-size="6.4" fill="#1d2c48" text-anchor="start" font-weight="normal" >Metabolism Of RNA</text>
<rect x="90.50" y="429.05" width="124.50" height="6.80" fill="#8abdd0" stroke="#80b0c4" stroke-width="0.4" />
<text x="93.60" y="434.75" font-size="6.4" fill="#1d2c48" text-anchor="start" font-weight="normal" >Gene Expression (Transcription)</text>
<rect x="90.50" y="437.80" width="103.70" height="6.80" fill="#8abdd0" stroke="#80b0c4" stroke-width="0.4" />
<text x="93.60" y="443.50" font-size="6.4" fill="#1d2c48" text-anchor="start" font-weight="normal" >RNA Polymerase II Transcription</text>
<rect x="90.50" y="446.55" width="99.50" height="6.80" fill="#8abdd0" stroke="#80b0c4" stroke-width="0.4" />
<text x="93.60" y="452.25" font-size="6.4" fill="#1d2c48" text-anchor="start" font-weight="normal" >Cell Cycle, Mitotic</text>
<rect x="90.50" y="455.30" width="99.50" height="6.80" fill="#8abdd0" stroke="#80b0c4" stroke-width="0.4" />
<text x="93.60" y="461.00" font-size="6.4" fill="#1d2c48" text-anchor="start" font-weight="normal" >Cell Cycle</text>
<rect x="90.50" y="464.05" width="98.30" height="6.80" fill="#8abdd0" stroke="#80b0c4" stroke-width="0.4" />
<text x="93.60" y="469.75" font-size="6.4" fill="#1d2c48" text-anchor="start" font-weight="normal" >Separation Of Sister Chromatids</text>
<rect x="90.50" y="472.80" width="96.40" height="6.80" fill="#8abdd0" stroke="#80b0c4" stroke-width="0.4" />
<text x="93.60" y="478.50" font-size="6.4" fill="#1d2c48" text-anchor="start" font-weight="normal" >rRNA Processing</text>
<rect x="90.50" y="481.55" width="96.40" height="6.80" fill="#8abdd0" stroke="#80b0c4" stroke-width="0.4" />
<text x="93.60" y="487.25" font-size="6.4" fill="#1d2c48" text-anchor="start" font-weight="normal" >Mitotic Prometaphase</text>
<rect x="90.50" y="490.30" width="86.30" height="6.80" fill="#8abdd0" stroke="#80b0c4" stroke-width="0.4" />
<text x="93.60" y="496.00" font-size="6.4" fill="#1d2c48" text-anchor="start" font-weight="normal" >Cell Cycle Checkpoints</text>
<line x1="90.30" y1="503.90" x2="327.50" y2="503.90" stroke="#222" stroke-width="1" />
<line x1="90.50" y1="503.90" x2="90.50" y2="506.40" stroke="#222" stroke-width="0.8" />
<text x="90.50" y="514.30" font-size="6.6" fill="#333" text-anchor="middle" font-weight="normal" >0</text>
<line x1="119.75" y1="503.90" x2="119.75" y2="506.40" stroke="#222" stroke-width="0.8" />
<text x="119.75" y="514.30" font-size="6.6" fill="#333" text-anchor="middle" font-weight="normal" >2</text>
<line x1="149.00" y1="503.90" x2="149.00" y2="506.40" stroke="#222" stroke-width="0.8" />
<text x="149.00" y="514.30" font-size="6.6" fill="#333" text-anchor="middle" font-weight="normal" >4</text>
<line x1="178.25" y1="503.90" x2="178.25" y2="506.40" stroke="#222" stroke-width="0.8" />
<text x="178.25" y="514.30" font-size="6.6" fill="#333" text-anchor="middle" font-weight="normal" >6</text>
<line x1="207.50" y1="503.90" x2="207.50" y2="506.40" stroke="#222" stroke-width="0.8" />
<text x="207.50" y="514.30" font-size="6.6" fill="#333" text-anchor="middle" font-weight="normal" >8</text>
<line x1="236.75" y1="503.90" x2="236.75" y2="506.40" stroke="#222" stroke-width="0.8" />
<text x="236.75" y="514.30" font-size="6.6" fill="#333" text-anchor="middle" font-weight="normal" >10</text>
<line x1="266.00" y1="503.90" x2="266.00" y2="506.40" stroke="#222" stroke-width="0.8" />
<text x="266.00" y="514.30" font-size="6.6" fill="#333" text-anchor="middle" font-weight="normal" >12</text>
<line x1="295.25" y1="503.90" x2="295.25" y2="506.40" stroke="#222" stroke-width="0.8" />
<text x="295.25" y="514.30" font-size="6.6" fill="#333" text-anchor="middle" font-weight="normal" >14</text>
<line x1="324.50" y1="503.90" x2="324.50" y2="506.40" stroke="#222" stroke-width="0.8" />
<text x="324.50" y="514.30" font-size="6.6" fill="#333" text-anchor="middle" font-weight="normal" >16</text>
<text x="207.6" y="526.4" font-size="7.2" fill="#333" text-anchor="middle">-log(<tspan font-style="italic">P</tspan>)</text>
<text x="358.20" y="403.20" font-size="11.5" fill="#111" text-anchor="start" font-weight="bold" >M</text>
<line x1="380.30" y1="423.60" x2="380.30" y2="504.40" stroke="#222" stroke-width="1.1" />
<line x1="379.80" y1="504.00" x2="442.70" y2="504.00" stroke="#222" stroke-width="1.1" />
<line x1="377.40" y1="503.70" x2="380.30" y2="503.70" stroke="#222" stroke-width="0.8" />
<text x="375.80" y="506.00" font-size="6.6" fill="#333" text-anchor="end" font-weight="normal" >0</text>
<line x1="377.40" y1="487.98" x2="380.30" y2="487.98" stroke="#222" stroke-width="0.8" />
<text x="375.80" y="490.28" font-size="6.6" fill="#333" text-anchor="end" font-weight="normal" >1</text>
<line x1="377.40" y1="472.26" x2="380.30" y2="472.26" stroke="#222" stroke-width="0.8" />
<text x="375.80" y="474.56" font-size="6.6" fill="#333" text-anchor="end" font-weight="normal" >2</text>
<line x1="377.40" y1="456.54" x2="380.30" y2="456.54" stroke="#222" stroke-width="0.8" />
<text x="375.80" y="458.84" font-size="6.6" fill="#333" text-anchor="end" font-weight="normal" >3</text>
<line x1="377.40" y1="440.82" x2="380.30" y2="440.82" stroke="#222" stroke-width="0.8" />
<text x="375.80" y="443.12" font-size="6.6" fill="#333" text-anchor="end" font-weight="normal" >4</text>
<line x1="377.40" y1="425.10" x2="380.30" y2="425.10" stroke="#222" stroke-width="0.8" />
<text x="375.80" y="427.40" font-size="6.6" fill="#333" text-anchor="end" font-weight="normal" >5</text>
<line x1="392.50" y1="504.00" x2="392.50" y2="506.40" stroke="#222" stroke-width="0.8" />
<line x1="411.60" y1="504.00" x2="411.60" y2="506.40" stroke="#222" stroke-width="0.8" />
<line x1="430.80" y1="504.00" x2="430.80" y2="506.40" stroke="#222" stroke-width="0.8" />
<rect x="387.00" y="490.02" width="11.20" height="13.68" fill="#5a9e34" stroke="#3f7a22" stroke-width="0.6" />
<rect x="406.20" y="451.35" width="10.90" height="52.35" fill="#8c1429" stroke="#6a0c1c" stroke-width="0.6" />
<rect x="425.30" y="496.63" width="11.00" height="7.07" fill="#6a9bd6" stroke="#4a7ab8" stroke-width="0.6" />
<line x1="392.60" y1="486.41" x2="392.60" y2="492.70" stroke="#111" stroke-width="0.9" />
<line x1="390.40" y1="486.41" x2="394.80" y2="486.41" stroke="#111" stroke-width="0.9" />
<line x1="411.60" y1="431.39" x2="411.60" y2="470.69" stroke="#111" stroke-width="0.9" />
<line x1="409.40" y1="431.39" x2="413.80" y2="431.39" stroke="#111" stroke-width="0.9" />
<line x1="430.80" y1="491.91" x2="430.80" y2="499.30" stroke="#111" stroke-width="0.9" />
<line x1="428.60" y1="491.91" x2="433.00" y2="491.91" stroke="#111" stroke-width="0.9" />
<circle cx="390.0" cy="488.77" r="1.15" fill="#111"/>
<circle cx="395.0" cy="489.55" r="1.15" fill="#111"/>
<circle cx="392.6" cy="491.91" r="1.15" fill="#111"/>
<circle cx="409.6" cy="440.03" r="1.15" fill="#111"/>
<circle cx="413.8" cy="440.03" r="1.15" fill="#111"/>
<circle cx="411.6" cy="472.26" r="1.15" fill="#111"/>
<circle cx="429.0" cy="496.63" r="1.15" fill="#111"/>
<circle cx="432.6" cy="496.15" r="1.15" fill="#111"/>
<circle cx="430.8" cy="498.04" r="1.15" fill="#111"/>
<path d="M392.5,475.8 V423.0 H411.7 V426.8" fill="none" stroke="#222" stroke-width="0.9"/>
<path d="M411.7,414.9 V408.0 H431 V422.5" fill="none" stroke="#222" stroke-width="0.9"/>
<text x="402.20" y="423.60" font-size="6.8" fill="#333" text-anchor="middle" font-weight="normal" >*</text>
<text x="421.20" y="408.50" font-size="6.8" fill="#333" text-anchor="middle" font-weight="normal" >*</text>
<text x="0.00" y="0.00" font-size="7.2" fill="#333" text-anchor="middle" font-weight="normal" transform="translate(365.0,463.3) rotate(-90)" textLength="51.5" lengthAdjust="spacingAndGlyphs">BGLT3 expression</text>
<text x="0.00" y="0.00" font-size="6.3" fill="#222" text-anchor="end" font-weight="normal" transform="translate(396.0,511.6) rotate(-45)">EV</text>
<text x="0.00" y="0.00" font-size="6.3" fill="#222" text-anchor="end" font-weight="normal" transform="translate(412.2,511.6) rotate(-45)">HEXIM1 OE</text>
<text x="0.00" y="0.00" font-size="6.3" fill="#222" text-anchor="end" font-weight="normal" transform="translate(431.4,511.6) rotate(-45)">Y271A OE</text>
<text x="8.30" y="552.20" font-size="11.5" fill="#111" text-anchor="start" font-weight="bold" >L</text>
<text x="176.60" y="547.50" font-size="6.8" fill="#333" text-anchor="middle" font-weight="normal" >LCR</text>
<rect x="136.30" y="562.30" width="255.40" height="4.10" fill="#dde2f2" stroke="#b0bcdc" stroke-width="0.8" />
<rect x="147.00" y="555.00" width="6.80" height="18.80" fill="#f6cf9f" stroke="#d6a56c" stroke-width="0.7" />
<rect x="160.00" y="555.00" width="6.80" height="18.80" fill="#f6cf9f" stroke="#d6a56c" stroke-width="0.7" />
<rect x="173.00" y="555.00" width="6.80" height="18.80" fill="#f6cf9f" stroke="#d6a56c" stroke-width="0.7" />
<rect x="186.00" y="555.00" width="6.80" height="18.80" fill="#f6cf9f" stroke="#d6a56c" stroke-width="0.7" />
<rect x="199.00" y="555.00" width="6.80" height="18.80" fill="#f6cf9f" stroke="#d6a56c" stroke-width="0.7" />
<rect x="231.6" y="553.2" width="11.20" height="22.00" rx="3.2" fill="#dae8f6" stroke="#8aa8cc" stroke-width="1.1"/>
<text x="237.20" y="566.30" font-size="7.0" fill="#3c4050" text-anchor="middle">ε</text>
<rect x="261.2" y="553.2" width="10.20" height="22.00" rx="3.2" fill="#e7efd2" stroke="#a8b98a" stroke-width="1.1"/>
<text x="266.30" y="566.30" font-size="7.0" fill="#4a4a30" text-anchor="middle">G<tspan font-size="5" dy="1">γ</tspan></text>
<rect x="280.2" y="553.2" width="10.40" height="22.00" rx="3.2" fill="#e7efd2" stroke="#a8b98a" stroke-width="1.1"/>
<text x="285.40" y="566.30" font-size="7.0" fill="#4a4a30" text-anchor="middle">A<tspan font-size="5" dy="1">γ</tspan></text>
<rect x="304.3" y="559.5" width="25.7" height="10" rx="2.2" fill="#a4441c"/>
<text x="317.20" y="566.60" font-size="5.6" fill="#fbe9dc" text-anchor="middle" font-weight="normal" >BGLT3</text>
<rect x="349.3" y="553.2" width="10.70" height="22.00" rx="3.2" fill="#4c3f9e" stroke="#3a2f86" stroke-width="1.1"/>
<text x="354.65" y="566.30" font-size="7.0" fill="#e8e4ff" text-anchor="middle">δ</text>
<rect x="369.6" y="553.2" width="10.90" height="22.00" rx="3.2" fill="#7b44a6" stroke="#5e2f88" stroke-width="1.1"/>
<text x="375.05" y="566.30" font-size="7.0" fill="#f0e4ff" text-anchor="middle">β</text>
<line x1="193.00" y1="582.40" x2="131.30" y2="610.50" stroke="#222" stroke-width="0.9" stroke-dasharray="1.1,1.1"/>
<line x1="332.50" y1="581.20" x2="392.50" y2="610.50" stroke="#222" stroke-width="0.9" stroke-dasharray="1.1,1.1"/>
<rect x="24.30" y="613.70" width="487.20" height="67.40" fill="#f8f8f8" stroke="#7c7cab" stroke-width="1" />
<line x1="140.00" y1="613.70" x2="140.00" y2="681.10" stroke="#7c7cab" stroke-width="0.9" />
<line x1="252.60" y1="613.70" x2="252.60" y2="681.10" stroke="#7c7cab" stroke-width="0.9" />
<line x1="337.60" y1="613.70" x2="337.60" y2="681.10" stroke="#7c7cab" stroke-width="0.9" />
<line x1="24.80" y1="630.30" x2="511.00" y2="630.30" stroke="#9a9a86" stroke-width="0.8" />
<line x1="24.80" y1="647.60" x2="511.00" y2="647.60" stroke="#9a9a86" stroke-width="0.8" />
<line x1="172.00" y1="664.50" x2="225.00" y2="664.50" stroke="#c8c8c0" stroke-width="0.8" />
<path d="M25.00,630.00 L25.00,630.00 L25.50,630.00 L26.00,630.00 L26.50,630.00 L27.00,630.00 L27.50,630.00 L28.00,630.00 L28.50,630.00 L29.00,630.00 L29.50,630.00 L30.00,630.00 L30.50,630.00 L31.00,630.00 L31.50,630.00 L32.00,630.00 L32.50,630.00 L33.00,630.00 L33.50,630.00 L34.00,630.00 L34.50,630.00 L35.00,630.00 L35.50,630.00 L36.00,630.00 L36.50,630.00 L37.00,630.00 L37.50,630.00 L38.00,630.00 L38.50,630.00 L39.00,630.00 L39.50,630.00 L40.00,630.00 L40.50,630.00 L41.00,630.00 L41.50,630.00 L42.00,630.00 L42.50,630.00 L43.00,630.00 L43.50,630.00 L44.00,630.00 L44.50,630.00 L45.00,630.00 L45.50,630.00 L46.00,630.00 L46.50,630.00 L47.00,630.00 L47.50,630.00 L48.00,630.00 L48.50,629.92 L49.00,629.84 L49.50,629.75 L50.00,629.67 L50.50,629.59 L51.00,629.48 L51.50,629.33 L52.00,629.14 L52.50,628.92 L53.00,628.72 L53.50,628.52 L54.00,628.37 L54.50,628.63 L55.00,628.72 L55.50,628.90 L56.00,629.11 L56.50,629.29 L57.00,629.50 L57.50,629.42 L58.00,629.33 L58.50,629.28 L59.00,629.15 L59.50,629.04 L60.00,629.04 L60.50,629.09 L61.00,629.21 L61.50,629.38 L62.00,629.50 L62.50,629.58 L63.00,629.71 L63.50,629.70 L64.00,629.68 L64.50,629.66 L65.00,629.65 L65.50,629.65 L66.00,629.65 L66.50,629.65 L67.00,629.64 L67.50,629.62 L68.00,629.60 L68.50,629.36 L69.00,629.18 L69.50,628.94 L70.00,628.63 L70.50,628.49 L71.00,628.21 L71.50,628.00 L72.00,627.76 L72.50,627.66 L73.00,627.49 L73.50,627.29 L74.00,627.31 L74.50,626.94 L75.00,626.76 L75.50,626.93 L76.00,626.72 L76.50,626.63 L77.00,626.62 L77.50,626.53 L78.00,626.24 L78.50,626.40 L79.00,626.35 L79.50,625.87 L80.00,626.05 L80.50,625.96 L81.00,625.96 L81.50,626.00 L82.00,625.92 L82.50,626.03 L83.00,625.81 L83.50,625.95 L84.00,625.98 L84.50,626.04 L85.00,626.04 L85.50,625.90 L86.00,626.16 L86.50,626.09 L87.00,626.44 L87.50,626.60 L88.00,626.51 L88.50,626.95 L89.00,626.89 L89.50,627.34 L90.00,627.60 L90.50,627.83 L91.00,628.05 L91.50,628.04 L92.00,628.16 L92.50,628.39 L93.00,628.58 L93.50,628.75 L94.00,628.86 L94.50,628.34 L95.00,627.76 L95.50,627.26 L96.00,626.66 L96.50,626.27 L97.00,626.09 L97.50,625.54 L98.00,625.62 L98.50,625.95 L99.00,626.66 L99.50,626.83 L100.00,627.93 L100.50,628.58 L101.00,629.41 L101.50,629.40 L102.00,629.47 L102.50,629.44 L103.00,629.52 L103.50,629.50 L104.00,629.52 L104.50,629.56 L105.00,629.59 L105.50,629.61 L106.00,629.62 L106.50,629.66 L107.00,629.68 L107.50,629.68 L108.00,629.71 L108.50,629.74 L109.00,629.75 L109.50,629.77 L110.00,629.81 L110.50,629.63 L111.00,629.46 L111.50,629.33 L112.00,629.15 L112.50,628.92 L113.00,628.79 L113.50,628.45 L114.00,628.03 L114.50,627.61 L115.00,627.13 L115.50,626.66 L116.00,626.58 L116.50,626.36 L117.00,625.93 L117.50,625.90 L118.00,625.59 L118.50,625.38 L119.00,625.15 L119.50,624.57 L120.00,624.67 L120.50,624.02 L121.00,623.38 L121.50,623.68 L122.00,622.85 L122.50,622.66 L123.00,622.70 L123.50,621.74 L124.00,621.69 L124.50,621.80 L125.00,621.04 L125.50,621.62 L126.00,621.22 L126.50,621.59 L127.00,622.64 L127.50,622.27 L128.00,622.76 L128.50,623.70 L129.00,625.13 L129.50,625.89 L130.00,626.90 L130.50,627.67 L131.00,628.35 L131.50,628.94 L132.00,629.50 L132.50,629.53 L133.00,629.59 L133.50,629.60 L134.00,629.66 L134.50,629.68 L135.00,629.71 L135.50,629.76 L136.00,629.80 L136.50,629.81 L137.00,629.85 L137.50,629.89 L138.00,629.93 L138.50,629.96 L139.00,630.00 L139.50,630.00 L139.50,630.00Z" fill="#55621a"/>
<path d="M140.60,630.00 L140.60,630.00 L141.10,630.00 L141.60,630.00 L142.10,630.00 L142.60,630.00 L143.10,630.00 L143.60,630.00 L144.10,630.00 L144.60,630.00 L145.10,630.00 L145.60,630.00 L146.10,630.00 L146.60,630.00 L147.10,630.00 L147.60,630.00 L148.10,630.00 L148.60,630.00 L149.10,630.00 L149.60,630.00 L150.10,630.00 L150.60,630.00 L151.10,630.00 L151.60,630.00 L152.10,630.00 L152.60,630.00 L153.10,630.00 L153.60,630.00 L154.10,630.00 L154.60,630.00 L155.10,630.00 L155.60,630.00 L156.10,630.00 L156.60,630.00 L157.10,630.00 L157.60,630.00 L158.10,630.00 L158.60,630.00 L159.10,630.00 L159.60,630.00 L160.10,630.00 L160.60,630.00 L161.10,630.00 L161.60,630.00 L162.10,630.00 L162.60,630.00 L163.10,630.00 L163.60,630.00 L164.10,630.00 L164.60,630.00 L165.10,630.00 L165.60,630.00 L166.10,630.00 L166.60,630.00 L167.10,630.00 L167.60,630.00 L168.10,630.00 L168.60,630.00 L169.10,630.00 L169.60,630.00 L170.10,630.00 L170.60,630.00 L171.10,630.00 L171.60,630.00 L172.10,629.98 L172.60,629.87 L173.10,629.77 L173.60,629.67 L174.10,629.59 L174.60,629.51 L175.10,629.43 L175.60,629.27 L176.10,629.10 L176.60,628.95 L177.10,628.87 L177.60,628.54 L178.10,628.53 L178.60,628.41 L179.10,628.11 L179.60,627.96 L180.10,627.93 L180.60,627.52 L181.10,627.66 L181.60,627.52 L182.10,627.57 L182.60,627.49 L183.10,626.98 L183.60,626.86 L184.10,626.93 L184.60,627.13 L185.10,627.02 L185.60,626.95 L186.10,626.94 L186.60,626.45 L187.10,626.56 L187.60,626.73 L188.10,626.53 L188.60,626.41 L189.10,626.36 L189.60,626.35 L190.10,626.56 L190.60,626.16 L191.10,626.56 L191.60,626.34 L192.10,626.17 L192.60,626.59 L193.10,626.69 L193.60,626.18 L194.10,626.40 L194.60,626.73 L195.10,626.52 L195.60,626.87 L196.10,626.55 L196.60,627.07 L197.10,627.14 L197.60,627.19 L198.10,627.12 L198.60,627.12 L199.10,627.50 L199.60,627.40 L200.10,627.66 L200.60,627.79 L201.10,627.87 L201.60,628.16 L202.10,628.17 L202.60,628.42 L203.10,628.61 L203.60,628.65 L204.10,628.82 L204.60,629.00 L205.10,628.95 L205.60,629.08 L206.10,629.23 L206.60,629.29 L207.10,629.40 L207.60,629.56 L208.10,629.63 L208.60,629.64 L209.10,629.68 L209.60,629.70 L210.10,629.75 L210.60,629.79 L211.10,629.81 L211.60,629.83 L212.10,629.88 L212.60,629.90 L213.10,629.94 L213.60,629.97 L214.10,630.00 L214.60,630.00 L215.10,630.00 L215.60,630.00 L216.10,630.00 L216.60,630.00 L217.10,630.00 L217.60,630.00 L218.10,630.00 L218.60,630.00 L219.10,630.00 L219.60,630.00 L220.10,630.00 L220.60,630.00 L221.10,630.00 L221.60,630.00 L222.10,630.00 L222.60,630.00 L223.10,630.00 L223.60,630.00 L224.10,630.00 L224.60,630.00 L225.10,630.00 L225.60,630.00 L226.10,630.00 L226.60,630.00 L227.10,630.00 L227.60,630.00 L228.10,630.00 L228.60,630.00 L229.10,630.00 L229.60,630.00 L230.10,630.00 L230.60,630.00 L231.10,630.00 L231.60,630.00 L232.10,630.00 L232.60,630.00 L233.10,630.00 L233.60,630.00 L234.10,630.00 L234.60,630.00 L235.10,630.00 L235.60,630.00 L236.10,630.00 L236.60,630.00 L237.10,630.00 L237.60,630.00 L238.10,630.00 L238.60,630.00 L239.10,630.00 L239.60,630.00 L240.10,630.00 L240.60,630.00 L241.10,630.00 L241.60,630.00 L242.10,630.00 L242.60,630.00 L243.10,630.00 L243.60,630.00 L244.10,630.00 L244.60,630.00 L245.10,630.00 L245.60,630.00 L246.10,630.00 L246.60,630.00 L247.10,630.00 L247.60,630.00 L248.10,630.00 L248.60,630.00 L249.10,630.00 L249.60,630.00 L250.10,630.00 L250.60,630.00 L251.10,630.00 L251.60,630.00 L252.00,630.00Z" fill="#55621a"/>
<path d="M253.20,630.00 L253.20,628.90 L253.80,628.99 L254.40,629.20 L255.00,628.81 L255.60,628.24 L256.20,628.49 L256.80,627.99 L257.40,628.32 L258.00,627.63 L258.60,627.19 L259.20,627.24 L259.80,626.46 L260.40,626.68 L261.00,623.92 L261.60,624.96 L262.20,624.71 L262.80,623.53 L263.40,623.99 L264.00,625.71 L264.60,624.03 L265.20,625.43 L265.80,624.59 L266.40,626.52 L267.00,626.12 L267.60,626.84 L268.20,624.26 L268.80,624.64 L269.40,623.59 L270.00,624.82 L270.60,622.15 L271.20,622.40 L271.80,621.62 L272.40,624.97 L273.00,620.02 L273.60,618.38 L274.20,618.96 L274.80,621.99 L275.40,622.24 L276.00,624.96 L276.60,625.43 L277.20,622.86 L277.80,624.07 L278.40,623.43 L279.00,625.92 L279.60,625.41 L280.20,624.12 L280.80,626.48 L281.40,625.33 L282.00,625.64 L282.60,626.16 L283.20,624.23 L283.80,624.33 L284.40,625.06 L285.00,623.49 L285.60,623.06 L286.20,626.51 L286.80,623.80 L287.40,626.40 L288.00,626.19 L288.60,627.41 L289.20,628.28 L289.80,628.17 L290.40,628.95 L291.00,628.58 L291.60,628.39 L292.20,628.62 L292.80,629.20 L293.40,629.09 L294.00,628.25 L294.60,628.34 L295.20,627.47 L295.80,628.08 L296.40,627.85 L297.00,628.32 L297.60,628.89 L298.20,628.69 L298.80,628.91 L299.40,628.96 L300.00,628.21 L300.60,628.24 L301.20,628.65 L301.80,628.74 L302.40,628.55 L303.00,628.41 L303.60,628.41 L304.20,628.46 L304.80,627.27 L305.40,627.97 L306.00,627.83 L306.60,627.83 L307.20,627.80 L307.80,628.03 L308.40,627.81 L309.00,627.79 L309.60,628.26 L310.20,627.91 L310.80,628.24 L311.40,627.97 L312.00,627.53 L312.60,627.30 L313.20,627.21 L313.80,626.67 L314.40,626.16 L315.00,626.34 L315.60,627.39 L316.20,627.68 L316.80,627.35 L317.40,627.49 L318.00,626.30 L318.60,626.43 L319.20,627.70 L319.80,625.89 L320.40,625.19 L321.00,625.29 L321.60,625.07 L322.20,625.39 L322.80,623.73 L323.40,624.66 L324.00,623.73 L324.60,621.46 L325.20,623.24 L325.80,619.69 L326.40,623.40 L327.00,624.80 L327.60,622.72 L328.20,624.68 L328.80,624.50 L329.40,624.47 L330.00,626.19 L330.60,626.60 L331.20,625.66 L331.80,625.52 L332.40,627.81 L333.00,628.07 L333.60,628.33 L334.20,628.63 L334.80,628.90 L335.40,628.59 L336.00,628.99 L336.60,629.16 L337.00,630.00Z" fill="#55621a"/>
<path d="M25.00,647.30 L25.00,647.30 L25.50,647.30 L26.00,647.30 L26.50,647.30 L27.00,647.30 L27.50,647.30 L28.00,647.30 L28.50,647.30 L29.00,647.30 L29.50,647.30 L30.00,647.30 L30.50,647.30 L31.00,647.30 L31.50,647.30 L32.00,647.30 L32.50,647.30 L33.00,647.30 L33.50,647.30 L34.00,647.30 L34.50,647.30 L35.00,647.30 L35.50,647.30 L36.00,647.30 L36.50,647.30 L37.00,647.30 L37.50,647.30 L38.00,647.30 L38.50,647.30 L39.00,647.30 L39.50,647.30 L40.00,647.30 L40.50,647.30 L41.00,647.30 L41.50,647.30 L42.00,647.30 L42.50,647.30 L43.00,647.30 L43.50,647.30 L44.00,647.30 L44.50,647.30 L45.00,647.30 L45.50,647.15 L46.00,647.01 L46.50,646.88 L47.00,646.72 L47.50,646.59 L48.00,646.44 L48.50,646.23 L49.00,646.07 L49.50,646.06 L50.00,645.96 L50.50,645.92 L51.00,645.86 L51.50,645.73 L52.00,645.78 L52.50,645.61 L53.00,645.58 L53.50,645.52 L54.00,645.61 L54.50,645.64 L55.00,645.70 L55.50,645.68 L56.00,645.61 L56.50,645.68 L57.00,645.74 L57.50,645.92 L58.00,645.87 L58.50,645.96 L59.00,646.06 L59.50,646.16 L60.00,646.34 L60.50,646.43 L61.00,646.47 L61.50,646.58 L62.00,646.67 L62.50,646.70 L63.00,646.67 L63.50,646.73 L64.00,646.67 L64.50,646.67 L65.00,646.71 L65.50,646.73 L66.00,646.70 L66.50,646.46 L67.00,646.27 L67.50,646.09 L68.00,645.84 L68.50,645.51 L69.00,645.45 L69.50,645.01 L70.00,644.97 L70.50,644.82 L71.00,644.68 L71.50,644.21 L72.00,644.05 L72.50,644.10 L73.00,644.02 L73.50,643.61 L74.00,643.32 L74.50,643.60 L75.00,643.19 L75.50,642.95 L76.00,643.02 L76.50,642.84 L77.00,642.58 L77.50,642.77 L78.00,642.63 L78.50,642.34 L79.00,642.34 L79.50,642.29 L80.00,642.35 L80.50,641.92 L81.00,642.26 L81.50,641.95 L82.00,641.75 L82.50,642.12 L83.00,642.40 L83.50,642.36 L84.00,642.51 L84.50,642.52 L85.00,642.60 L85.50,642.53 L86.00,642.57 L86.50,642.68 L87.00,642.71 L87.50,642.86 L88.00,643.01 L88.50,643.32 L89.00,643.32 L89.50,643.53 L90.00,643.86 L90.50,643.81 L91.00,644.04 L91.50,644.03 L92.00,644.15 L92.50,644.46 L93.00,644.52 L93.50,644.08 L94.00,643.71 L94.50,643.41 L95.00,642.99 L95.50,642.00 L96.00,641.15 L96.50,640.39 L97.00,639.21 L97.50,638.63 L98.00,637.84 L98.50,638.29 L99.00,639.18 L99.50,640.15 L100.00,640.42 L100.50,641.34 L101.00,642.71 L101.50,643.32 L102.00,644.12 L102.50,644.54 L103.00,644.80 L103.50,645.29 L104.00,645.52 L104.50,645.87 L105.00,646.35 L105.50,646.33 L106.00,646.43 L106.50,646.44 L107.00,646.48 L107.50,646.51 L108.00,646.57 L108.50,646.66 L109.00,646.68 L109.50,646.77 L110.00,646.79 L110.50,646.39 L111.00,646.00 L111.50,645.60 L112.00,645.21 L112.50,644.62 L113.00,644.45 L113.50,643.91 L114.00,643.45 L114.50,642.98 L115.00,642.16 L115.50,641.74 L116.00,641.18 L116.50,640.49 L117.00,640.34 L117.50,640.22 L118.00,639.60 L118.50,638.78 L119.00,638.07 L119.50,637.32 L120.00,637.29 L120.50,637.21 L121.00,636.31 L121.50,635.41 L122.00,635.80 L122.50,634.50 L123.00,634.09 L123.50,634.31 L124.00,634.20 L124.50,634.50 L125.00,634.89 L125.50,635.36 L126.00,634.88 L126.50,635.12 L127.00,635.12 L127.50,636.77 L128.00,637.45 L128.50,639.20 L129.00,640.51 L129.50,641.62 L130.00,642.75 L130.50,643.95 L131.00,645.18 L131.50,645.74 L132.00,646.14 L132.50,646.48 L133.00,646.91 L133.50,646.93 L134.00,646.98 L134.50,646.99 L135.00,647.02 L135.50,647.06 L136.00,647.09 L136.50,647.14 L137.00,647.17 L137.50,647.20 L138.00,647.23 L138.50,647.27 L139.00,647.30 L139.50,647.30 L139.50,647.30Z" fill="#55621a"/>
<path d="M140.60,647.30 L140.60,647.30 L141.10,647.30 L141.60,647.30 L142.10,647.30 L142.60,647.30 L143.10,647.30 L143.60,647.30 L144.10,647.30 L144.60,647.30 L145.10,647.30 L145.60,647.30 L146.10,647.30 L146.60,647.30 L147.10,647.30 L147.60,647.30 L148.10,647.30 L148.60,647.30 L149.10,647.30 L149.60,647.30 L150.10,647.30 L150.60,647.30 L151.10,647.30 L151.60,647.30 L152.10,647.30 L152.60,647.30 L153.10,647.30 L153.60,647.30 L154.10,647.30 L154.60,647.30 L155.10,647.30 L155.60,647.30 L156.10,647.30 L156.60,647.30 L157.10,647.30 L157.60,647.30 L158.10,647.30 L158.60,647.30 L159.10,647.30 L159.60,647.30 L160.10,647.30 L160.60,647.30 L161.10,647.30 L161.60,647.30 L162.10,647.30 L162.60,647.30 L163.10,647.30 L163.60,647.30 L164.10,647.30 L164.60,647.30 L165.10,647.29 L165.60,647.23 L166.10,647.17 L166.60,647.10 L167.10,647.05 L167.60,647.00 L168.10,646.92 L168.60,646.85 L169.10,646.81 L169.60,646.74 L170.10,646.67 L170.60,646.55 L171.10,646.49 L171.60,646.32 L172.10,646.11 L172.60,646.05 L173.10,645.86 L173.60,645.69 L174.10,645.79 L174.60,645.42 L175.10,645.32 L175.60,645.31 L176.10,645.07 L176.60,644.79 L177.10,644.63 L177.60,644.27 L178.10,644.30 L178.60,643.69 L179.10,643.53 L179.60,642.80 L180.10,642.38 L180.60,642.62 L181.10,641.70 L181.60,641.95 L182.10,641.34 L182.60,640.19 L183.10,640.09 L183.60,640.04 L184.10,639.52 L184.60,637.56 L185.10,637.16 L185.60,636.51 L186.10,637.08 L186.60,636.70 L187.10,635.57 L187.60,636.31 L188.10,634.89 L188.60,635.66 L189.10,635.50 L189.60,634.27 L190.10,635.21 L190.60,633.64 L191.10,634.43 L191.60,634.71 L192.10,634.77 L192.60,635.69 L193.10,634.45 L193.60,636.33 L194.10,634.83 L194.60,635.67 L195.10,635.67 L195.60,635.91 L196.10,636.41 L196.60,637.30 L197.10,637.51 L197.60,637.59 L198.10,638.61 L198.60,638.47 L199.10,639.13 L199.60,640.32 L200.10,640.59 L200.60,640.12 L201.10,640.84 L201.60,641.60 L202.10,641.60 L202.60,641.96 L203.10,642.18 L203.60,642.56 L204.10,642.43 L204.60,643.28 L205.10,642.88 L205.60,643.21 L206.10,643.61 L206.60,643.97 L207.10,644.13 L207.60,644.04 L208.10,644.24 L208.60,644.43 L209.10,644.74 L209.60,644.84 L210.10,644.80 L210.60,645.06 L211.10,645.10 L211.60,645.30 L212.10,645.35 L212.60,645.36 L213.10,645.40 L213.60,645.74 L214.10,645.76 L214.60,645.80 L215.10,645.88 L215.60,645.88 L216.10,646.02 L216.60,646.03 L217.10,646.06 L217.60,645.99 L218.10,646.15 L218.60,646.13 L219.10,646.16 L219.60,646.23 L220.10,646.32 L220.60,646.39 L221.10,646.41 L221.60,646.48 L222.10,646.53 L222.60,646.55 L223.10,646.61 L223.60,646.57 L224.10,646.62 L224.60,646.68 L225.10,646.67 L225.60,646.72 L226.10,646.70 L226.60,646.73 L227.10,646.71 L227.60,646.81 L228.10,646.80 L228.60,646.81 L229.10,646.87 L229.60,646.88 L230.10,646.90 L230.60,646.95 L231.10,646.96 L231.60,646.96 L232.10,646.98 L232.60,647.00 L233.10,647.06 L233.60,647.05 L234.10,647.07 L234.60,647.10 L235.10,647.12 L235.60,647.13 L236.10,647.16 L236.60,647.16 L237.10,647.19 L237.60,647.20 L238.10,647.23 L238.60,647.25 L239.10,647.27 L239.60,647.28 L240.10,647.30 L240.60,647.30 L241.10,647.30 L241.60,647.30 L242.10,647.30 L242.60,647.30 L243.10,647.30 L243.60,647.30 L244.10,647.30 L244.60,647.30 L245.10,647.30 L245.60,647.30 L246.10,647.30 L246.60,647.30 L247.10,647.30 L247.60,647.30 L248.10,647.30 L248.60,647.30 L249.10,647.30 L249.60,647.30 L250.10,647.30 L250.60,647.30 L251.10,647.30 L251.60,647.30 L252.00,647.30Z" fill="#55621a"/>
<path d="M253.20,647.30 L253.20,645.29 L253.80,644.07 L254.40,644.15 L255.00,643.74 L255.60,643.90 L256.20,642.12 L256.80,643.13 L257.40,640.07 L258.00,642.52 L258.60,639.05 L259.20,642.62 L259.80,640.92 L260.40,640.32 L261.00,638.31 L261.60,638.70 L262.20,641.14 L262.80,639.21 L263.40,637.67 L264.00,641.12 L264.60,636.91 L265.20,636.33 L265.80,634.71 L266.40,639.26 L267.00,636.51 L267.60,639.05 L268.20,636.68 L268.80,637.52 L269.40,641.74 L270.00,636.09 L270.60,636.60 L271.20,639.76 L271.80,635.59 L272.40,640.93 L273.00,637.05 L273.60,639.47 L274.20,642.70 L274.80,639.26 L275.40,641.81 L276.00,643.10 L276.60,642.94 L277.20,643.57 L277.80,642.95 L278.40,644.11 L279.00,643.42 L279.60,643.85 L280.20,644.04 L280.80,643.87 L281.40,640.96 L282.00,643.24 L282.60,639.83 L283.20,640.58 L283.80,641.24 L284.40,641.29 L285.00,642.56 L285.60,640.27 L286.20,642.65 L286.80,643.36 L287.40,641.90 L288.00,641.02 L288.60,641.19 L289.20,643.45 L289.80,644.19 L290.40,643.99 L291.00,645.12 L291.60,644.31 L292.20,645.21 L292.80,645.24 L293.40,644.66 L294.00,644.68 L294.60,645.02 L295.20,645.44 L295.80,644.28 L296.40,644.74 L297.00,644.71 L297.60,645.06 L298.20,644.47 L298.80,645.37 L299.40,645.70 L300.00,645.50 L300.60,645.38 L301.20,645.46 L301.80,645.38 L302.40,644.11 L303.00,644.84 L303.60,643.41 L304.20,643.76 L304.80,643.21 L305.40,643.50 L306.00,644.88 L306.60,643.17 L307.20,645.09 L307.80,644.29 L308.40,643.47 L309.00,644.20 L309.60,643.18 L310.20,643.88 L310.80,643.01 L311.40,643.77 L312.00,643.74 L312.60,642.20 L313.20,642.08 L313.80,641.97 L314.40,639.37 L315.00,640.59 L315.60,636.97 L316.20,639.66 L316.80,640.68 L317.40,638.71 L318.00,641.16 L318.60,641.49 L319.20,640.19 L319.80,640.38 L320.40,642.64 L321.00,641.81 L321.60,641.66 L322.20,639.88 L322.80,639.54 L323.40,638.72 L324.00,638.18 L324.60,634.69 L325.20,639.20 L325.80,641.44 L326.40,642.01 L327.00,639.89 L327.60,642.36 L328.20,642.73 L328.80,643.83 L329.40,644.30 L330.00,641.58 L330.60,644.46 L331.20,643.89 L331.80,644.02 L332.40,644.07 L333.00,642.76 L333.60,644.95 L334.20,643.12 L334.80,644.39 L335.40,644.62 L336.00,644.77 L336.60,644.13 L337.00,647.30Z" fill="#55621a"/>
<path d="M25.00,664.30 L25.00,664.30 L25.50,664.30 L26.00,664.30 L26.50,664.30 L27.00,664.30 L27.50,664.30 L28.00,664.30 L28.50,664.30 L29.00,664.30 L29.50,664.30 L30.00,664.30 L30.50,664.30 L31.00,664.30 L31.50,664.30 L32.00,664.30 L32.50,664.30 L33.00,664.30 L33.50,664.30 L34.00,664.30 L34.50,664.30 L35.00,664.30 L35.50,664.30 L36.00,664.30 L36.50,664.30 L37.00,664.30 L37.50,664.30 L38.00,664.30 L38.50,664.30 L39.00,664.30 L39.50,664.30 L40.00,664.30 L40.50,664.30 L41.00,664.30 L41.50,664.30 L42.00,664.30 L42.50,664.30 L43.00,664.30 L43.50,664.30 L44.00,664.30 L44.50,664.30 L45.00,664.30 L45.50,664.30 L46.00,664.30 L46.50,664.30 L47.00,664.30 L47.50,664.30 L48.00,664.30 L48.50,664.16 L49.00,664.03 L49.50,663.88 L50.00,663.77 L50.50,663.62 L51.00,663.46 L51.50,663.44 L52.00,663.43 L52.50,663.35 L53.00,663.33 L53.50,663.25 L54.00,663.24 L54.50,663.22 L55.00,663.12 L55.50,663.14 L56.00,663.11 L56.50,663.09 L57.00,663.14 L57.50,663.29 L58.00,663.35 L58.50,663.31 L59.00,663.36 L59.50,663.46 L60.00,663.52 L60.50,663.55 L61.00,663.59 L61.50,663.71 L62.00,663.75 L62.50,663.80 L63.00,663.89 L63.50,663.94 L64.00,664.01 L64.50,663.96 L65.00,663.94 L65.50,663.91 L66.00,663.86 L66.50,663.83 L67.00,663.80 L67.50,663.76 L68.00,663.71 L68.50,663.59 L69.00,663.43 L69.50,663.34 L70.00,663.23 L70.50,663.12 L71.00,662.98 L71.50,662.78 L72.00,662.76 L72.50,662.62 L73.00,662.47 L73.50,662.38 L74.00,662.38 L74.50,662.20 L75.00,662.16 L75.50,662.19 L76.00,662.14 L76.50,662.04 L77.00,661.78 L77.50,661.82 L78.00,661.59 L78.50,661.50 L79.00,661.46 L79.50,661.56 L80.00,661.67 L80.50,661.53 L81.00,661.50 L81.50,661.30 L82.00,661.23 L82.50,661.20 L83.00,661.33 L83.50,661.29 L84.00,661.45 L84.50,661.56 L85.00,661.49 L85.50,661.72 L86.00,661.61 L86.50,661.78 L87.00,661.90 L87.50,662.26 L88.00,662.37 L88.50,662.35 L89.00,662.67 L89.50,662.76 L90.00,662.88 L90.50,663.02 L91.00,663.07 L91.50,663.18 L92.00,663.37 L92.50,663.50 L93.00,663.54 L93.50,663.69 L94.00,663.82 L94.50,663.10 L95.00,662.42 L95.50,661.52 L96.00,660.89 L96.50,659.83 L97.00,658.64 L97.50,657.98 L98.00,657.36 L98.50,658.83 L99.00,659.18 L99.50,660.01 L100.00,661.13 L100.50,662.65 L101.00,663.80 L101.50,663.80 L102.00,663.79 L102.50,663.80 L103.00,663.81 L103.50,663.78 L104.00,663.78 L104.50,663.79 L105.00,663.77 L105.50,663.80 L106.00,663.83 L106.50,663.79 L107.00,663.82 L107.50,663.78 L108.00,663.79 L108.50,663.82 L109.00,663.82 L109.50,663.83 L110.00,663.82 L110.50,663.49 L111.00,663.31 L111.50,662.95 L112.00,662.82 L112.50,662.52 L113.00,662.23 L113.50,662.00 L114.00,661.56 L114.50,661.42 L115.00,660.96 L115.50,660.71 L116.00,660.39 L116.50,659.72 L117.00,659.54 L117.50,659.08 L118.00,658.57 L118.50,658.66 L119.00,658.37 L119.50,657.55 L120.00,656.96 L120.50,657.45 L121.00,656.74 L121.50,655.97 L122.00,655.84 L122.50,655.41 L123.00,655.60 L123.50,654.86 L124.00,655.59 L124.50,655.33 L125.00,655.13 L125.50,655.81 L126.00,655.96 L126.50,656.15 L127.00,656.42 L127.50,657.04 L128.00,657.96 L128.50,659.46 L129.00,660.39 L129.50,661.06 L130.00,661.98 L130.50,662.87 L131.00,663.79 L131.50,663.81 L132.00,663.84 L132.50,663.89 L133.00,663.93 L133.50,663.97 L134.00,663.97 L134.50,664.01 L135.00,664.04 L135.50,664.09 L136.00,664.11 L136.50,664.14 L137.00,664.18 L137.50,664.21 L138.00,664.24 L138.50,664.27 L139.00,664.30 L139.50,664.30 L139.50,664.30Z" fill="#55621a"/>
<path d="M140.60,664.30 L140.60,664.30 L141.10,664.30 L141.60,664.30 L142.10,664.30 L142.60,664.30 L143.10,664.30 L143.60,664.30 L144.10,664.30 L144.60,664.30 L145.10,664.30 L145.60,664.30 L146.10,664.30 L146.60,664.30 L147.10,664.30 L147.60,664.30 L148.10,664.30 L148.60,664.30 L149.10,664.30 L149.60,664.30 L150.10,664.30 L150.60,664.30 L151.10,664.30 L151.60,664.30 L152.10,664.30 L152.60,664.30 L153.10,664.30 L153.60,664.30 L154.10,664.30 L154.60,664.30 L155.10,664.30 L155.60,664.30 L156.10,664.30 L156.60,664.30 L157.10,664.30 L157.60,664.30 L158.10,664.30 L158.60,664.30 L159.10,664.30 L159.60,664.30 L160.10,664.30 L160.60,664.30 L161.10,664.30 L161.60,664.30 L162.10,664.30 L162.60,664.30 L163.10,664.30 L163.60,664.30 L164.10,664.30 L164.60,664.30 L165.10,664.30 L165.60,664.30 L166.10,664.30 L166.60,664.30 L167.10,664.30 L167.60,664.30 L168.10,664.30 L168.60,664.30 L169.10,664.30 L169.60,664.30 L170.10,664.30 L170.60,664.30 L171.10,664.30 L171.60,664.30 L172.10,664.28 L172.60,664.18 L173.10,664.06 L173.60,664.00 L174.10,663.85 L174.60,663.81 L175.10,663.61 L175.60,663.35 L176.10,663.03 L176.60,662.89 L177.10,662.54 L177.60,662.17 L178.10,662.17 L178.60,661.83 L179.10,661.34 L179.60,661.22 L180.10,660.96 L180.60,660.67 L181.10,660.11 L181.60,659.43 L182.10,659.10 L182.60,658.51 L183.10,658.61 L183.60,658.10 L184.10,657.17 L184.60,657.34 L185.10,657.24 L185.60,656.90 L186.10,655.84 L186.60,655.11 L187.10,655.47 L187.60,655.99 L188.10,655.55 L188.60,654.64 L189.10,654.28 L189.60,655.01 L190.10,654.47 L190.60,655.23 L191.10,654.52 L191.60,654.27 L192.10,654.75 L192.60,654.40 L193.10,655.34 L193.60,654.90 L194.10,655.38 L194.60,655.39 L195.10,656.33 L195.60,656.00 L196.10,656.02 L196.60,656.87 L197.10,656.84 L197.60,657.81 L198.10,657.73 L198.60,657.56 L199.10,658.25 L199.60,658.85 L200.10,659.03 L200.60,659.65 L201.10,660.25 L201.60,660.80 L202.10,660.98 L202.60,661.47 L203.10,661.84 L203.60,662.21 L204.10,662.60 L204.60,662.91 L205.10,663.11 L205.60,663.25 L206.10,663.35 L206.60,663.53 L207.10,663.67 L207.60,663.79 L208.10,663.93 L208.60,663.93 L209.10,664.00 L209.60,664.07 L210.10,664.11 L210.60,664.15 L211.10,664.20 L211.60,664.26 L212.10,664.30 L212.60,664.30 L213.10,664.30 L213.60,664.30 L214.10,664.30 L214.60,664.30 L215.10,664.30 L215.60,664.30 L216.10,664.30 L216.60,664.30 L217.10,664.30 L217.60,664.30 L218.10,664.30 L218.60,664.30 L219.10,664.30 L219.60,664.30 L220.10,664.30 L220.60,664.30 L221.10,664.30 L221.60,664.30 L222.10,664.30 L222.60,664.30 L223.10,664.30 L223.60,664.30 L224.10,664.30 L224.60,664.30 L225.10,664.30 L225.60,664.30 L226.10,664.30 L226.60,664.30 L227.10,664.30 L227.60,664.30 L228.10,664.30 L228.60,664.30 L229.10,664.30 L229.60,664.30 L230.10,664.30 L230.60,664.30 L231.10,664.30 L231.60,664.30 L232.10,664.30 L232.60,664.30 L233.10,664.30 L233.60,664.30 L234.10,664.30 L234.60,664.30 L235.10,664.30 L235.60,664.30 L236.10,664.30 L236.60,664.30 L237.10,664.30 L237.60,664.30 L238.10,664.30 L238.60,664.30 L239.10,664.30 L239.60,664.30 L240.10,664.30 L240.60,664.30 L241.10,664.30 L241.60,664.30 L242.10,664.30 L242.60,664.30 L243.10,664.30 L243.60,664.30 L244.10,664.30 L244.60,664.30 L245.10,664.30 L245.60,664.30 L246.10,664.30 L246.60,664.30 L247.10,664.30 L247.60,664.30 L248.10,664.30 L248.60,664.30 L249.10,664.30 L249.60,664.30 L250.10,664.30 L250.60,664.30 L251.10,664.30 L251.60,664.30 L252.00,664.30Z" fill="#55621a"/>
<path d="M253.20,664.30 L253.20,662.90 L253.80,663.05 L254.40,662.88 L255.00,662.79 L255.60,662.98 L256.20,663.02 L256.80,662.28 L257.40,661.84 L258.00,661.04 L258.60,661.63 L259.20,659.99 L259.80,661.85 L260.40,660.44 L261.00,661.89 L261.60,661.31 L262.20,661.48 L262.80,659.12 L263.40,659.87 L264.00,660.15 L264.60,656.93 L265.20,654.10 L265.80,656.66 L266.40,656.24 L267.00,660.46 L267.60,659.27 L268.20,659.01 L268.80,660.46 L269.40,659.75 L270.00,659.66 L270.60,661.37 L271.20,659.28 L271.80,660.87 L272.40,660.48 L273.00,660.53 L273.60,660.41 L274.20,658.32 L274.80,659.97 L275.40,658.65 L276.00,660.94 L276.60,660.84 L277.20,661.73 L277.80,660.77 L278.40,659.96 L279.00,661.26 L279.60,660.95 L280.20,662.16 L280.80,662.43 L281.40,662.20 L282.00,661.01 L282.60,661.34 L283.20,660.79 L283.80,660.96 L284.40,661.89 L285.00,661.95 L285.60,661.19 L286.20,662.23 L286.80,661.69 L287.40,661.71 L288.00,662.32 L288.60,661.19 L289.20,662.72 L289.80,661.42 L290.40,662.83 L291.00,661.51 L291.60,662.39 L292.20,662.77 L292.80,661.99 L293.40,661.77 L294.00,662.17 L294.60,661.95 L295.20,661.53 L295.80,662.14 L296.40,662.08 L297.00,661.45 L297.60,661.94 L298.20,661.36 L298.80,662.07 L299.40,661.68 L300.00,662.03 L300.60,662.45 L301.20,662.20 L301.80,661.82 L302.40,661.91 L303.00,661.44 L303.60,661.43 L304.20,661.36 L304.80,662.22 L305.40,661.16 L306.00,661.14 L306.60,662.13 L307.20,661.28 L307.80,662.02 L308.40,662.29 L309.00,662.54 L309.60,661.28 L310.20,661.12 L310.80,661.02 L311.40,661.33 L312.00,661.91 L312.60,662.00 L313.20,660.26 L313.80,659.94 L314.40,658.93 L315.00,659.20 L315.60,659.84 L316.20,658.37 L316.80,661.29 L317.40,658.19 L318.00,659.46 L318.60,659.50 L319.20,658.85 L319.80,659.67 L320.40,658.88 L321.00,657.04 L321.60,657.44 L322.20,656.08 L322.80,657.64 L323.40,659.13 L324.00,657.96 L324.60,657.06 L325.20,659.17 L325.80,658.22 L326.40,658.36 L327.00,659.78 L327.60,661.24 L328.20,659.26 L328.80,660.77 L329.40,659.20 L330.00,661.99 L330.60,660.64 L331.20,661.19 L331.80,660.83 L332.40,661.16 L333.00,661.35 L333.60,661.83 L334.20,662.19 L334.80,662.44 L335.40,662.79 L336.00,663.31 L336.60,663.39 L337.00,664.30Z" fill="#55621a"/>
<path d="M338.20,630.00 L338.20,630.00 L338.60,630.00 L339.00,630.00 L339.40,630.00 L339.80,630.00 L340.20,630.00 L340.60,630.00 L341.00,630.00 L341.40,630.00 L341.80,630.00 L342.20,630.00 L342.60,630.00 L343.00,630.00 L343.40,630.00 L343.80,630.00 L344.20,630.00 L344.60,630.00 L345.00,630.00 L345.40,630.00 L345.80,630.00 L346.20,630.00 L346.60,630.00 L347.00,630.00 L347.40,630.00 L347.80,630.00 L348.20,630.00 L348.60,630.00 L349.00,630.00 L349.40,630.00 L349.80,630.00 L350.20,630.00 L350.60,630.00 L351.00,630.00 L351.40,630.00 L351.80,630.00 L352.20,630.00 L352.60,630.00 L353.00,630.00 L353.40,630.00 L353.80,630.00 L354.20,630.00 L354.60,630.00 L355.00,629.99 L355.40,629.95 L355.80,629.88 L356.20,629.71 L356.60,629.41 L357.00,628.92 L357.40,628.29 L357.80,627.62 L358.20,627.10 L358.60,626.90 L359.00,627.10 L359.40,627.62 L359.80,628.29 L360.20,628.92 L360.60,629.41 L361.00,629.71 L361.40,629.88 L361.80,629.95 L362.20,629.99 L362.60,630.00 L363.00,630.00 L363.40,630.00 L363.80,630.00 L364.20,630.00 L364.60,630.00 L365.00,630.00 L365.40,630.00 L365.80,630.00 L366.20,630.00 L366.60,630.00 L367.00,630.00 L367.40,630.00 L367.80,630.00 L368.20,630.00 L368.60,630.00 L369.00,630.00 L369.40,630.00 L369.80,630.00 L370.20,630.00 L370.60,630.00 L371.00,630.00 L371.40,630.00 L371.80,630.00 L372.20,630.00 L372.60,630.00 L373.00,630.00 L373.40,630.00 L373.80,630.00 L374.20,630.00 L374.60,630.00 L375.00,630.00 L375.40,630.00 L375.80,630.00 L376.20,630.00 L376.60,630.00 L377.00,630.00 L377.40,630.00 L377.80,630.00 L378.20,630.00 L378.60,630.00 L379.00,630.00 L379.40,630.00 L379.80,630.00 L380.20,630.00 L380.60,630.00 L381.00,630.00 L381.40,630.00 L381.80,630.00 L382.20,630.00 L382.60,630.00 L383.00,630.00 L383.40,630.00 L383.80,630.00 L384.20,630.00 L384.60,630.00 L385.00,630.00 L385.40,630.00 L385.80,630.00 L386.20,630.00 L386.60,630.00 L387.00,630.00 L387.40,630.00 L387.80,630.00 L388.20,630.00 L388.60,630.00 L389.00,630.00 L389.40,630.00 L389.80,630.00 L390.20,630.00 L390.60,630.00 L391.00,630.00 L391.40,630.00 L391.80,630.00 L392.20,630.00 L392.60,630.00 L393.00,630.00 L393.40,630.00 L393.80,630.00 L394.20,630.00 L394.60,630.00 L395.00,630.00 L395.40,630.00 L395.80,630.00 L396.20,630.00 L396.60,630.00 L397.00,630.00 L397.40,630.00 L397.80,630.00 L398.20,630.00 L398.60,630.00 L399.00,629.98 L399.40,629.94 L399.80,629.81 L400.20,629.53 L400.60,628.99 L401.00,628.15 L401.40,627.13 L401.80,626.21 L402.20,625.72 L402.60,625.89 L403.00,626.63 L403.40,627.65 L403.80,628.60 L404.20,629.29 L404.60,629.69 L405.00,629.89 L405.40,629.96 L405.80,629.99 L406.20,630.00 L406.60,630.00 L407.00,630.00 L407.40,630.00 L407.80,630.00 L408.20,630.00 L408.60,630.00 L409.00,630.00 L409.40,630.00 L409.80,630.00 L410.20,630.00 L410.60,630.00 L411.00,630.00 L411.40,630.00 L411.80,630.00 L412.20,630.00 L412.60,630.00 L413.00,630.00 L413.40,630.00 L413.80,630.00 L414.20,630.00 L414.60,630.00 L415.00,630.00 L415.40,630.00 L415.80,630.00 L416.20,630.00 L416.60,630.00 L417.00,630.00 L417.40,630.00 L417.80,630.00 L418.20,630.00 L418.60,630.00 L419.00,630.00 L419.40,630.00 L419.80,630.00 L420.20,630.00 L420.60,630.00 L421.00,630.00 L421.40,630.00 L421.80,630.00 L422.20,630.00 L422.60,630.00 L423.00,630.00 L423.40,630.00 L423.80,630.00 L424.20,630.00 L424.60,630.00 L425.00,630.00 L425.40,630.00 L425.80,630.00 L426.20,630.00 L426.60,630.00 L427.00,630.00 L427.40,630.00 L427.80,630.00 L428.20,630.00 L428.60,630.00 L429.00,630.00 L429.40,630.00 L429.80,630.00 L430.20,630.00 L430.60,630.00 L431.00,630.00 L431.40,630.00 L431.80,630.00 L432.20,630.00 L432.60,630.00 L433.00,629.99 L433.40,629.99 L433.80,629.98 L434.20,629.97 L434.60,629.93 L435.00,629.86 L435.40,629.71 L435.80,629.43 L436.20,628.98 L436.60,628.28 L437.00,627.35 L437.40,626.26 L437.80,625.16 L438.20,624.28 L438.60,623.81 L439.00,623.87 L439.40,624.42 L439.80,625.30 L440.20,626.31 L440.60,627.25 L441.00,628.01 L441.40,628.55 L441.80,628.91 L442.20,629.14 L442.60,629.28 L443.00,629.40 L443.40,629.49 L443.80,629.57 L444.20,629.65 L444.60,629.72 L445.00,629.78 L445.40,629.83 L445.80,629.87 L446.20,629.91 L446.60,629.93 L447.00,629.96 L447.40,629.97 L447.80,629.98 L448.20,629.99 L448.60,629.99 L449.00,630.00 L449.40,630.00 L449.80,630.00 L450.20,630.00 L450.60,630.00 L451.00,630.00 L451.40,630.00 L451.80,630.00 L452.20,630.00 L452.60,630.00 L453.00,630.00 L453.40,630.00 L453.80,630.00 L454.20,630.00 L454.60,630.00 L455.00,630.00 L455.40,630.00 L455.80,630.00 L456.20,630.00 L456.60,630.00 L457.00,630.00 L457.40,630.00 L457.80,630.00 L458.20,630.00 L458.60,630.00 L459.00,630.00 L459.40,630.00 L459.80,630.00 L460.20,630.00 L460.60,630.00 L461.00,630.00 L461.40,630.00 L461.80,630.00 L462.20,630.00 L462.60,630.00 L463.00,630.00 L463.40,630.00 L463.80,630.00 L464.20,630.00 L464.60,630.00 L465.00,630.00 L465.40,629.99 L465.80,629.99 L466.20,629.98 L466.60,629.96 L467.00,629.92 L467.40,629.82 L467.80,629.62 L468.20,629.25 L468.60,628.64 L469.00,627.74 L469.40,626.62 L469.80,625.43 L470.20,624.45 L470.60,623.94 L471.00,624.04 L471.40,624.70 L471.80,625.72 L472.20,626.82 L472.60,627.78 L473.00,628.49 L473.40,628.95 L473.80,629.23 L474.20,629.38 L474.60,629.48 L475.00,629.56 L475.40,629.62 L475.80,629.68 L476.20,629.74 L476.60,629.79 L477.00,629.83 L477.40,629.87 L477.80,629.91 L478.20,629.93 L478.60,629.95 L479.00,629.97 L479.40,629.98 L479.80,629.99 L480.20,629.99 L480.60,629.99 L481.00,630.00 L481.40,630.00 L481.80,630.00 L482.20,630.00 L482.60,630.00 L483.00,630.00 L483.40,630.00 L483.80,630.00 L484.20,630.00 L484.60,630.00 L485.00,630.00 L485.40,630.00 L485.80,630.00 L486.20,630.00 L486.60,630.00 L487.00,630.00 L487.40,630.00 L487.80,630.00 L488.20,630.00 L488.60,630.00 L489.00,630.00 L489.40,630.00 L489.80,630.00 L490.20,630.00 L490.60,630.00 L491.00,630.00 L491.40,630.00 L491.80,630.00 L492.20,630.00 L492.60,630.00 L493.00,630.00 L493.40,630.00 L493.80,630.00 L494.20,630.00 L494.60,630.00 L495.00,630.00 L495.40,630.00 L495.80,630.00 L496.20,630.00 L496.60,629.99 L497.00,629.98 L497.40,629.95 L497.80,629.88 L498.20,629.75 L498.60,629.56 L499.00,629.35 L499.40,629.17 L499.80,629.10 L500.20,629.17 L500.60,629.35 L501.00,629.56 L501.40,629.75 L501.80,629.88 L502.20,629.95 L502.60,629.98 L503.00,629.99 L503.40,630.00 L503.80,630.00 L504.20,630.00 L504.60,630.00 L505.00,630.00 L505.40,630.00 L505.80,630.00 L506.20,630.00 L506.60,630.00 L507.00,630.00 L507.40,630.00 L507.80,630.00 L508.20,630.00 L508.60,630.00 L509.00,630.00 L509.40,630.00 L509.80,630.00 L510.20,630.00 L510.60,630.00 L511.00,630.00 L511.00,630.00Z" fill="#55621a"/>
<path d="M338.20,647.30 L338.20,647.30 L338.60,647.30 L339.00,647.30 L339.40,647.30 L339.80,647.30 L340.20,647.30 L340.60,647.30 L341.00,647.30 L341.40,647.30 L341.80,647.30 L342.20,647.30 L342.60,647.30 L343.00,647.30 L343.40,647.30 L343.80,647.30 L344.20,647.30 L344.60,647.30 L345.00,647.30 L345.40,647.30 L345.80,647.30 L346.20,647.30 L346.60,647.30 L347.00,647.30 L347.40,647.30 L347.80,647.29 L348.20,647.29 L348.60,647.28 L349.00,647.28 L349.40,647.27 L349.80,647.26 L350.20,647.24 L350.60,647.22 L351.00,647.19 L351.40,647.16 L351.80,647.12 L352.20,647.08 L352.60,647.03 L353.00,646.97 L353.40,646.90 L353.80,646.83 L354.20,646.73 L354.60,646.59 L355.00,646.37 L355.40,646.03 L355.80,645.51 L356.20,644.73 L356.60,643.70 L357.00,642.44 L357.40,641.11 L357.80,639.90 L358.20,639.07 L358.60,638.81 L359.00,639.17 L359.40,640.09 L359.80,641.38 L360.20,642.79 L360.60,644.10 L361.00,645.18 L361.40,645.97 L361.80,646.51 L362.20,646.84 L362.60,647.03 L363.00,647.14 L363.40,647.20 L363.80,647.23 L364.20,647.25 L364.60,647.27 L365.00,647.28 L365.40,647.28 L365.80,647.29 L366.20,647.29 L366.60,647.30 L367.00,647.30 L367.40,647.30 L367.80,647.30 L368.20,647.30 L368.60,647.30 L369.00,647.30 L369.40,647.30 L369.80,647.30 L370.20,647.30 L370.60,647.30 L371.00,647.30 L371.40,647.30 L371.80,647.30 L372.20,647.30 L372.60,647.30 L373.00,647.30 L373.40,647.30 L373.80,647.30 L374.20,647.30 L374.60,647.30 L375.00,647.30 L375.40,647.30 L375.80,647.30 L376.20,647.30 L376.60,647.30 L377.00,647.30 L377.40,647.30 L377.80,647.30 L378.20,647.30 L378.60,647.30 L379.00,647.30 L379.40,647.30 L379.80,647.30 L380.20,647.30 L380.60,647.30 L381.00,647.30 L381.40,647.30 L381.80,647.30 L382.20,647.30 L382.60,647.30 L383.00,647.30 L383.40,647.30 L383.80,647.30 L384.20,647.30 L384.60,647.30 L385.00,647.30 L385.40,647.30 L385.80,647.30 L386.20,647.30 L386.60,647.30 L387.00,647.30 L387.40,647.30 L387.80,647.30 L388.20,647.30 L388.60,647.30 L389.00,647.30 L389.40,647.30 L389.80,647.30 L390.20,647.30 L390.60,647.30 L391.00,647.30 L391.40,647.30 L391.80,647.30 L392.20,647.30 L392.60,647.30 L393.00,647.30 L393.40,647.30 L393.80,647.30 L394.20,647.30 L394.60,647.30 L395.00,647.30 L395.40,647.30 L395.80,647.30 L396.20,647.30 L396.60,647.30 L397.00,647.30 L397.40,647.30 L397.80,647.30 L398.20,647.30 L398.60,647.29 L399.00,647.26 L399.40,647.14 L399.80,646.84 L400.20,646.15 L400.60,644.85 L401.00,642.83 L401.40,640.36 L401.80,638.12 L402.20,636.95 L402.60,637.36 L403.00,639.16 L403.40,641.62 L403.80,643.92 L404.20,645.59 L404.60,646.56 L405.00,647.03 L405.40,647.21 L405.80,647.28 L406.20,647.29 L406.60,647.30 L407.00,647.30 L407.40,647.30 L407.80,647.30 L408.20,647.30 L408.60,647.30 L409.00,647.30 L409.40,647.30 L409.80,647.30 L410.20,647.30 L410.60,647.30 L411.00,647.30 L411.40,647.30 L411.80,647.30 L412.20,647.30 L412.60,647.30 L413.00,647.30 L413.40,647.30 L413.80,647.30 L414.20,647.30 L414.60,647.30 L415.00,647.30 L415.40,647.30 L415.80,647.30 L416.20,647.30 L416.60,647.30 L417.00,647.30 L417.40,647.30 L417.80,647.30 L418.20,647.30 L418.60,647.30 L419.00,647.30 L419.40,647.30 L419.80,647.30 L420.20,647.30 L420.60,647.30 L421.00,647.30 L421.40,647.30 L421.80,647.30 L422.20,647.30 L422.60,647.30 L423.00,647.30 L423.40,647.30 L423.80,647.30 L424.20,647.30 L424.60,647.30 L425.00,647.30 L425.40,647.30 L425.80,647.30 L426.20,647.30 L426.60,647.30 L427.00,647.30 L427.40,647.30 L427.80,647.30 L428.20,647.30 L428.60,647.30 L429.00,647.30 L429.40,647.30 L429.80,647.30 L430.20,647.30 L430.60,647.30 L431.00,647.30 L431.40,647.30 L431.80,647.30 L432.20,647.30 L432.60,647.29 L433.00,647.29 L433.40,647.28 L433.80,647.25 L434.20,647.19 L434.60,647.08 L435.00,646.85 L435.40,646.43 L435.80,645.71 L436.20,644.61 L436.60,643.05 L437.00,641.09 L437.40,638.91 L437.80,636.80 L438.20,635.15 L438.60,634.28 L439.00,634.39 L439.40,635.40 L439.80,637.08 L440.20,639.06 L440.60,641.00 L441.00,642.66 L441.40,643.93 L441.80,644.83 L442.20,645.43 L442.60,645.83 L443.00,646.10 L443.40,646.31 L443.80,646.48 L444.20,646.63 L444.60,646.77 L445.00,646.88 L445.40,646.98 L445.80,647.06 L446.20,647.13 L446.60,647.18 L447.00,647.22 L447.40,647.24 L447.80,647.26 L448.20,647.28 L448.60,647.29 L449.00,647.29 L449.40,647.29 L449.80,647.30 L450.20,647.30 L450.60,647.30 L451.00,647.30 L451.40,647.30 L451.80,647.30 L452.20,647.30 L452.60,647.30 L453.00,647.30 L453.40,647.30 L453.80,647.30 L454.20,647.30 L454.60,647.30 L455.00,647.30 L455.40,647.30 L455.80,647.30 L456.20,647.30 L456.60,647.30 L457.00,647.30 L457.40,647.30 L457.80,647.30 L458.20,647.30 L458.60,647.30 L459.00,647.30 L459.40,647.30 L459.80,647.30 L460.20,647.30 L460.60,647.30 L461.00,647.30 L461.40,647.30 L461.80,647.30 L462.20,647.30 L462.60,647.30 L463.00,647.30 L463.40,647.30 L463.80,647.30 L464.20,647.30 L464.60,647.30 L465.00,647.29 L465.40,647.29 L465.80,647.28 L466.20,647.26 L466.60,647.22 L467.00,647.13 L467.40,646.93 L467.80,646.51 L468.20,645.73 L468.60,644.43 L469.00,642.53 L469.40,640.15 L469.80,637.64 L470.20,635.57 L470.60,634.49 L471.00,634.70 L471.40,636.12 L471.80,638.28 L472.20,640.62 L472.60,642.66 L473.00,644.17 L473.40,645.15 L473.80,645.73 L474.20,646.06 L474.60,646.26 L475.00,646.41 L475.40,646.54 L475.80,646.66 L476.20,646.77 L476.60,646.87 L477.00,646.97 L477.40,647.04 L477.80,647.11 L478.20,647.16 L478.60,647.20 L479.00,647.23 L479.40,647.25 L479.80,647.27 L480.20,647.28 L480.60,647.29 L481.00,647.29 L481.40,647.30 L481.80,647.30 L482.20,647.30 L482.60,647.30 L483.00,647.30 L483.40,647.30 L483.80,647.30 L484.20,647.30 L484.60,647.30 L485.00,647.30 L485.40,647.30 L485.80,647.30 L486.20,647.30 L486.60,647.30 L487.00,647.30 L487.40,647.30 L487.80,647.30 L488.20,647.30 L488.60,647.30 L489.00,647.30 L489.40,647.30 L489.80,647.30 L490.20,647.30 L490.60,647.30 L491.00,647.30 L491.40,647.30 L491.80,647.30 L492.20,647.30 L492.60,647.30 L493.00,647.30 L493.40,647.30 L493.80,647.30 L494.20,647.30 L494.60,647.30 L495.00,647.30 L495.40,647.30 L495.80,647.30 L496.20,647.30 L496.60,647.29 L497.00,647.27 L497.40,647.22 L497.80,647.10 L498.20,646.88 L498.60,646.57 L499.00,646.21 L499.40,645.92 L499.80,645.80 L500.20,645.92 L500.60,646.21 L501.00,646.57 L501.40,646.88 L501.80,647.10 L502.20,647.22 L502.60,647.27 L503.00,647.29 L503.40,647.30 L503.80,647.30 L504.20,647.30 L504.60,647.30 L505.00,647.30 L505.40,647.30 L505.80,647.30 L506.20,647.30 L506.60,647.30 L507.00,647.30 L507.40,647.30 L507.80,647.30 L508.20,647.30 L508.60,647.30 L509.00,647.30 L509.40,647.30 L509.80,647.30 L510.20,647.30 L510.60,647.30 L511.00,647.30 L511.00,647.30Z" fill="#55621a"/>
<path d="M338.20,664.30 L338.20,664.30 L338.60,664.30 L339.00,664.30 L339.40,664.30 L339.80,664.30 L340.20,664.30 L340.60,664.30 L341.00,664.30 L341.40,664.30 L341.80,664.30 L342.20,664.30 L342.60,664.30 L343.00,664.30 L343.40,664.30 L343.80,664.30 L344.20,664.30 L344.60,664.30 L345.00,664.30 L345.40,664.30 L345.80,664.30 L346.20,664.30 L346.60,664.30 L347.00,664.30 L347.40,664.30 L347.80,664.30 L348.20,664.30 L348.60,664.30 L349.00,664.30 L349.40,664.30 L349.80,664.30 L350.20,664.30 L350.60,664.30 L351.00,664.30 L351.40,664.30 L351.80,664.30 L352.20,664.30 L352.60,664.30 L353.00,664.30 L353.40,664.30 L353.80,664.30 L354.20,664.30 L354.60,664.29 L355.00,664.27 L355.40,664.20 L355.80,664.03 L356.20,663.67 L356.60,663.00 L357.00,661.94 L357.40,660.55 L357.80,659.08 L358.20,657.94 L358.60,657.50 L359.00,657.94 L359.40,659.08 L359.80,660.55 L360.20,661.94 L360.60,663.00 L361.00,663.67 L361.40,664.03 L361.80,664.20 L362.20,664.27 L362.60,664.29 L363.00,664.30 L363.40,664.30 L363.80,664.30 L364.20,664.30 L364.60,664.30 L365.00,664.30 L365.40,664.30 L365.80,664.30 L366.20,664.30 L366.60,664.30 L367.00,664.30 L367.40,664.30 L367.80,664.30 L368.20,664.30 L368.60,664.30 L369.00,664.30 L369.40,664.30 L369.80,664.30 L370.20,664.30 L370.60,664.30 L371.00,664.30 L371.40,664.30 L371.80,664.30 L372.20,664.30 L372.60,664.30 L373.00,664.30 L373.40,664.30 L373.80,664.30 L374.20,664.30 L374.60,664.30 L375.00,664.30 L375.40,664.30 L375.80,664.30 L376.20,664.30 L376.60,664.30 L377.00,664.30 L377.40,664.30 L377.80,664.30 L378.20,664.30 L378.60,664.30 L379.00,664.30 L379.40,664.30 L379.80,664.30 L380.20,664.30 L380.60,664.30 L381.00,664.30 L381.40,664.30 L381.80,664.30 L382.20,664.30 L382.60,664.30 L383.00,664.30 L383.40,664.30 L383.80,664.30 L384.20,664.30 L384.60,664.30 L385.00,664.30 L385.40,664.30 L385.80,664.30 L386.20,664.30 L386.60,664.30 L387.00,664.30 L387.40,664.30 L387.80,664.30 L388.20,664.30 L388.60,664.30 L389.00,664.30 L389.40,664.30 L389.80,664.30 L390.20,664.30 L390.60,664.30 L391.00,664.30 L391.40,664.30 L391.80,664.30 L392.20,664.30 L392.60,664.30 L393.00,664.30 L393.40,664.30 L393.80,664.30 L394.20,664.30 L394.60,664.30 L395.00,664.30 L395.40,664.30 L395.80,664.30 L396.20,664.30 L396.60,664.30 L397.00,664.30 L397.40,664.30 L397.80,664.30 L398.20,664.30 L398.60,664.30 L399.00,664.29 L399.40,664.24 L399.80,664.07 L400.20,663.60 L400.60,662.50 L401.00,660.53 L401.40,657.81 L401.80,655.13 L402.20,653.67 L402.60,654.18 L403.00,656.39 L403.40,659.23 L403.80,661.63 L404.20,663.15 L404.60,663.89 L405.00,664.18 L405.40,664.27 L405.80,664.29 L406.20,664.30 L406.60,664.30 L407.00,664.30 L407.40,664.30 L407.80,664.30 L408.20,664.30 L408.60,664.30 L409.00,664.30 L409.40,664.30 L409.80,664.30 L410.20,664.30 L410.60,664.30 L411.00,664.30 L411.40,664.30 L411.80,664.30 L412.20,664.30 L412.60,664.30 L413.00,664.30 L413.40,664.30 L413.80,664.30 L414.20,664.30 L414.60,664.30 L415.00,664.30 L415.40,664.30 L415.80,664.30 L416.20,664.30 L416.60,664.30 L417.00,664.30 L417.40,664.30 L417.80,664.30 L418.20,664.30 L418.60,664.30 L419.00,664.30 L419.40,664.30 L419.80,664.30 L420.20,664.30 L420.60,664.30 L421.00,664.30 L421.40,664.30 L421.80,664.30 L422.20,664.30 L422.60,664.30 L423.00,664.30 L423.40,664.30 L423.80,664.30 L424.20,664.30 L424.60,664.30 L425.00,664.30 L425.40,664.30 L425.80,664.30 L426.20,664.30 L426.60,664.30 L427.00,664.30 L427.40,664.30 L427.80,664.30 L428.20,664.30 L428.60,664.30 L429.00,664.30 L429.40,664.30 L429.80,664.30 L430.20,664.30 L430.60,664.30 L431.00,664.30 L431.40,664.30 L431.80,664.30 L432.20,664.30 L432.60,664.30 L433.00,664.30 L433.40,664.30 L433.80,664.30 L434.20,664.30 L434.60,664.29 L435.00,664.26 L435.40,664.18 L435.80,663.97 L436.20,663.49 L436.60,662.57 L437.00,661.06 L437.40,658.98 L437.80,656.64 L438.20,654.65 L438.60,653.64 L439.00,653.99 L439.40,655.56 L439.80,657.81 L440.20,660.08 L440.60,661.89 L441.00,663.10 L441.40,663.77 L441.80,664.10 L442.20,664.23 L442.60,664.28 L443.00,664.29 L443.40,664.30 L443.80,664.30 L444.20,664.30 L444.60,664.30 L445.00,664.30 L445.40,664.30 L445.80,664.30 L446.20,664.30 L446.60,664.30 L447.00,664.30 L447.40,664.30 L447.80,664.30 L448.20,664.30 L448.60,664.30 L449.00,664.30 L449.40,664.30 L449.80,664.30 L450.20,664.30 L450.60,664.30 L451.00,664.30 L451.40,664.30 L451.80,664.30 L452.20,664.30 L452.60,664.30 L453.00,664.30 L453.40,664.30 L453.80,664.30 L454.20,664.30 L454.60,664.30 L455.00,664.30 L455.40,664.30 L455.80,664.30 L456.20,664.30 L456.60,664.30 L457.00,664.30 L457.40,664.30 L457.80,664.30 L458.20,664.30 L458.60,664.30 L459.00,664.30 L459.40,664.30 L459.80,664.30 L460.20,664.30 L460.60,664.30 L461.00,664.30 L461.40,664.30 L461.80,664.30 L462.20,664.30 L462.60,664.30 L463.00,664.30 L463.40,664.30 L463.80,664.30 L464.20,664.30 L464.60,664.30 L465.00,664.30 L465.40,664.30 L465.80,664.30 L466.20,664.30 L466.60,664.30 L467.00,664.29 L467.40,664.25 L467.80,664.14 L468.20,663.83 L468.60,663.12 L469.00,661.78 L469.40,659.70 L469.80,657.16 L470.20,654.86 L470.60,653.65 L471.00,654.07 L471.40,655.93 L471.80,658.46 L472.20,660.83 L472.60,662.54 L473.00,663.54 L473.40,664.02 L473.80,664.21 L474.20,664.28 L474.60,664.29 L475.00,664.30 L475.40,664.30 L475.80,664.30 L476.20,664.30 L476.60,664.30 L477.00,664.30 L477.40,664.30 L477.80,664.30 L478.20,664.30 L478.60,664.30 L479.00,664.30 L479.40,664.30 L479.80,664.30 L480.20,664.30 L480.60,664.30 L481.00,664.30 L481.40,664.30 L481.80,664.30 L482.20,664.30 L482.60,664.30 L483.00,664.30 L483.40,664.30 L483.80,664.30 L484.20,664.30 L484.60,664.30 L485.00,664.30 L485.40,664.30 L485.80,664.30 L486.20,664.30 L486.60,664.30 L487.00,664.30 L487.40,664.30 L487.80,664.30 L488.20,664.30 L488.60,664.30 L489.00,664.30 L489.40,664.30 L489.80,664.30 L490.20,664.30 L490.60,664.30 L491.00,664.30 L491.40,664.30 L491.80,664.30 L492.20,664.30 L492.60,664.30 L493.00,664.30 L493.40,664.30 L493.80,664.30 L494.20,664.30 L494.60,664.30 L495.00,664.30 L495.40,664.30 L495.80,664.30 L496.20,664.30 L496.60,664.30 L497.00,664.30 L497.40,664.29 L497.80,664.25 L498.20,664.14 L498.60,663.91 L499.00,663.57 L499.40,663.24 L499.80,663.10 L500.20,663.24 L500.60,663.57 L501.00,663.91 L501.40,664.14 L501.80,664.25 L502.20,664.29 L502.60,664.30 L503.00,664.30 L503.40,664.30 L503.80,664.30 L504.20,664.30 L504.60,664.30 L505.00,664.30 L505.40,664.30 L505.80,664.30 L506.20,664.30 L506.60,664.30 L507.00,664.30 L507.40,664.30 L507.80,664.30 L508.20,664.30 L508.60,664.30 L509.00,664.30 L509.40,664.30 L509.80,664.30 L510.20,664.30 L510.60,664.30 L511.00,664.30 L511.00,664.30Z" fill="#55621a"/>
<text x="26.80" y="620.50" font-size="6.4" fill="#333" text-anchor="start" font-weight="normal" >[0 - 2803]</text>
<text x="141.60" y="620.50" font-size="6.4" fill="#333" text-anchor="start" font-weight="normal" >[0 - 2122]</text>
<text x="254.00" y="620.50" font-size="6.4" fill="#333" text-anchor="start" font-weight="normal" >[0 - 140]</text>
<text x="339.20" y="620.50" font-size="6.4" fill="#333" text-anchor="start" font-weight="normal" >[0 - 3656]</text>
<text x="26.80" y="637.80" font-size="6.4" fill="#333" text-anchor="start" font-weight="normal" >[0 - 2803]</text>
<text x="141.60" y="637.80" font-size="6.4" fill="#333" text-anchor="start" font-weight="normal" >[0 - 2122]</text>
<text x="254.00" y="637.80" font-size="6.4" fill="#333" text-anchor="start" font-weight="normal" >[0 - 140]</text>
<text x="339.20" y="637.80" font-size="6.4" fill="#333" text-anchor="start" font-weight="normal" >[0 - 3656]</text>
<text x="26.80" y="654.80" font-size="6.4" fill="#333" text-anchor="start" font-weight="normal" >[0 - 2803]</text>
<text x="141.60" y="654.80" font-size="6.4" fill="#333" text-anchor="start" font-weight="normal" >[0 - 2122]</text>
<text x="254.00" y="654.80" font-size="6.4" fill="#333" text-anchor="start" font-weight="normal" >[0 - 140]</text>
<text x="339.20" y="654.80" font-size="6.4" fill="#333" text-anchor="start" font-weight="normal" >[0 - 3656]</text>
<text x="59.00" y="626.00" font-size="6.6" fill="#7a6a32" text-anchor="start" font-weight="normal" >EV</text>
<text x="59.00" y="643.30" font-size="6.6" fill="#7a6a32" text-anchor="start" font-weight="normal" >OE</text>
<text x="59.00" y="660.50" font-size="6.6" fill="#7a6a32" text-anchor="start" font-weight="normal" >Y2A</text>
<rect x="19.0" y="617.5" width="1.6" height="47.2" fill="#5b5716"/>
<text x="0.00" y="0.00" font-size="8.4" fill="#6d6420" text-anchor="middle" font-weight="normal" transform="translate(15.2,641.7) rotate(-90)">ATAC</text>
<line x1="93.20" y1="668.60" x2="122.00" y2="668.60" stroke="#21127a" stroke-width="0.7" />
<rect x="93.20" y="666.00" width="3.30" height="5.20" fill="#21127a" stroke="none" stroke-width="1" />
<rect x="112.80" y="666.00" width="3.50" height="5.20" fill="#21127a" stroke="none" stroke-width="1" />
<rect x="118.60" y="666.00" width="3.40" height="5.20" fill="#21127a" stroke="none" stroke-width="1" />
<rect x="172.20" y="667.40" width="70.80" height="3.40" fill="#21127a" stroke="none" stroke-width="1" />
<rect x="184.70" y="668.70" width="0.80" height="0.80" fill="#9a90d0" stroke="none" stroke-width="1" />
<rect x="197.20" y="668.70" width="0.80" height="0.80" fill="#9a90d0" stroke="none" stroke-width="1" />
<rect x="209.70" y="668.70" width="0.80" height="0.80" fill="#9a90d0" stroke="none" stroke-width="1" />
<rect x="222.20" y="668.70" width="0.80" height="0.80" fill="#9a90d0" stroke="none" stroke-width="1" />
<rect x="234.70" y="668.70" width="0.80" height="0.80" fill="#9a90d0" stroke="none" stroke-width="1" />
<line x1="270.40" y1="669.10" x2="284.60" y2="669.10" stroke="#21127a" stroke-width="0.7" />
<rect x="270.40" y="666.80" width="2.20" height="4.60" fill="#21127a" stroke="none" stroke-width="1" />
<rect x="279.60" y="666.80" width="1.60" height="4.60" fill="#21127a" stroke="none" stroke-width="1" />
<rect x="282.40" y="666.80" width="2.20" height="4.60" fill="#21127a" stroke="none" stroke-width="1" />
<line x1="314.90" y1="669.10" x2="328.70" y2="669.10" stroke="#21127a" stroke-width="0.7" />
<rect x="314.90" y="666.80" width="2.20" height="4.60" fill="#21127a" stroke="none" stroke-width="1" />
<rect x="323.70" y="666.80" width="1.60" height="4.60" fill="#21127a" stroke="none" stroke-width="1" />
<rect x="326.50" y="666.80" width="2.20" height="4.60" fill="#21127a" stroke="none" stroke-width="1" />
<text x="104.40" y="679.60" font-size="6.4" fill="#333" text-anchor="middle" font-weight="normal" >HBB</text>
<text x="208.00" y="679.60" font-size="6.4" fill="#333" text-anchor="middle" font-weight="normal" >BGLT3</text>
<text x="279.00" y="679.60" font-size="6.4" fill="#333" text-anchor="middle" font-weight="normal" >HBG1</text>
<text x="323.10" y="679.60" font-size="6.4" fill="#333" text-anchor="middle" font-weight="normal" >HBG2</text>
<text x="359.50" y="675.10" font-size="6.4" fill="#333" text-anchor="middle" font-weight="normal" >HS1</text>
<text x="402.90" y="675.10" font-size="6.4" fill="#333" text-anchor="middle" font-weight="normal" >HS2</text>
<text x="439.30" y="675.10" font-size="6.4" fill="#333" text-anchor="middle" font-weight="normal" >HS3</text>
<text x="472.20" y="675.10" font-size="6.4" fill="#333" text-anchor="middle" font-weight="normal" >HS4</text>
<text x="499.60" y="675.10" font-size="6.4" fill="#333" text-anchor="middle" font-weight="normal" >HS5</text>
<rect x="0" y="0" width="520" height="1.1" fill="#4a4a4a"/>
<rect x="0" y="686.6" width="520" height="1.4" fill="#3a3a3a"/>
<rect x="0" y="0" width="1.1" height="688" fill="#4a4a4a"/>
<rect x="518.9" y="0" width="1.1" height="688" fill="#4a4a4a"/>
</svg>
</body></html>
